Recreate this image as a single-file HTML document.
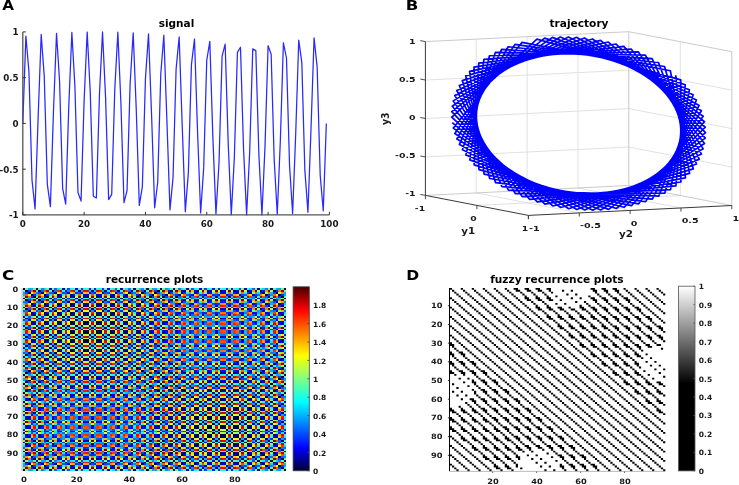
<!DOCTYPE html>
<html><head><meta charset="utf-8"><style>
html,body{margin:0;padding:0;background:#fff;}
svg{display:block}
text{font-family:"DejaVu Sans","Liberation Sans",sans-serif;font-weight:bold}
</style></head><body>
<svg width="739" height="485" viewBox="0 0 739 485">
<polyline points="22.80,123.40 25.87,36.03 28.93,71.51 32.00,179.96 35.06,208.87 38.13,117.60 41.20,34.48 44.26,76.40 47.33,184.41 50.39,206.63 53.46,111.82 56.53,33.29 59.59,81.47 62.66,188.61 65.72,204.05 68.79,106.08 71.86,32.46 74.92,86.71 77.99,192.55 81.05,201.15 84.12,100.42 87.19,32.00 90.25,92.11 93.32,196.21 96.38,197.93 99.45,94.85 102.52,31.91 105.58,97.62 108.65,199.58 111.71,194.42 114.78,89.39 117.85,32.19 120.91,103.24 123.98,202.64 127.04,190.62 130.11,84.07 133.18,32.83 136.24,108.94 139.31,205.38 142.37,186.54 145.44,78.91 148.51,33.84 151.57,114.70 154.64,207.80 157.70,182.22 160.77,73.93 163.84,35.21 166.90,120.50 169.97,209.87 173.03,177.65 176.10,69.15 179.17,36.93 182.23,126.30 185.30,211.59 188.36,172.87 191.43,64.58 194.50,39.00 197.56,132.10 200.63,212.96 203.69,167.89 206.76,60.26 209.83,41.42 212.89,137.86 215.96,213.97 219.02,162.73 222.09,56.18 225.16,44.16 228.22,143.56 231.29,214.61 234.35,157.41 237.42,52.38 240.49,47.22 243.55,149.18 246.62,214.89 249.68,151.95 252.75,48.87 255.82,50.59 258.88,154.69 261.95,214.80 265.01,146.38 268.08,45.65 271.15,54.25 274.21,160.09 277.28,214.34 280.34,140.72 283.41,42.75 286.48,58.19 289.54,165.33 292.61,213.51 295.67,134.98 298.74,40.17 301.81,62.39 304.87,170.40 307.94,212.32 311.00,129.20 314.07,37.93 317.14,66.84 320.20,175.29 323.27,210.77 326.33,123.40" fill="none" stroke="#2828ff" stroke-width="1.25" stroke-linejoin="round"/>
<path d="M22.8 31.9V214.9H329.4" fill="none" stroke="#555" stroke-width="1.3"/>
<text transform="translate(18.70,218.40) scale(1.065,1)" text-anchor="end" font-size="8.2" fill="#1a1a1a">-1</text>
<text transform="translate(18.70,172.65) scale(1.065,1)" text-anchor="end" font-size="8.2" fill="#1a1a1a">-0.5</text>
<text transform="translate(18.70,126.90) scale(1.065,1)" text-anchor="end" font-size="8.2" fill="#1a1a1a">0</text>
<text transform="translate(18.70,81.15) scale(1.065,1)" text-anchor="end" font-size="8.2" fill="#1a1a1a">0.5</text>
<text transform="translate(18.70,35.40) scale(1.065,1)" text-anchor="end" font-size="8.2" fill="#1a1a1a">1</text>
<text transform="translate(22.80,226.60) scale(1.065,1)" text-anchor="middle" font-size="8.2" fill="#1a1a1a">0</text>
<text transform="translate(84.12,226.60) scale(1.065,1)" text-anchor="middle" font-size="8.2" fill="#1a1a1a">20</text>
<text transform="translate(145.44,226.60) scale(1.065,1)" text-anchor="middle" font-size="8.2" fill="#1a1a1a">40</text>
<text transform="translate(206.76,226.60) scale(1.065,1)" text-anchor="middle" font-size="8.2" fill="#1a1a1a">60</text>
<text transform="translate(268.08,226.60) scale(1.065,1)" text-anchor="middle" font-size="8.2" fill="#1a1a1a">80</text>
<text transform="translate(329.40,226.60) scale(1.065,1)" text-anchor="middle" font-size="8.2" fill="#1a1a1a">100</text>
<path d="M22.8 214.90h3 M22.8 169.15h3 M22.8 123.40h3 M22.8 77.65h3 M22.8 31.90h3 M22.80 214.9v-3 M84.12 214.9v-3 M145.44 214.9v-3 M206.76 214.9v-3 M268.08 214.9v-3 M329.40 214.9v-3" stroke="#333" stroke-width="1"/>
<text transform="translate(176.50,27.30)" text-anchor="middle" font-size="10.5" fill="#000">signal</text>
<path d="M476.25 192.93L476.25 39.12M425.40 156.95L628.80 147.05M628.80 147.05L731.80 167.05M476.25 192.93L579.25 212.93M527.10 190.45L527.10 36.65M425.40 118.50L628.80 108.60M628.80 108.60L731.80 128.60M527.10 190.45L630.10 210.45M577.95 187.97L577.95 34.17M425.40 80.05L628.80 70.15M628.80 70.15L731.80 90.15M577.95 187.97L680.95 207.97M680.30 195.50L680.30 41.70M476.90 205.40L680.30 195.50" stroke="#dedede" stroke-width="0.9" fill="none"/>
<path d="M425.40 41.60L628.80 31.70L731.80 51.70L731.80 205.50M628.80 185.50L628.80 31.70M425.40 195.40L628.80 185.50L731.80 205.50" stroke="#c4c4c4" stroke-width="0.9" fill="none"/>
<polyline points="675.71,75.22 685.45,177.83 544.94,204.12 451.76,117.12 536.94,39.16 680.70,79.87 680.89,182.00 537.24,201.94 451.75,111.65 544.63,38.10 685.27,84.70 675.92,185.94 529.72,199.44 452.25,106.23 552.45,37.37 689.42,89.69 670.56,189.62 522.39,196.64 453.26,100.89 560.38,37.00 693.12,94.82 664.83,193.04 515.29,193.55 454.78,95.63 568.38,36.97 696.36,100.06 658.75,196.18 508.44,190.17 456.79,90.49 576.43,37.29 699.12,105.39 652.34,199.03 501.87,186.53 459.29,85.47 584.48,37.96 701.40,110.80 645.64,201.57 495.61,182.63 462.28,80.62 592.51,38.97 703.18,116.26 638.68,203.80 489.69,178.50 465.73,75.93 600.48,40.33 704.47,121.75 631.46,205.70 484.13,174.14 469.63,71.44 608.36,42.02 705.24,127.24 624.04,207.28 478.94,169.58 473.98,67.16 616.13,44.03 705.51,132.72 616.43,208.51 474.16,164.83 478.75,63.10 623.74,46.37 705.26,138.17 608.67,209.41 469.80,159.92 483.91,59.29 631.17,49.02 704.51,143.55 600.79,209.96 465.87,154.86 489.46,55.74 638.39,51.97 703.24,148.86 592.83,210.16 462.40,149.68 495.37,52.45 645.37,55.20 701.48,154.06 584.80,210.01 459.40,144.39 501.62,49.46 652.08,58.72 699.22,159.14 576.75,209.52 456.88,139.01 508.17,46.76 658.50,62.49 696.48,164.07 568.70,208.68 454.85,133.58 515.01,44.38 664.59,66.51 693.26,168.85 560.70,207.49 453.31,128.10 522.10,42.31 670.34,70.76 689.58,173.44 552.77,205.97 452.28,122.61" fill="none" stroke="#0000ff" stroke-width="1.7" stroke-linejoin="round"/>
<path d="M425.40 41.60L425.40 195.40L528.40 215.40L731.80 205.50" stroke="#3a3a3a" stroke-width="1.0" fill="none"/>
<text transform="translate(415.60,196.40) scale(1.270,1)" text-anchor="end" font-size="7.4" fill="#1a1a1a">-1</text>
<text transform="translate(415.60,158.25) scale(1.270,1)" text-anchor="end" font-size="7.4" fill="#1a1a1a">-0.5</text>
<text transform="translate(415.60,120.10) scale(1.270,1)" text-anchor="end" font-size="7.4" fill="#1a1a1a">0</text>
<text transform="translate(415.60,81.95) scale(1.270,1)" text-anchor="end" font-size="7.4" fill="#1a1a1a">0.5</text>
<text transform="translate(415.60,43.80) scale(1.270,1)" text-anchor="end" font-size="7.4" fill="#1a1a1a">1</text>
<text transform="translate(425.10,211.20) scale(1.250,1)" text-anchor="end" font-size="7.4" fill="#1a1a1a">-1</text>
<text transform="translate(476.60,221.20) scale(1.250,1)" text-anchor="end" font-size="7.4" fill="#1a1a1a">0</text>
<text transform="translate(528.10,231.20) scale(1.250,1)" text-anchor="end" font-size="7.4" fill="#1a1a1a">1</text>
<text transform="translate(529.10,230.80) scale(1.290,1)" font-size="7.4" fill="#1a1a1a">-1</text>
<text transform="translate(579.95,228.33) scale(1.290,1)" font-size="7.4" fill="#1a1a1a">-0.5</text>
<text transform="translate(630.80,225.85) scale(1.290,1)" font-size="7.4" fill="#1a1a1a">0</text>
<text transform="translate(681.65,223.38) scale(1.290,1)" font-size="7.4" fill="#1a1a1a">0.5</text>
<text transform="translate(732.50,220.90) scale(1.290,1)" font-size="7.4" fill="#1a1a1a">1</text>
<path d="M425.40 195.40L420.30 194.41M425.40 156.95L420.30 155.96M425.40 118.50L420.30 117.51M425.40 80.05L420.30 79.06M425.40 41.60L420.30 40.61M425.40 195.40l0 3.8M476.90 205.40l0 3.8M528.40 215.40l0 3.8M528.40 215.40l0 3.6M579.25 212.93l0 3.6M630.10 210.45l0 3.6M680.95 207.97l0 3.6M731.80 205.50l0 3.6" stroke="#3a3a3a" stroke-width="0.9"/>
<text transform="translate(468.30,233.90) scale(1.190,1)" text-anchor="middle" font-size="8.7" fill="#1a1a1a">y1</text>
<text transform="translate(626.00,236.60) scale(1.190,1)" text-anchor="middle" font-size="8.7" fill="#1a1a1a">y2</text>
<text transform="translate(388.60,118.75) scale(1.070,1) rotate(-90)" text-anchor="middle" font-size="9.4" fill="#1a1a1a">y3</text>
<text transform="translate(579.00,27.00)" text-anchor="middle" font-size="10.6" fill="#000">trajectory</text>
<g transform="translate(22.6,288.4) scale(2.63600,1.82300)" shape-rendering="crispEdges">
<path fill="#000040" d="M0 0h1v1h-1zM99 0h1v1h-1zM1 1h1v1h-1zM6 1h1v1h-1zM11 1h1v1h-1zM41 1h1v1h-1zM46 1h1v1h-1zM51 1h1v1h-1zM95 1h1v1h-1zM2 2h1v1h-1zM45 2h1v1h-1zM50 2h1v1h-1zM3 3h1v1h-1zM44 3h1v1h-1zM49 3h1v1h-1zM4 4h1v1h-1zM9 4h1v1h-1zM43 4h1v1h-1zM48 4h1v1h-1zM53 4h1v1h-1zM98 4h1v1h-1zM5 5h1v1h-1zM1 6h1v1h-1zM6 6h1v1h-1zM11 6h1v1h-1zM16 6h1v1h-1zM21 6h1v1h-1zM26 6h1v1h-1zM31 6h1v1h-1zM36 6h1v1h-1zM41 6h1v1h-1zM46 6h1v1h-1zM51 6h1v1h-1zM7 7h1v1h-1zM40 7h1v1h-1zM45 7h1v1h-1zM8 8h1v1h-1zM39 8h1v1h-1zM44 8h1v1h-1zM4 9h1v1h-1zM9 9h1v1h-1zM14 9h1v1h-1zM38 9h1v1h-1zM43 9h1v1h-1zM10 10h1v1h-1zM1 11h1v1h-1zM6 11h1v1h-1zM11 11h1v1h-1zM16 11h1v1h-1zM21 11h1v1h-1zM26 11h1v1h-1zM31 11h1v1h-1zM36 11h1v1h-1zM41 11h1v1h-1zM46 11h1v1h-1zM12 12h1v1h-1zM35 12h1v1h-1zM40 12h1v1h-1zM13 13h1v1h-1zM34 13h1v1h-1zM39 13h1v1h-1zM9 14h1v1h-1zM14 14h1v1h-1zM33 14h1v1h-1zM38 14h1v1h-1zM15 15h1v1h-1zM32 15h1v1h-1zM37 15h1v1h-1zM6 16h1v1h-1zM11 16h1v1h-1zM16 16h1v1h-1zM21 16h1v1h-1zM26 16h1v1h-1zM31 16h1v1h-1zM36 16h1v1h-1zM41 16h1v1h-1zM46 16h1v1h-1zM17 17h1v1h-1zM30 17h1v1h-1zM35 17h1v1h-1zM18 18h1v1h-1zM29 18h1v1h-1zM34 18h1v1h-1zM19 19h1v1h-1zM28 19h1v1h-1zM33 19h1v1h-1zM20 20h1v1h-1zM27 20h1v1h-1zM32 20h1v1h-1zM6 21h1v1h-1zM11 21h1v1h-1zM16 21h1v1h-1zM21 21h1v1h-1zM26 21h1v1h-1zM31 21h1v1h-1zM36 21h1v1h-1zM41 21h1v1h-1zM22 22h1v1h-1zM25 22h1v1h-1zM30 22h1v1h-1zM23 23h2v1h-2zM29 23h1v1h-1zM23 24h2v1h-2zM28 24h1v1h-1zM22 25h1v1h-1zM25 25h1v1h-1zM27 25h1v1h-1zM6 26h1v1h-1zM11 26h1v1h-1zM16 26h1v1h-1zM21 26h1v1h-1zM26 26h1v1h-1zM31 26h1v1h-1zM36 26h1v1h-1zM41 26h1v1h-1zM20 27h1v1h-1zM25 27h1v1h-1zM27 27h1v1h-1zM19 28h1v1h-1zM24 28h1v1h-1zM28 28h1v1h-1zM18 29h1v1h-1zM23 29h1v1h-1zM29 29h1v1h-1zM17 30h1v1h-1zM22 30h1v1h-1zM30 30h1v1h-1zM6 31h1v1h-1zM11 31h1v1h-1zM16 31h1v1h-1zM21 31h1v1h-1zM26 31h1v1h-1zM31 31h1v1h-1zM36 31h1v1h-1zM41 31h1v1h-1zM15 32h1v1h-1zM20 32h1v1h-1zM32 32h1v1h-1zM14 33h1v1h-1zM19 33h1v1h-1zM33 33h1v1h-1zM38 33h1v1h-1zM13 34h1v1h-1zM18 34h1v1h-1zM34 34h1v1h-1zM12 35h1v1h-1zM17 35h1v1h-1zM35 35h1v1h-1zM6 36h1v1h-1zM11 36h1v1h-1zM16 36h1v1h-1zM21 36h1v1h-1zM26 36h1v1h-1zM31 36h1v1h-1zM36 36h1v1h-1zM41 36h1v1h-1zM46 36h1v1h-1zM15 37h1v1h-1zM37 37h1v1h-1zM9 38h1v1h-1zM14 38h1v1h-1zM33 38h1v1h-1zM38 38h1v1h-1zM43 38h1v1h-1zM8 39h1v1h-1zM13 39h1v1h-1zM39 39h1v1h-1zM7 40h1v1h-1zM12 40h1v1h-1zM40 40h1v1h-1zM1 41h1v1h-1zM6 41h1v1h-1zM11 41h1v1h-1zM16 41h1v1h-1zM21 41h1v1h-1zM26 41h1v1h-1zM31 41h1v1h-1zM36 41h1v1h-1zM41 41h1v1h-1zM46 41h1v1h-1zM42 42h1v1h-1zM4 43h1v1h-1zM9 43h1v1h-1zM38 43h1v1h-1zM43 43h1v1h-1zM48 43h1v1h-1zM3 44h1v1h-1zM8 44h1v1h-1zM44 44h1v1h-1zM2 45h1v1h-1zM7 45h1v1h-1zM45 45h1v1h-1zM1 46h1v1h-1zM6 46h1v1h-1zM11 46h1v1h-1zM16 46h1v1h-1zM36 46h1v1h-1zM41 46h1v1h-1zM46 46h1v1h-1zM51 46h1v1h-1zM95 46h1v1h-1zM47 47h1v1h-1zM4 48h1v1h-1zM43 48h1v1h-1zM48 48h1v1h-1zM53 48h1v1h-1zM93 48h1v1h-1zM98 48h1v1h-1zM3 49h1v1h-1zM49 49h1v1h-1zM97 49h1v1h-1zM2 50h1v1h-1zM50 50h1v1h-1zM96 50h1v1h-1zM1 51h1v1h-1zM6 51h1v1h-1zM46 51h1v1h-1zM51 51h1v1h-1zM56 51h1v1h-1zM95 51h1v1h-1zM52 52h1v1h-1zM4 53h1v1h-1zM48 53h1v1h-1zM53 53h1v1h-1zM58 53h1v1h-1zM63 53h1v1h-1zM83 53h1v1h-1zM88 53h1v1h-1zM93 53h1v1h-1zM98 53h1v1h-1zM54 54h1v1h-1zM92 54h1v1h-1zM97 54h1v1h-1zM55 55h1v1h-1zM91 55h1v1h-1zM96 55h1v1h-1zM51 56h1v1h-1zM56 56h1v1h-1zM61 56h1v1h-1zM90 56h1v1h-1zM95 56h1v1h-1zM57 57h1v1h-1zM53 58h1v1h-1zM58 58h1v1h-1zM63 58h1v1h-1zM68 58h1v1h-1zM73 58h1v1h-1zM78 58h1v1h-1zM83 58h1v1h-1zM88 58h1v1h-1zM93 58h1v1h-1zM98 58h1v1h-1zM59 59h1v1h-1zM87 59h1v1h-1zM92 59h1v1h-1zM60 60h1v1h-1zM86 60h1v1h-1zM91 60h1v1h-1zM56 61h1v1h-1zM61 61h1v1h-1zM66 61h1v1h-1zM85 61h1v1h-1zM90 61h1v1h-1zM62 62h1v1h-1zM84 62h1v1h-1zM53 63h1v1h-1zM58 63h1v1h-1zM63 63h1v1h-1zM68 63h1v1h-1zM73 63h1v1h-1zM78 63h1v1h-1zM83 63h1v1h-1zM88 63h1v1h-1zM93 63h1v1h-1zM64 64h1v1h-1zM82 64h1v1h-1zM87 64h1v1h-1zM65 65h1v1h-1zM81 65h1v1h-1zM86 65h1v1h-1zM61 66h1v1h-1zM66 66h1v1h-1zM80 66h1v1h-1zM85 66h1v1h-1zM67 67h1v1h-1zM79 67h1v1h-1zM84 67h1v1h-1zM58 68h1v1h-1zM63 68h1v1h-1zM68 68h1v1h-1zM73 68h1v1h-1zM78 68h1v1h-1zM83 68h1v1h-1zM88 68h1v1h-1zM93 68h1v1h-1zM69 69h1v1h-1zM77 69h1v1h-1zM82 69h1v1h-1zM70 70h1v1h-1zM76 70h1v1h-1zM81 70h1v1h-1zM71 71h1v1h-1zM75 71h1v1h-1zM80 71h1v1h-1zM72 72h1v1h-1zM74 72h1v1h-1zM79 72h1v1h-1zM58 73h1v1h-1zM63 73h1v1h-1zM68 73h1v1h-1zM73 73h1v1h-1zM78 73h1v1h-1zM83 73h1v1h-1zM88 73h1v1h-1zM93 73h1v1h-1zM72 74h1v1h-1zM74 74h1v1h-1zM77 74h1v1h-1zM71 75h1v1h-1zM75 75h2v1h-2zM70 76h1v1h-1zM75 76h2v1h-2zM69 77h1v1h-1zM74 77h1v1h-1zM77 77h1v1h-1zM58 78h1v1h-1zM63 78h1v1h-1zM68 78h1v1h-1zM73 78h1v1h-1zM78 78h1v1h-1zM83 78h1v1h-1zM88 78h1v1h-1zM93 78h1v1h-1zM67 79h1v1h-1zM72 79h1v1h-1zM79 79h1v1h-1zM66 80h1v1h-1zM71 80h1v1h-1zM80 80h1v1h-1zM65 81h1v1h-1zM70 81h1v1h-1zM81 81h1v1h-1zM64 82h1v1h-1zM69 82h1v1h-1zM82 82h1v1h-1zM53 83h1v1h-1zM58 83h1v1h-1zM63 83h1v1h-1zM68 83h1v1h-1zM73 83h1v1h-1zM78 83h1v1h-1zM83 83h1v1h-1zM88 83h1v1h-1zM93 83h1v1h-1zM62 84h1v1h-1zM67 84h1v1h-1zM84 84h1v1h-1zM61 85h1v1h-1zM66 85h1v1h-1zM85 85h1v1h-1zM90 85h1v1h-1zM60 86h1v1h-1zM65 86h1v1h-1zM86 86h1v1h-1zM59 87h1v1h-1zM64 87h1v1h-1zM87 87h1v1h-1zM53 88h1v1h-1zM58 88h1v1h-1zM63 88h1v1h-1zM68 88h1v1h-1zM73 88h1v1h-1zM78 88h1v1h-1zM83 88h1v1h-1zM88 88h1v1h-1zM93 88h1v1h-1zM98 88h1v1h-1zM89 89h1v1h-1zM56 90h1v1h-1zM61 90h1v1h-1zM85 90h1v1h-1zM90 90h1v1h-1zM95 90h1v1h-1zM55 91h1v1h-1zM60 91h1v1h-1zM91 91h1v1h-1zM54 92h1v1h-1zM59 92h1v1h-1zM92 92h1v1h-1zM48 93h1v1h-1zM53 93h1v1h-1zM58 93h1v1h-1zM63 93h1v1h-1zM68 93h1v1h-1zM73 93h1v1h-1zM78 93h1v1h-1zM83 93h1v1h-1zM88 93h1v1h-1zM93 93h1v1h-1zM98 93h1v1h-1zM94 94h1v1h-1zM1 95h1v1h-1zM46 95h1v1h-1zM51 95h1v1h-1zM56 95h1v1h-1zM90 95h1v1h-1zM95 95h1v1h-1zM50 96h1v1h-1zM55 96h1v1h-1zM96 96h1v1h-1zM49 97h1v1h-1zM54 97h1v1h-1zM97 97h1v1h-1zM4 98h1v1h-1zM48 98h1v1h-1zM53 98h1v1h-1zM58 98h1v1h-1zM88 98h1v1h-1zM93 98h1v1h-1zM98 98h1v1h-1zM0 99h1v1h-1zM99 99h1v1h-1z"/>
<path fill="#000059" d="M47 0h1v1h-1zM52 0h1v1h-1zM16 1h1v1h-1zM21 1h1v1h-1zM26 1h1v1h-1zM31 1h1v1h-1zM36 1h1v1h-1zM56 1h1v1h-1zM61 1h1v1h-1zM90 1h1v1h-1zM7 2h1v1h-1zM96 2h1v1h-1zM8 3h1v1h-1zM97 3h1v1h-1zM14 4h1v1h-1zM38 4h1v1h-1zM58 4h1v1h-1zM63 4h1v1h-1zM83 4h1v1h-1zM88 4h1v1h-1zM93 4h1v1h-1zM42 5h1v1h-1zM47 5h1v1h-1zM56 6h1v1h-1zM90 6h1v1h-1zM95 6h1v1h-1zM2 7h1v1h-1zM12 7h1v1h-1zM3 8h1v1h-1zM13 8h1v1h-1zM19 9h1v1h-1zM33 9h1v1h-1zM48 9h1v1h-1zM53 9h1v1h-1zM93 9h1v1h-1zM98 9h1v1h-1zM37 10h1v1h-1zM42 10h1v1h-1zM51 11h1v1h-1zM56 11h1v1h-1zM95 11h1v1h-1zM7 12h1v1h-1zM17 12h1v1h-1zM8 13h1v1h-1zM18 13h1v1h-1zM4 14h1v1h-1zM19 14h1v1h-1zM28 14h1v1h-1zM43 14h1v1h-1zM20 15h1v1h-1zM1 16h1v1h-1zM51 16h1v1h-1zM95 16h1v1h-1zM12 17h1v1h-1zM22 17h1v1h-1zM13 18h1v1h-1zM23 18h2v1h-2zM9 19h1v1h-1zM14 19h1v1h-1zM23 19h2v1h-2zM38 19h1v1h-1zM15 20h1v1h-1zM25 20h1v1h-1zM1 21h1v1h-1zM46 21h1v1h-1zM51 21h1v1h-1zM17 22h1v1h-1zM27 22h1v1h-1zM18 23h2v1h-2zM28 23h1v1h-1zM34 23h1v1h-1zM18 24h2v1h-2zM29 24h1v1h-1zM33 24h1v1h-1zM20 25h1v1h-1zM30 25h1v1h-1zM1 26h1v1h-1zM46 26h1v1h-1zM51 26h1v1h-1zM22 27h1v1h-1zM32 27h1v1h-1zM14 28h1v1h-1zM23 28h1v1h-1zM29 28h1v1h-1zM33 28h1v1h-1zM24 29h1v1h-1zM28 29h1v1h-1zM34 29h1v1h-1zM25 30h1v1h-1zM35 30h1v1h-1zM1 31h1v1h-1zM46 31h1v1h-1zM51 31h1v1h-1zM27 32h1v1h-1zM37 32h1v1h-1zM9 33h1v1h-1zM24 33h1v1h-1zM28 33h1v1h-1zM43 33h1v1h-1zM23 34h1v1h-1zM29 34h1v1h-1zM39 34h1v1h-1zM30 35h1v1h-1zM40 35h1v1h-1zM1 36h1v1h-1zM51 36h1v1h-1zM95 36h1v1h-1zM10 37h1v1h-1zM32 37h1v1h-1zM4 38h1v1h-1zM19 38h1v1h-1zM48 38h1v1h-1zM98 38h1v1h-1zM34 39h1v1h-1zM44 39h1v1h-1zM35 40h1v1h-1zM45 40h1v1h-1zM51 41h1v1h-1zM56 41h1v1h-1zM95 41h1v1h-1zM5 42h1v1h-1zM10 42h1v1h-1zM14 43h1v1h-1zM33 43h1v1h-1zM53 43h1v1h-1zM58 43h1v1h-1zM88 43h1v1h-1zM93 43h1v1h-1zM98 43h1v1h-1zM39 44h1v1h-1zM49 44h1v1h-1zM40 45h1v1h-1zM50 45h1v1h-1zM21 46h1v1h-1zM26 46h1v1h-1zM31 46h1v1h-1zM56 46h1v1h-1zM90 46h1v1h-1zM0 47h1v1h-1zM5 47h1v1h-1zM99 47h1v1h-1zM9 48h1v1h-1zM38 48h1v1h-1zM58 48h1v1h-1zM63 48h1v1h-1zM68 48h1v1h-1zM73 48h1v1h-1zM78 48h1v1h-1zM83 48h1v1h-1zM88 48h1v1h-1zM44 49h1v1h-1zM54 49h1v1h-1zM45 50h1v1h-1zM55 50h1v1h-1zM11 51h1v1h-1zM16 51h1v1h-1zM21 51h1v1h-1zM26 51h1v1h-1zM31 51h1v1h-1zM36 51h1v1h-1zM41 51h1v1h-1zM61 51h1v1h-1zM90 51h1v1h-1zM0 52h1v1h-1zM94 52h1v1h-1zM99 52h1v1h-1zM9 53h1v1h-1zM43 53h1v1h-1zM68 53h1v1h-1zM73 53h1v1h-1zM78 53h1v1h-1zM49 54h1v1h-1zM59 54h1v1h-1zM50 55h1v1h-1zM60 55h1v1h-1zM1 56h1v1h-1zM6 56h1v1h-1zM11 56h1v1h-1zM41 56h1v1h-1zM46 56h1v1h-1zM66 56h1v1h-1zM85 56h1v1h-1zM89 57h1v1h-1zM94 57h1v1h-1zM4 58h1v1h-1zM43 58h1v1h-1zM48 58h1v1h-1zM54 59h1v1h-1zM64 59h1v1h-1zM55 60h1v1h-1zM65 60h1v1h-1zM1 61h1v1h-1zM51 61h1v1h-1zM80 61h1v1h-1zM95 61h1v1h-1zM67 62h1v1h-1zM89 62h1v1h-1zM4 63h1v1h-1zM48 63h1v1h-1zM98 63h1v1h-1zM59 64h1v1h-1zM69 64h1v1h-1zM60 65h1v1h-1zM70 65h1v1h-1zM76 65h1v1h-1zM56 66h1v1h-1zM71 66h1v1h-1zM75 66h1v1h-1zM90 66h1v1h-1zM62 67h1v1h-1zM72 67h1v1h-1zM48 68h1v1h-1zM53 68h1v1h-1zM98 68h1v1h-1zM64 69h1v1h-1zM74 69h1v1h-1zM65 70h1v1h-1zM71 70h1v1h-1zM75 70h1v1h-1zM66 71h1v1h-1zM70 71h1v1h-1zM76 71h1v1h-1zM85 71h1v1h-1zM67 72h1v1h-1zM77 72h1v1h-1zM48 73h1v1h-1zM53 73h1v1h-1zM98 73h1v1h-1zM69 74h1v1h-1zM79 74h1v1h-1zM66 75h1v1h-1zM70 75h1v1h-1zM80 75h2v1h-2zM65 76h1v1h-1zM71 76h1v1h-1zM80 76h2v1h-2zM72 77h1v1h-1zM82 77h1v1h-1zM48 78h1v1h-1zM53 78h1v1h-1zM98 78h1v1h-1zM74 79h1v1h-1zM84 79h1v1h-1zM61 80h1v1h-1zM75 80h2v1h-2zM85 80h1v1h-1zM90 80h1v1h-1zM75 81h2v1h-2zM86 81h1v1h-1zM77 82h1v1h-1zM87 82h1v1h-1zM4 83h1v1h-1zM48 83h1v1h-1zM98 83h1v1h-1zM79 84h1v1h-1zM56 85h1v1h-1zM71 85h1v1h-1zM80 85h1v1h-1zM95 85h1v1h-1zM81 86h1v1h-1zM91 86h1v1h-1zM82 87h1v1h-1zM92 87h1v1h-1zM4 88h1v1h-1zM43 88h1v1h-1zM48 88h1v1h-1zM57 89h1v1h-1zM62 89h1v1h-1zM1 90h1v1h-1zM6 90h1v1h-1zM46 90h1v1h-1zM51 90h1v1h-1zM66 90h1v1h-1zM80 90h1v1h-1zM86 91h1v1h-1zM96 91h1v1h-1zM87 92h1v1h-1zM97 92h1v1h-1zM4 93h1v1h-1zM9 93h1v1h-1zM43 93h1v1h-1zM52 94h1v1h-1zM57 94h1v1h-1zM6 95h1v1h-1zM11 95h1v1h-1zM16 95h1v1h-1zM36 95h1v1h-1zM41 95h1v1h-1zM61 95h1v1h-1zM85 95h1v1h-1zM2 96h1v1h-1zM91 96h1v1h-1zM3 97h1v1h-1zM92 97h1v1h-1zM9 98h1v1h-1zM38 98h1v1h-1zM43 98h1v1h-1zM63 98h1v1h-1zM68 98h1v1h-1zM73 98h1v1h-1zM78 98h1v1h-1zM83 98h1v1h-1zM47 99h1v1h-1zM52 99h1v1h-1z"/>
<path fill="#000073" d="M5 0h1v1h-1zM94 0h1v1h-1zM66 1h1v1h-1zM85 1h1v1h-1zM40 2h1v1h-1zM55 2h1v1h-1zM39 3h1v1h-1zM54 3h1v1h-1zM19 4h1v1h-1zM33 4h1v1h-1zM68 4h1v1h-1zM73 4h1v1h-1zM78 4h1v1h-1zM0 5h1v1h-1zM10 5h1v1h-1zM99 5h1v1h-1zM61 6h1v1h-1zM85 6h1v1h-1zM35 7h1v1h-1zM50 7h1v1h-1zM18 8h1v1h-1zM34 8h1v1h-1zM49 8h1v1h-1zM28 9h1v1h-1zM58 9h1v1h-1zM63 9h1v1h-1zM68 9h1v1h-1zM73 9h1v1h-1zM78 9h1v1h-1zM83 9h1v1h-1zM88 9h1v1h-1zM5 10h1v1h-1zM15 10h1v1h-1zM32 10h1v1h-1zM61 11h1v1h-1zM90 11h1v1h-1zM30 12h1v1h-1zM45 12h1v1h-1zM23 13h1v1h-1zM29 13h1v1h-1zM44 13h1v1h-1zM23 14h2v1h-2zM48 14h1v1h-1zM53 14h1v1h-1zM93 14h1v1h-1zM98 14h1v1h-1zM10 15h1v1h-1zM27 15h1v1h-1zM56 16h1v1h-1zM90 16h1v1h-1zM25 17h1v1h-1zM40 17h1v1h-1zM8 18h1v1h-1zM28 18h1v1h-1zM39 18h1v1h-1zM4 19h1v1h-1zM29 19h1v1h-1zM43 19h1v1h-1zM22 20h1v1h-1zM37 20h1v1h-1zM56 21h1v1h-1zM90 21h1v1h-1zM95 21h1v1h-1zM20 22h1v1h-1zM35 22h1v1h-1zM13 23h2v1h-2zM33 23h1v1h-1zM14 24h1v1h-1zM34 24h1v1h-1zM38 24h1v1h-1zM17 25h1v1h-1zM32 25h1v1h-1zM56 26h1v1h-1zM90 26h1v1h-1zM95 26h1v1h-1zM15 27h1v1h-1zM30 27h1v1h-1zM9 28h1v1h-1zM18 28h1v1h-1zM38 28h1v1h-1zM43 28h1v1h-1zM13 29h1v1h-1zM19 29h1v1h-1zM33 29h1v1h-1zM39 29h1v1h-1zM12 30h1v1h-1zM27 30h1v1h-1zM56 31h1v1h-1zM90 31h1v1h-1zM95 31h1v1h-1zM10 32h1v1h-1zM25 32h1v1h-1zM4 33h1v1h-1zM23 33h1v1h-1zM29 33h1v1h-1zM48 33h1v1h-1zM98 33h1v1h-1zM8 34h1v1h-1zM24 34h1v1h-1zM44 34h1v1h-1zM7 35h1v1h-1zM22 35h1v1h-1zM56 36h1v1h-1zM90 36h1v1h-1zM20 37h1v1h-1zM42 37h1v1h-1zM24 38h1v1h-1zM28 38h1v1h-1zM53 38h1v1h-1zM58 38h1v1h-1zM88 38h1v1h-1zM93 38h1v1h-1zM3 39h1v1h-1zM18 39h1v1h-1zM29 39h1v1h-1zM2 40h1v1h-1zM17 40h1v1h-1zM61 41h1v1h-1zM90 41h1v1h-1zM37 42h1v1h-1zM47 42h1v1h-1zM19 43h1v1h-1zM28 43h1v1h-1zM63 43h1v1h-1zM68 43h1v1h-1zM73 43h1v1h-1zM78 43h1v1h-1zM83 43h1v1h-1zM13 44h1v1h-1zM34 44h1v1h-1zM97 44h1v1h-1zM12 45h1v1h-1zM96 45h1v1h-1zM61 46h1v1h-1zM85 46h1v1h-1zM42 47h1v1h-1zM52 47h1v1h-1zM14 48h1v1h-1zM33 48h1v1h-1zM8 49h1v1h-1zM92 49h1v1h-1zM7 50h1v1h-1zM91 50h1v1h-1zM66 51h1v1h-1zM85 51h1v1h-1zM47 52h1v1h-1zM57 52h1v1h-1zM14 53h1v1h-1zM38 53h1v1h-1zM3 54h1v1h-1zM87 54h1v1h-1zM2 55h1v1h-1zM65 55h1v1h-1zM86 55h1v1h-1zM16 56h1v1h-1zM21 56h1v1h-1zM26 56h1v1h-1zM31 56h1v1h-1zM36 56h1v1h-1zM71 56h1v1h-1zM80 56h1v1h-1zM52 57h1v1h-1zM62 57h1v1h-1zM9 58h1v1h-1zM38 58h1v1h-1zM82 59h1v1h-1zM97 59h1v1h-1zM70 60h1v1h-1zM81 60h1v1h-1zM96 60h1v1h-1zM6 61h1v1h-1zM11 61h1v1h-1zM41 61h1v1h-1zM46 61h1v1h-1zM71 61h1v1h-1zM75 61h1v1h-1zM57 62h1v1h-1zM79 62h1v1h-1zM9 63h1v1h-1zM43 63h1v1h-1zM77 64h1v1h-1zM92 64h1v1h-1zM55 65h1v1h-1zM75 65h1v1h-1zM91 65h1v1h-1zM1 66h1v1h-1zM51 66h1v1h-1zM70 66h1v1h-1zM76 66h1v1h-1zM95 66h1v1h-1zM74 67h1v1h-1zM89 67h1v1h-1zM4 68h1v1h-1zM9 68h1v1h-1zM43 68h1v1h-1zM72 69h1v1h-1zM87 69h1v1h-1zM60 70h1v1h-1zM66 70h1v1h-1zM80 70h1v1h-1zM86 70h1v1h-1zM56 71h1v1h-1zM61 71h1v1h-1zM81 71h1v1h-1zM90 71h1v1h-1zM69 72h1v1h-1zM84 72h1v1h-1zM4 73h1v1h-1zM9 73h1v1h-1zM43 73h1v1h-1zM67 74h1v1h-1zM82 74h1v1h-1zM61 75h1v1h-1zM65 75h1v1h-1zM85 75h1v1h-1zM66 76h1v1h-1zM85 76h2v1h-2zM64 77h1v1h-1zM79 77h1v1h-1zM4 78h1v1h-1zM9 78h1v1h-1zM43 78h1v1h-1zM62 79h1v1h-1zM77 79h1v1h-1zM56 80h1v1h-1zM70 80h1v1h-1zM95 80h1v1h-1zM60 81h1v1h-1zM71 81h1v1h-1zM91 81h1v1h-1zM59 82h1v1h-1zM74 82h1v1h-1zM9 83h1v1h-1zM43 83h1v1h-1zM72 84h1v1h-1zM89 84h1v1h-1zM1 85h1v1h-1zM6 85h1v1h-1zM46 85h1v1h-1zM51 85h1v1h-1zM75 85h2v1h-2zM55 86h1v1h-1zM70 86h1v1h-1zM76 86h1v1h-1zM54 87h1v1h-1zM69 87h1v1h-1zM9 88h1v1h-1zM38 88h1v1h-1zM67 89h1v1h-1zM84 89h1v1h-1zM94 89h1v1h-1zM11 90h1v1h-1zM16 90h1v1h-1zM21 90h1v1h-1zM26 90h1v1h-1zM31 90h1v1h-1zM36 90h1v1h-1zM41 90h1v1h-1zM71 90h1v1h-1zM50 91h1v1h-1zM65 91h1v1h-1zM81 91h1v1h-1zM49 92h1v1h-1zM64 92h1v1h-1zM14 93h1v1h-1zM38 93h1v1h-1zM0 94h1v1h-1zM89 94h1v1h-1zM99 94h1v1h-1zM21 95h1v1h-1zM26 95h1v1h-1zM31 95h1v1h-1zM66 95h1v1h-1zM80 95h1v1h-1zM45 96h1v1h-1zM60 96h1v1h-1zM44 97h1v1h-1zM59 97h1v1h-1zM14 98h1v1h-1zM33 98h1v1h-1zM5 99h1v1h-1zM94 99h1v1h-1z"/>
<path fill="#00008c" d="M42 0h1v1h-1zM57 0h1v1h-1zM71 1h1v1h-1zM80 1h1v1h-1zM12 2h1v1h-1zM60 2h1v1h-1zM91 2h1v1h-1zM13 3h1v1h-1zM34 3h1v1h-1zM92 3h1v1h-1zM24 4h1v1h-1zM28 4h1v1h-1zM37 5h1v1h-1zM52 5h1v1h-1zM66 6h1v1h-1zM80 6h1v1h-1zM17 7h1v1h-1zM96 7h1v1h-1zM29 8h1v1h-1zM97 8h1v1h-1zM23 9h2v1h-2zM20 10h1v1h-1zM47 10h1v1h-1zM66 11h1v1h-1zM85 11h1v1h-1zM2 12h1v1h-1zM22 12h1v1h-1zM3 13h1v1h-1zM24 13h1v1h-1zM28 13h1v1h-1zM49 13h1v1h-1zM29 14h1v1h-1zM58 14h1v1h-1zM63 14h1v1h-1zM68 14h1v1h-1zM73 14h1v1h-1zM78 14h1v1h-1zM83 14h1v1h-1zM88 14h1v1h-1zM25 15h1v1h-1zM42 15h1v1h-1zM61 16h1v1h-1zM85 16h1v1h-1zM7 17h1v1h-1zM27 17h1v1h-1zM19 18h1v1h-1zM33 18h1v1h-1zM44 18h1v1h-1zM18 19h1v1h-1zM34 19h1v1h-1zM48 19h1v1h-1zM53 19h1v1h-1zM93 19h1v1h-1zM98 19h1v1h-1zM10 20h1v1h-1zM30 20h1v1h-1zM61 21h1v1h-1zM85 21h1v1h-1zM12 22h1v1h-1zM32 22h1v1h-1zM9 23h1v1h-1zM38 23h2v1h-2zM4 24h1v1h-1zM9 24h1v1h-1zM13 24h1v1h-1zM39 24h1v1h-1zM43 24h1v1h-1zM15 25h1v1h-1zM35 25h1v1h-1zM61 26h1v1h-1zM85 26h1v1h-1zM17 27h1v1h-1zM37 27h1v1h-1zM4 28h1v1h-1zM13 28h1v1h-1zM34 28h1v1h-1zM48 28h1v1h-1zM98 28h1v1h-1zM8 29h1v1h-1zM14 29h1v1h-1zM38 29h1v1h-1zM20 30h1v1h-1zM40 30h1v1h-1zM61 31h1v1h-1zM85 31h1v1h-1zM22 32h1v1h-1zM18 33h1v1h-1zM53 33h1v1h-1zM58 33h1v1h-1zM63 33h1v1h-1zM88 33h1v1h-1zM93 33h1v1h-1zM3 34h1v1h-1zM19 34h1v1h-1zM28 34h1v1h-1zM25 35h1v1h-1zM45 35h1v1h-1zM61 36h1v1h-1zM66 36h1v1h-1zM85 36h1v1h-1zM5 37h1v1h-1zM27 37h1v1h-1zM23 38h1v1h-1zM29 38h1v1h-1zM63 38h1v1h-1zM68 38h1v1h-1zM73 38h1v1h-1zM78 38h1v1h-1zM83 38h1v1h-1zM23 39h2v1h-2zM49 39h1v1h-1zM97 39h1v1h-1zM30 40h1v1h-1zM50 40h1v1h-1zM66 41h1v1h-1zM85 41h1v1h-1zM0 42h1v1h-1zM15 42h1v1h-1zM99 42h1v1h-1zM24 43h1v1h-1zM18 44h1v1h-1zM54 44h1v1h-1zM35 45h1v1h-1zM55 45h1v1h-1zM66 46h1v1h-1zM80 46h1v1h-1zM10 47h1v1h-1zM94 47h1v1h-1zM19 48h1v1h-1zM28 48h1v1h-1zM13 49h1v1h-1zM39 49h1v1h-1zM59 49h1v1h-1zM40 50h1v1h-1zM60 50h1v1h-1zM86 50h1v1h-1zM71 51h1v1h-1zM80 51h1v1h-1zM5 52h1v1h-1zM89 52h1v1h-1zM19 53h1v1h-1zM33 53h1v1h-1zM44 54h1v1h-1zM64 54h1v1h-1zM45 55h1v1h-1zM81 55h1v1h-1zM75 56h1v1h-1zM0 57h1v1h-1zM84 57h1v1h-1zM99 57h1v1h-1zM14 58h1v1h-1zM33 58h1v1h-1zM49 59h1v1h-1zM69 59h1v1h-1zM2 60h1v1h-1zM50 60h1v1h-1zM75 60h2v1h-2zM16 61h1v1h-1zM21 61h1v1h-1zM26 61h1v1h-1zM31 61h1v1h-1zM36 61h1v1h-1zM70 61h1v1h-1zM76 61h1v1h-1zM72 62h1v1h-1zM94 62h1v1h-1zM14 63h1v1h-1zM33 63h1v1h-1zM38 63h1v1h-1zM54 64h1v1h-1zM74 64h1v1h-1zM71 65h1v1h-1zM80 65h1v1h-1zM96 65h1v1h-1zM6 66h1v1h-1zM11 66h1v1h-1zM36 66h1v1h-1zM41 66h1v1h-1zM46 66h1v1h-1zM81 66h1v1h-1zM77 67h1v1h-1zM14 68h1v1h-1zM38 68h1v1h-1zM59 69h1v1h-1zM79 69h1v1h-1zM61 70h1v1h-1zM85 70h1v1h-1zM91 70h1v1h-1zM1 71h1v1h-1zM51 71h1v1h-1zM65 71h1v1h-1zM86 71h1v1h-1zM95 71h1v1h-1zM62 72h1v1h-1zM82 72h1v1h-1zM14 73h1v1h-1zM38 73h1v1h-1zM64 74h1v1h-1zM84 74h1v1h-1zM56 75h1v1h-1zM60 75h1v1h-1zM86 75h1v1h-1zM90 75h1v1h-1zM95 75h1v1h-1zM60 76h2v1h-2zM90 76h1v1h-1zM67 77h1v1h-1zM87 77h1v1h-1zM14 78h1v1h-1zM38 78h1v1h-1zM69 79h1v1h-1zM89 79h1v1h-1zM1 80h1v1h-1zM6 80h1v1h-1zM46 80h1v1h-1zM51 80h1v1h-1zM65 80h1v1h-1zM81 80h1v1h-1zM55 81h1v1h-1zM66 81h1v1h-1zM80 81h1v1h-1zM72 82h1v1h-1zM92 82h1v1h-1zM14 83h1v1h-1zM38 83h1v1h-1zM57 84h1v1h-1zM74 84h1v1h-1zM11 85h1v1h-1zM16 85h1v1h-1zM21 85h1v1h-1zM26 85h1v1h-1zM31 85h1v1h-1zM36 85h1v1h-1zM41 85h1v1h-1zM70 85h1v1h-1zM50 86h1v1h-1zM71 86h1v1h-1zM75 86h1v1h-1zM96 86h1v1h-1zM77 87h1v1h-1zM97 87h1v1h-1zM14 88h1v1h-1zM33 88h1v1h-1zM52 89h1v1h-1zM79 89h1v1h-1zM75 90h2v1h-2zM2 91h1v1h-1zM70 91h1v1h-1zM3 92h1v1h-1zM82 92h1v1h-1zM19 93h1v1h-1zM33 93h1v1h-1zM47 94h1v1h-1zM62 94h1v1h-1zM71 95h1v1h-1zM75 95h1v1h-1zM7 96h1v1h-1zM65 96h1v1h-1zM86 96h1v1h-1zM8 97h1v1h-1zM39 97h1v1h-1zM87 97h1v1h-1zM19 98h1v1h-1zM28 98h1v1h-1zM42 99h1v1h-1zM57 99h1v1h-1z"/>
<path fill="#0000a6" d="M10 0h1v1h-1zM89 0h1v1h-1zM75 1h1v1h-1zM35 2h1v1h-1zM86 2h1v1h-1zM18 3h1v1h-1zM59 3h1v1h-1zM23 4h1v1h-1zM15 5h1v1h-1zM94 5h1v1h-1zM71 6h1v1h-1zM30 7h1v1h-1zM55 7h1v1h-1zM91 7h1v1h-1zM23 8h2v1h-2zM54 8h1v1h-1zM92 8h1v1h-1zM18 9h1v1h-1zM29 9h1v1h-1zM0 10h1v1h-1zM27 10h1v1h-1zM99 10h1v1h-1zM71 11h1v1h-1zM80 11h1v1h-1zM25 12h1v1h-1zM50 12h1v1h-1zM19 13h1v1h-1zM33 13h1v1h-1zM97 13h1v1h-1zM18 14h1v1h-1zM34 14h1v1h-1zM5 15h1v1h-1zM22 15h1v1h-1zM66 16h1v1h-1zM80 16h1v1h-1zM20 17h1v1h-1zM45 17h1v1h-1zM3 18h1v1h-1zM9 18h1v1h-1zM14 18h1v1h-1zM38 18h1v1h-1zM13 19h1v1h-1zM58 19h1v1h-1zM63 19h1v1h-1zM68 19h1v1h-1zM73 19h1v1h-1zM78 19h1v1h-1zM83 19h1v1h-1zM88 19h1v1h-1zM17 20h1v1h-1zM42 20h1v1h-1zM66 21h1v1h-1zM80 21h1v1h-1zM15 22h1v1h-1zM40 22h1v1h-1zM4 23h1v1h-1zM8 23h1v1h-1zM43 23h2v1h-2zM48 23h1v1h-1zM8 24h1v1h-1zM48 24h1v1h-1zM53 24h1v1h-1zM98 24h1v1h-1zM12 25h1v1h-1zM37 25h1v1h-1zM66 26h1v1h-1zM80 26h1v1h-1zM10 27h1v1h-1zM35 27h1v1h-1zM39 28h1v1h-1zM53 28h1v1h-1zM58 28h1v1h-1zM88 28h1v1h-1zM93 28h1v1h-1zM9 29h1v1h-1zM43 29h2v1h-2zM7 30h1v1h-1zM32 30h1v1h-1zM66 31h1v1h-1zM80 31h1v1h-1zM30 32h1v1h-1zM42 32h1v1h-1zM13 33h1v1h-1zM34 33h1v1h-1zM68 33h1v1h-1zM73 33h1v1h-1zM78 33h1v1h-1zM83 33h1v1h-1zM14 34h1v1h-1zM33 34h1v1h-1zM49 34h1v1h-1zM2 35h1v1h-1zM27 35h1v1h-1zM80 36h1v1h-1zM25 37h1v1h-1zM47 37h1v1h-1zM18 38h1v1h-1zM28 39h1v1h-1zM54 39h1v1h-1zM22 40h1v1h-1zM96 40h1v1h-1zM71 41h1v1h-1zM80 41h1v1h-1zM20 42h1v1h-1zM32 42h1v1h-1zM52 42h1v1h-1zM23 43h1v1h-1zM29 43h1v1h-1zM23 44h1v1h-1zM29 44h1v1h-1zM92 44h1v1h-1zM17 45h1v1h-1zM60 45h1v1h-1zM91 45h1v1h-1zM71 46h1v1h-1zM75 46h1v1h-1zM37 47h1v1h-1zM57 47h1v1h-1zM23 48h2v1h-2zM34 49h1v1h-1zM87 49h1v1h-1zM12 50h1v1h-1zM65 50h1v1h-1zM75 51h2v1h-2zM42 52h1v1h-1zM62 52h1v1h-1zM24 53h1v1h-1zM28 53h1v1h-1zM8 54h1v1h-1zM39 54h1v1h-1zM82 54h1v1h-1zM7 55h1v1h-1zM70 55h1v1h-1zM76 55h1v1h-1zM70 56h1v1h-1zM76 56h1v1h-1zM47 57h1v1h-1zM67 57h1v1h-1zM79 57h1v1h-1zM19 58h1v1h-1zM28 58h1v1h-1zM3 59h1v1h-1zM77 59h1v1h-1zM45 60h1v1h-1zM71 60h1v1h-1zM81 61h1v1h-1zM52 62h1v1h-1zM74 62h1v1h-1zM19 63h1v1h-1zM72 64h1v1h-1zM97 64h1v1h-1zM50 65h1v1h-1zM66 65h1v1h-1zM85 65h1v1h-1zM16 66h1v1h-1zM21 66h1v1h-1zM26 66h1v1h-1zM31 66h1v1h-1zM65 66h1v1h-1zM86 66h1v1h-1zM57 67h1v1h-1zM69 67h1v1h-1zM19 68h1v1h-1zM33 68h1v1h-1zM67 69h1v1h-1zM92 69h1v1h-1zM55 70h2v1h-2zM90 70h1v1h-1zM6 71h1v1h-1zM11 71h1v1h-1zM41 71h1v1h-1zM46 71h1v1h-1zM60 71h1v1h-1zM64 72h1v1h-1zM89 72h1v1h-1zM19 73h1v1h-1zM33 73h1v1h-1zM62 74h1v1h-1zM87 74h1v1h-1zM1 75h1v1h-1zM46 75h1v1h-1zM51 75h1v1h-1zM91 75h1v1h-1zM51 76h1v1h-1zM55 76h2v1h-2zM91 76h1v1h-1zM95 76h1v1h-1zM59 77h1v1h-1zM84 77h1v1h-1zM19 78h1v1h-1zM33 78h1v1h-1zM57 79h1v1h-1zM82 79h1v1h-1zM11 80h1v1h-1zM16 80h1v1h-1zM21 80h1v1h-1zM26 80h1v1h-1zM31 80h1v1h-1zM36 80h1v1h-1zM41 80h1v1h-1zM86 80h1v1h-1zM61 81h1v1h-1zM85 81h1v1h-1zM90 81h1v1h-1zM96 81h1v1h-1zM54 82h1v1h-1zM79 82h1v1h-1zM19 83h1v1h-1zM33 83h1v1h-1zM77 84h1v1h-1zM94 84h1v1h-1zM65 85h1v1h-1zM81 85h1v1h-1zM2 86h1v1h-1zM66 86h1v1h-1zM80 86h1v1h-1zM49 87h1v1h-1zM74 87h1v1h-1zM19 88h1v1h-1zM28 88h1v1h-1zM0 89h1v1h-1zM72 89h1v1h-1zM99 89h1v1h-1zM70 90h1v1h-1zM81 90h1v1h-1zM7 91h1v1h-1zM45 91h1v1h-1zM75 91h2v1h-2zM8 92h1v1h-1zM44 92h1v1h-1zM69 92h1v1h-1zM28 93h1v1h-1zM5 94h1v1h-1zM84 94h1v1h-1zM76 95h1v1h-1zM40 96h1v1h-1zM81 96h1v1h-1zM13 97h1v1h-1zM64 97h1v1h-1zM24 98h1v1h-1zM10 99h1v1h-1zM89 99h1v1h-1z"/>
<path fill="#0000bf" d="M37 0h1v1h-1zM62 0h1v1h-1zM70 1h1v1h-1zM76 1h1v1h-1zM17 2h1v1h-1zM65 2h1v1h-1zM23 3h1v1h-1zM29 3h1v1h-1zM87 3h1v1h-1zM18 4h1v1h-1zM29 4h1v1h-1zM32 5h1v1h-1zM57 5h1v1h-1zM75 6h2v1h-2zM22 7h1v1h-1zM60 7h1v1h-1zM19 8h1v1h-1zM28 8h1v1h-1zM59 8h1v1h-1zM34 9h1v1h-1zM25 10h1v1h-1zM52 10h1v1h-1zM75 11h1v1h-1zM27 12h1v1h-1zM55 12h1v1h-1zM96 12h1v1h-1zM14 13h1v1h-1zM38 13h1v1h-1zM54 13h1v1h-1zM13 14h1v1h-1zM30 15h1v1h-1zM47 15h1v1h-1zM71 16h1v1h-1zM75 16h1v1h-1zM2 17h1v1h-1zM32 17h1v1h-1zM4 18h1v1h-1zM43 18h1v1h-1zM49 18h1v1h-1zM8 19h1v1h-1zM39 19h1v1h-1zM35 20h1v1h-1zM71 21h1v1h-1zM75 21h1v1h-1zM7 22h1v1h-1zM37 22h1v1h-1zM3 23h1v1h-1zM53 23h1v1h-1zM58 23h1v1h-1zM93 23h1v1h-1zM98 23h1v1h-1zM44 24h1v1h-1zM58 24h1v1h-1zM63 24h1v1h-1zM68 24h1v1h-1zM73 24h1v1h-1zM78 24h1v1h-1zM83 24h1v1h-1zM88 24h1v1h-1zM93 24h1v1h-1zM10 25h1v1h-1zM40 25h1v1h-1zM71 26h1v1h-1zM75 26h1v1h-1zM12 27h1v1h-1zM42 27h1v1h-1zM8 28h1v1h-1zM63 28h1v1h-1zM68 28h1v1h-1zM73 28h1v1h-1zM78 28h1v1h-1zM83 28h1v1h-1zM3 29h2v1h-2zM48 29h2v1h-2zM98 29h1v1h-1zM15 30h1v1h-1zM45 30h1v1h-1zM71 31h1v1h-1zM75 31h1v1h-1zM5 32h1v1h-1zM17 32h1v1h-1zM39 33h1v1h-1zM9 34h1v1h-1zM38 34h1v1h-1zM97 34h1v1h-1zM20 35h1v1h-1zM50 35h1v1h-1zM71 36h1v1h-1zM75 36h1v1h-1zM0 37h1v1h-1zM22 37h1v1h-1zM99 37h1v1h-1zM13 38h1v1h-1zM34 38h1v1h-1zM19 39h1v1h-1zM33 39h1v1h-1zM92 39h1v1h-1zM25 40h1v1h-1zM55 40h1v1h-1zM91 40h1v1h-1zM75 41h2v1h-2zM27 42h1v1h-1zM94 42h1v1h-1zM18 43h1v1h-1zM24 44h1v1h-1zM59 44h1v1h-1zM87 44h1v1h-1zM30 45h1v1h-1zM86 45h1v1h-1zM76 46h1v1h-1zM15 47h1v1h-1zM89 47h1v1h-1zM29 48h1v1h-1zM18 49h1v1h-1zM29 49h1v1h-1zM64 49h1v1h-1zM35 50h1v1h-1zM70 50h1v1h-1zM81 50h1v1h-1zM70 51h1v1h-1zM10 52h1v1h-1zM84 52h1v1h-1zM23 53h1v1h-1zM13 54h1v1h-1zM69 54h1v1h-1zM12 55h1v1h-1zM40 55h1v1h-1zM75 55h1v1h-1zM81 56h1v1h-1zM5 57h1v1h-1zM72 57h1v1h-1zM23 58h2v1h-2zM8 59h1v1h-1zM44 59h1v1h-1zM74 59h1v1h-1zM7 60h1v1h-1zM66 60h1v1h-1zM80 60h1v1h-1zM65 61h1v1h-1zM86 61h1v1h-1zM0 62h1v1h-1zM77 62h1v1h-1zM99 62h1v1h-1zM24 63h1v1h-1zM28 63h1v1h-1zM49 64h1v1h-1zM79 64h1v1h-1zM2 65h1v1h-1zM61 65h1v1h-1zM90 65h1v1h-1zM60 66h1v1h-1zM82 67h1v1h-1zM94 67h1v1h-1zM24 68h1v1h-1zM28 68h1v1h-1zM54 69h1v1h-1zM84 69h1v1h-1zM1 70h1v1h-1zM50 70h2v1h-2zM95 70h2v1h-2zM16 71h1v1h-1zM21 71h1v1h-1zM26 71h1v1h-1zM31 71h1v1h-1zM36 71h1v1h-1zM91 71h1v1h-1zM57 72h1v1h-1zM87 72h1v1h-1zM24 73h1v1h-1zM28 73h1v1h-1zM59 74h1v1h-1zM89 74h1v1h-1zM6 75h1v1h-1zM11 75h1v1h-1zM16 75h1v1h-1zM21 75h1v1h-1zM26 75h1v1h-1zM31 75h1v1h-1zM36 75h1v1h-1zM41 75h1v1h-1zM55 75h1v1h-1zM1 76h1v1h-1zM6 76h1v1h-1zM41 76h1v1h-1zM46 76h1v1h-1zM96 76h1v1h-1zM62 77h1v1h-1zM92 77h1v1h-1zM24 78h1v1h-1zM28 78h1v1h-1zM64 79h1v1h-1zM60 80h1v1h-1zM91 80h1v1h-1zM50 81h1v1h-1zM56 81h1v1h-1zM95 81h1v1h-1zM67 82h1v1h-1zM97 82h1v1h-1zM24 83h1v1h-1zM28 83h1v1h-1zM52 84h1v1h-1zM69 84h1v1h-1zM86 85h1v1h-1zM45 86h1v1h-1zM61 86h1v1h-1zM85 86h1v1h-1zM3 87h1v1h-1zM44 87h1v1h-1zM72 87h1v1h-1zM24 88h1v1h-1zM47 89h1v1h-1zM74 89h1v1h-1zM65 90h1v1h-1zM40 91h1v1h-1zM71 91h1v1h-1zM80 91h1v1h-1zM39 92h1v1h-1zM77 92h1v1h-1zM23 93h2v1h-2zM42 94h1v1h-1zM67 94h1v1h-1zM70 95h1v1h-1zM81 95h1v1h-1zM12 96h1v1h-1zM70 96h1v1h-1zM76 96h1v1h-1zM34 97h1v1h-1zM82 97h1v1h-1zM23 98h1v1h-1zM29 98h1v1h-1zM37 99h1v1h-1zM62 99h1v1h-1z"/>
<path fill="#0000d9" d="M15 0h1v1h-1zM84 0h1v1h-1zM81 1h1v1h-1zM30 2h1v1h-1zM70 2h1v1h-1zM81 2h1v1h-1zM24 3h1v1h-1zM28 3h1v1h-1zM64 3h1v1h-1zM82 3h1v1h-1zM34 4h1v1h-1zM20 5h1v1h-1zM27 5h1v1h-1zM89 5h1v1h-1zM70 6h1v1h-1zM81 6h1v1h-1zM25 7h1v1h-1zM86 7h1v1h-1zM14 8h1v1h-1zM33 8h1v1h-1zM87 8h1v1h-1zM13 9h1v1h-1zM22 10h1v1h-1zM94 10h1v1h-1zM70 11h1v1h-1zM76 11h1v1h-1zM20 12h1v1h-1zM91 12h1v1h-1zM9 13h1v1h-1zM43 13h1v1h-1zM92 13h1v1h-1zM8 14h1v1h-1zM39 14h1v1h-1zM0 15h1v1h-1zM17 15h1v1h-1zM99 15h1v1h-1zM70 16h1v1h-1zM76 16h1v1h-1zM15 17h1v1h-1zM50 17h1v1h-1zM96 17h1v1h-1zM48 18h1v1h-1zM53 18h2v1h-2zM93 18h1v1h-1zM97 18h2v1h-2zM44 19h1v1h-1zM5 20h1v1h-1zM12 20h1v1h-1zM76 21h1v1h-1zM10 22h1v1h-1zM45 22h1v1h-1zM49 23h1v1h-1zM63 23h1v1h-1zM68 23h1v1h-1zM73 23h1v1h-1zM78 23h1v1h-1zM83 23h1v1h-1zM88 23h1v1h-1zM3 24h1v1h-1zM7 25h1v1h-1zM42 25h1v1h-1zM76 26h1v1h-1zM5 27h1v1h-1zM40 27h1v1h-1zM3 28h1v1h-1zM44 28h1v1h-1zM53 29h1v1h-1zM58 29h1v1h-1zM63 29h1v1h-1zM83 29h1v1h-1zM88 29h1v1h-1zM93 29h1v1h-1zM97 29h1v1h-1zM2 30h1v1h-1zM37 30h1v1h-1zM76 31h1v1h-1zM35 32h1v1h-1zM47 32h1v1h-1zM8 33h1v1h-1zM4 34h1v1h-1zM43 34h1v1h-1zM48 34h1v1h-1zM54 34h1v1h-1zM32 35h1v1h-1zM55 35h1v1h-1zM96 35h1v1h-1zM70 36h1v1h-1zM76 36h1v1h-1zM30 37h1v1h-1zM52 37h1v1h-1zM39 38h1v1h-1zM14 39h1v1h-1zM38 39h1v1h-1zM59 39h1v1h-1zM27 40h1v1h-1zM60 40h1v1h-1zM70 41h1v1h-1zM25 42h1v1h-1zM57 42h1v1h-1zM13 43h1v1h-1zM34 43h1v1h-1zM19 44h1v1h-1zM28 44h1v1h-1zM64 44h1v1h-1zM22 45h1v1h-1zM65 45h1v1h-1zM81 45h1v1h-1zM70 46h1v1h-1zM81 46h1v1h-1zM32 47h1v1h-1zM62 47h1v1h-1zM18 48h1v1h-1zM34 48h1v1h-1zM23 49h1v1h-1zM82 49h1v1h-1zM17 50h1v1h-1zM76 50h1v1h-1zM65 51h1v1h-1zM81 51h1v1h-1zM37 52h1v1h-1zM67 52h1v1h-1zM18 53h1v1h-1zM29 53h1v1h-1zM18 54h1v1h-1zM34 54h1v1h-1zM77 54h1v1h-1zM35 55h1v1h-1zM71 55h1v1h-1zM80 55h1v1h-1zM65 56h1v1h-1zM86 56h1v1h-1zM42 57h1v1h-1zM74 57h1v1h-1zM29 58h1v1h-1zM39 59h1v1h-1zM72 59h1v1h-1zM40 60h1v1h-1zM61 60h1v1h-1zM85 60h1v1h-1zM60 61h1v1h-1zM47 62h1v1h-1zM69 62h1v1h-1zM23 63h1v1h-1zM29 63h1v1h-1zM3 64h1v1h-1zM44 64h1v1h-1zM67 64h1v1h-1zM45 65h1v1h-1zM51 65h1v1h-1zM56 65h1v1h-1zM95 65h1v1h-1zM91 66h1v1h-1zM52 67h1v1h-1zM64 67h1v1h-1zM23 68h1v1h-1zM62 69h1v1h-1zM97 69h1v1h-1zM2 70h1v1h-1zM6 70h1v1h-1zM11 70h1v1h-1zM16 70h1v1h-1zM36 70h1v1h-1zM41 70h1v1h-1zM46 70h1v1h-1zM55 71h1v1h-1zM96 71h1v1h-1zM59 72h1v1h-1zM94 72h1v1h-1zM23 73h1v1h-1zM57 74h1v1h-1zM92 74h1v1h-1zM96 75h1v1h-1zM11 76h1v1h-1zM16 76h1v1h-1zM21 76h1v1h-1zM26 76h1v1h-1zM31 76h1v1h-1zM36 76h1v1h-1zM50 76h1v1h-1zM54 77h1v1h-1zM89 77h1v1h-1zM23 78h1v1h-1zM87 79h1v1h-1zM94 79h1v1h-1zM55 80h1v1h-1zM1 81h2v1h-2zM6 81h1v1h-1zM45 81h2v1h-2zM51 81h1v1h-1zM3 82h1v1h-1zM49 82h1v1h-1zM84 82h1v1h-1zM23 83h1v1h-1zM29 83h1v1h-1zM0 84h1v1h-1zM82 84h1v1h-1zM99 84h1v1h-1zM60 85h1v1h-1zM91 85h1v1h-1zM7 86h1v1h-1zM56 86h1v1h-1zM90 86h1v1h-1zM8 87h1v1h-1zM79 87h1v1h-1zM23 88h1v1h-1zM29 88h1v1h-1zM5 89h1v1h-1zM77 89h1v1h-1zM86 90h1v1h-1zM12 91h1v1h-1zM66 91h1v1h-1zM85 91h1v1h-1zM13 92h1v1h-1zM74 92h1v1h-1zM18 93h1v1h-1zM29 93h1v1h-1zM10 94h1v1h-1zM72 94h1v1h-1zM79 94h1v1h-1zM65 95h1v1h-1zM17 96h1v1h-1zM35 96h1v1h-1zM71 96h1v1h-1zM75 96h1v1h-1zM18 97h1v1h-1zM29 97h1v1h-1zM69 97h1v1h-1zM18 98h1v1h-1zM15 99h1v1h-1zM84 99h1v1h-1z"/>
<path fill="#0000f2" d="M32 0h1v1h-1zM67 0h1v1h-1zM65 1h1v1h-1zM86 1h1v1h-1zM22 2h1v1h-1zM75 2h2v1h-2zM19 3h1v1h-1zM33 3h1v1h-1zM69 3h1v1h-1zM13 4h1v1h-1zM39 4h1v1h-1zM25 5h1v1h-1zM62 5h1v1h-1zM65 6h1v1h-1zM27 7h1v1h-1zM65 7h1v1h-1zM81 7h1v1h-1zM9 8h1v1h-1zM38 8h1v1h-1zM64 8h1v1h-1zM8 9h1v1h-1zM39 9h1v1h-1zM30 10h1v1h-1zM57 10h1v1h-1zM81 11h1v1h-1zM32 12h1v1h-1zM60 12h1v1h-1zM4 13h1v1h-1zM48 13h1v1h-1zM59 13h1v1h-1zM98 13h1v1h-1zM44 14h1v1h-1zM35 15h1v1h-1zM52 15h1v1h-1zM81 16h1v1h-1zM37 17h1v1h-1zM55 17h1v1h-1zM58 18h1v1h-1zM63 18h1v1h-1zM68 18h1v1h-1zM73 18h1v1h-1zM78 18h1v1h-1zM83 18h1v1h-1zM88 18h1v1h-1zM92 18h1v1h-1zM3 19h1v1h-1zM40 20h1v1h-1zM47 20h1v1h-1zM70 21h1v1h-1zM81 21h1v1h-1zM2 22h1v1h-1zM42 22h1v1h-1zM97 23h1v1h-1zM49 24h1v1h-1zM97 24h1v1h-1zM5 25h1v1h-1zM45 25h1v1h-1zM70 26h1v1h-1zM81 26h1v1h-1zM7 27h1v1h-1zM49 28h1v1h-1zM54 29h1v1h-1zM68 29h1v1h-1zM73 29h1v1h-1zM78 29h1v1h-1zM10 30h1v1h-1zM50 30h1v1h-1zM96 30h1v1h-1zM70 31h1v1h-1zM81 31h1v1h-1zM0 32h1v1h-1zM12 32h1v1h-1zM99 32h1v1h-1zM3 33h1v1h-1zM44 33h1v1h-1zM53 34h1v1h-1zM58 34h2v1h-2zM92 34h2v1h-2zM98 34h1v1h-1zM15 35h1v1h-1zM91 35h1v1h-1zM81 36h1v1h-1zM17 37h1v1h-1zM94 37h1v1h-1zM8 38h1v1h-1zM4 39h1v1h-1zM9 39h1v1h-1zM43 39h1v1h-1zM87 39h1v1h-1zM20 40h1v1h-1zM65 40h1v1h-1zM86 40h1v1h-1zM65 41h1v1h-1zM81 41h1v1h-1zM22 42h1v1h-1zM89 42h1v1h-1zM39 43h1v1h-1zM14 44h1v1h-1zM33 44h1v1h-1zM82 44h1v1h-1zM25 45h1v1h-1zM70 45h1v1h-1zM65 46h1v1h-1zM20 47h1v1h-1zM84 47h1v1h-1zM13 48h1v1h-1zM24 49h1v1h-1zM28 49h1v1h-1zM69 49h1v1h-1zM30 50h1v1h-1zM71 50h1v1h-1zM75 50h1v1h-1zM86 51h1v1h-1zM15 52h1v1h-1zM79 52h1v1h-1zM34 53h1v1h-1zM29 54h1v1h-1zM74 54h1v1h-1zM17 55h1v1h-1zM66 55h1v1h-1zM85 55h1v1h-1zM60 56h1v1h-1zM10 57h1v1h-1zM77 57h1v1h-1zM18 58h1v1h-1zM34 58h1v1h-1zM13 59h1v1h-1zM34 59h1v1h-1zM79 59h1v1h-1zM12 60h1v1h-1zM56 60h1v1h-1zM90 60h1v1h-1zM95 60h1v1h-1zM91 61h1v1h-1zM5 62h1v1h-1zM82 62h1v1h-1zM18 63h1v1h-1zM8 64h1v1h-1zM84 64h1v1h-1zM1 65h1v1h-1zM6 65h2v1h-2zM40 65h2v1h-2zM46 65h1v1h-1zM55 66h1v1h-1zM96 66h1v1h-1zM0 67h1v1h-1zM87 67h1v1h-1zM99 67h1v1h-1zM18 68h1v1h-1zM29 68h1v1h-1zM3 69h1v1h-1zM49 69h1v1h-1zM89 69h1v1h-1zM21 70h1v1h-1zM26 70h1v1h-1zM31 70h1v1h-1zM45 70h1v1h-1zM50 71h1v1h-1zM92 72h1v1h-1zM18 73h1v1h-1zM29 73h1v1h-1zM54 74h1v1h-1zM94 74h1v1h-1zM2 75h1v1h-1zM50 75h1v1h-1zM2 76h1v1h-1zM57 77h1v1h-1zM97 77h1v1h-1zM18 78h1v1h-1zM29 78h1v1h-1zM52 79h1v1h-1zM59 79h1v1h-1zM96 80h1v1h-1zM7 81h1v1h-1zM11 81h1v1h-1zM16 81h1v1h-1zM21 81h1v1h-1zM26 81h1v1h-1zM31 81h1v1h-1zM36 81h1v1h-1zM41 81h1v1h-1zM44 82h1v1h-1zM62 82h1v1h-1zM18 83h1v1h-1zM47 84h1v1h-1zM64 84h1v1h-1zM55 85h1v1h-1zM1 86h1v1h-1zM40 86h1v1h-1zM51 86h1v1h-1zM95 86h1v1h-1zM39 87h1v1h-1zM67 87h1v1h-1zM18 88h1v1h-1zM42 89h1v1h-1zM69 89h1v1h-1zM60 90h1v1h-1zM91 90h1v1h-1zM35 91h1v1h-1zM61 91h1v1h-1zM90 91h1v1h-1zM18 92h1v1h-1zM34 92h1v1h-1zM72 92h1v1h-1zM34 93h1v1h-1zM37 94h1v1h-1zM74 94h1v1h-1zM60 95h1v1h-1zM86 95h1v1h-1zM30 96h1v1h-1zM66 96h1v1h-1zM80 96h1v1h-1zM23 97h2v1h-2zM77 97h1v1h-1zM13 98h1v1h-1zM34 98h1v1h-1zM32 99h1v1h-1zM67 99h1v1h-1z"/>
<path fill="#0008ff" d="M20 0h1v1h-1zM79 0h1v1h-1zM60 1h1v1h-1zM25 2h1v1h-1zM71 2h1v1h-1zM14 3h1v1h-1zM38 3h1v1h-1zM77 3h1v1h-1zM8 4h1v1h-1zM22 5h1v1h-1zM84 5h1v1h-1zM86 6h1v1h-1zM20 7h1v1h-1zM70 7h1v1h-1zM4 8h1v1h-1zM43 8h1v1h-1zM48 8h1v1h-1zM82 8h1v1h-1zM44 9h1v1h-1zM17 10h1v1h-1zM89 10h1v1h-1zM65 11h1v1h-1zM86 11h1v1h-1zM15 12h1v1h-1zM65 12h1v1h-1zM86 12h1v1h-1zM53 13h1v1h-1zM58 13h1v1h-1zM63 13h1v1h-1zM83 13h1v1h-1zM87 13h2v1h-2zM93 13h1v1h-1zM3 14h1v1h-1zM12 15h1v1h-1zM94 15h1v1h-1zM65 16h1v1h-1zM86 16h1v1h-1zM10 17h1v1h-1zM91 17h1v1h-1zM59 18h1v1h-1zM49 19h1v1h-1zM0 20h1v1h-1zM7 20h1v1h-1zM99 20h1v1h-1zM65 21h1v1h-1zM5 22h1v1h-1zM50 22h1v1h-1zM96 22h1v1h-1zM54 23h1v1h-1zM54 24h1v1h-1zM2 25h1v1h-1zM47 25h1v1h-1zM50 25h1v1h-1zM65 26h1v1h-1zM45 27h1v1h-1zM47 27h1v1h-1zM97 28h1v1h-1zM92 29h1v1h-1zM42 30h1v1h-1zM55 30h1v1h-1zM65 31h1v1h-1zM40 32h1v1h-1zM52 32h1v1h-1zM49 33h1v1h-1zM63 34h1v1h-1zM68 34h1v1h-1zM73 34h1v1h-1zM78 34h1v1h-1zM83 34h1v1h-1zM87 34h2v1h-2zM37 35h1v1h-1zM60 35h1v1h-1zM65 36h1v1h-1zM86 36h1v1h-1zM35 37h1v1h-1zM57 37h1v1h-1zM3 38h1v1h-1zM44 38h1v1h-1zM48 39h1v1h-1zM53 39h1v1h-1zM64 39h1v1h-1zM98 39h1v1h-1zM32 40h1v1h-1zM81 40h1v1h-1zM86 41h1v1h-1zM30 42h1v1h-1zM62 42h1v1h-1zM8 43h1v1h-1zM44 43h1v1h-1zM9 44h1v1h-1zM38 44h1v1h-1zM43 44h1v1h-1zM69 44h1v1h-1zM27 45h1v1h-1zM75 45h2v1h-2zM60 46h1v1h-1zM86 46h1v1h-1zM25 47h1v1h-1zM27 47h1v1h-1zM67 47h1v1h-1zM8 48h1v1h-1zM39 48h1v1h-1zM19 49h1v1h-1zM33 49h1v1h-1zM74 49h1v1h-1zM77 49h1v1h-1zM22 50h1v1h-1zM25 50h1v1h-1zM66 50h1v1h-1zM80 50h1v1h-1zM60 51h1v1h-1zM91 51h1v1h-1zM32 52h1v1h-1zM72 52h1v1h-1zM74 52h1v1h-1zM13 53h1v1h-1zM39 53h1v1h-1zM23 54h2v1h-2zM72 54h1v1h-1zM30 55h1v1h-1zM56 55h1v1h-1zM61 55h1v1h-1zM90 55h1v1h-1zM55 56h1v1h-1zM91 56h1v1h-1zM37 57h1v1h-1zM69 57h1v1h-1zM13 58h1v1h-1zM18 59h1v1h-1zM67 59h1v1h-1zM1 60h1v1h-1zM35 60h1v1h-1zM46 60h1v1h-1zM51 60h1v1h-1zM55 61h1v1h-1zM96 61h1v1h-1zM42 62h1v1h-1zM64 62h1v1h-1zM13 63h1v1h-1zM34 63h1v1h-1zM39 64h1v1h-1zM62 64h1v1h-1zM11 65h2v1h-2zM16 65h1v1h-1zM21 65h1v1h-1zM26 65h1v1h-1zM31 65h1v1h-1zM36 65h1v1h-1zM50 66h1v1h-1zM47 67h1v1h-1zM59 67h1v1h-1zM34 68h1v1h-1zM44 69h1v1h-1zM57 69h1v1h-1zM7 70h1v1h-1zM2 71h1v1h-1zM52 72h1v1h-1zM54 72h1v1h-1zM34 73h1v1h-1zM49 74h1v1h-1zM52 74h1v1h-1zM97 74h1v1h-1zM45 75h1v1h-1zM45 76h1v1h-1zM3 77h1v1h-1zM49 77h1v1h-1zM94 77h1v1h-1zM34 78h1v1h-1zM0 79h1v1h-1zM92 79h1v1h-1zM99 79h1v1h-1zM50 80h1v1h-1zM40 81h1v1h-1zM8 82h1v1h-1zM89 82h1v1h-1zM13 83h1v1h-1zM34 83h1v1h-1zM5 84h1v1h-1zM87 84h1v1h-1zM96 85h1v1h-1zM6 86h1v1h-1zM11 86h2v1h-2zM16 86h1v1h-1zM36 86h1v1h-1zM41 86h1v1h-1zM46 86h1v1h-1zM13 87h1v1h-1zM34 87h1v1h-1zM84 87h1v1h-1zM13 88h1v1h-1zM34 88h1v1h-1zM10 89h1v1h-1zM82 89h1v1h-1zM55 90h1v1h-1zM17 91h1v1h-1zM51 91h1v1h-1zM56 91h1v1h-1zM95 91h1v1h-1zM29 92h1v1h-1zM79 92h1v1h-1zM13 93h1v1h-1zM15 94h1v1h-1zM77 94h1v1h-1zM91 95h1v1h-1zM22 96h1v1h-1zM61 96h1v1h-1zM85 96h1v1h-1zM28 97h1v1h-1zM74 97h1v1h-1zM39 98h1v1h-1zM20 99h1v1h-1zM79 99h1v1h-1z"/>
<path fill="#0018ff" d="M25 0h1v1h-1zM27 0h1v1h-1zM72 0h1v1h-1zM74 0h1v1h-1zM55 1h1v1h-1zM91 1h1v1h-1zM27 2h1v1h-1zM66 2h1v1h-1zM80 2h1v1h-1zM9 3h1v1h-1zM43 3h1v1h-1zM74 3h1v1h-1zM44 4h1v1h-1zM30 5h1v1h-1zM67 5h1v1h-1zM60 6h1v1h-1zM91 6h1v1h-1zM32 7h1v1h-1zM75 7h2v1h-2zM53 8h1v1h-1zM58 8h1v1h-1zM69 8h1v1h-1zM93 8h1v1h-1zM98 8h1v1h-1zM3 9h1v1h-1zM35 10h1v1h-1zM62 10h1v1h-1zM60 11h1v1h-1zM37 12h1v1h-1zM81 12h1v1h-1zM64 13h1v1h-1zM68 13h1v1h-1zM73 13h1v1h-1zM78 13h1v1h-1zM82 13h1v1h-1zM49 14h1v1h-1zM40 15h1v1h-1zM57 15h1v1h-1zM60 16h1v1h-1zM42 17h1v1h-1zM60 17h1v1h-1zM86 17h1v1h-1zM87 18h1v1h-1zM54 19h1v1h-1zM97 19h1v1h-1zM45 20h1v1h-1zM52 20h1v1h-1zM60 21h1v1h-1zM86 21h1v1h-1zM47 22h1v1h-1zM55 22h1v1h-1zM59 23h1v1h-1zM92 23h1v1h-1zM92 24h1v1h-1zM0 25h1v1h-1zM96 25h1v1h-1zM99 25h1v1h-1zM60 26h1v1h-1zM86 26h1v1h-1zM0 27h1v1h-1zM2 27h1v1h-1zM50 27h1v1h-1zM99 27h1v1h-1zM54 28h1v1h-1zM59 29h1v1h-1zM5 30h1v1h-1zM91 30h1v1h-1zM60 31h1v1h-1zM86 31h1v1h-1zM7 32h1v1h-1zM94 32h1v1h-1zM97 33h1v1h-1zM64 34h1v1h-1zM10 35h1v1h-1zM65 35h1v1h-1zM86 35h1v1h-1zM60 36h1v1h-1zM12 37h1v1h-1zM89 37h1v1h-1zM49 38h1v1h-1zM58 39h1v1h-1zM63 39h1v1h-1zM68 39h1v1h-1zM73 39h1v1h-1zM78 39h1v1h-1zM82 39h2v1h-2zM88 39h1v1h-1zM93 39h1v1h-1zM15 40h1v1h-1zM70 40h1v1h-1zM76 40h1v1h-1zM60 41h1v1h-1zM91 41h1v1h-1zM17 42h1v1h-1zM84 42h1v1h-1zM3 43h1v1h-1zM4 44h1v1h-1zM48 44h1v1h-1zM77 44h1v1h-1zM98 44h1v1h-1zM20 45h1v1h-1zM71 45h1v1h-1zM80 45h1v1h-1zM91 46h1v1h-1zM22 47h1v1h-1zM79 47h1v1h-1zM44 48h1v1h-1zM14 49h1v1h-1zM38 49h1v1h-1zM72 49h1v1h-1zM27 50h1v1h-1zM61 50h1v1h-1zM85 50h1v1h-1zM55 51h1v1h-1zM20 52h1v1h-1zM77 52h1v1h-1zM8 53h1v1h-1zM19 54h1v1h-1zM28 54h1v1h-1zM79 54h1v1h-1zM1 55h1v1h-1zM22 55h1v1h-1zM51 55h1v1h-1zM95 55h1v1h-1zM96 56h1v1h-1zM15 57h1v1h-1zM82 57h1v1h-1zM8 58h1v1h-1zM39 58h1v1h-1zM23 59h1v1h-1zM29 59h1v1h-1zM84 59h1v1h-1zM6 60h1v1h-1zM11 60h1v1h-1zM16 60h2v1h-2zM21 60h1v1h-1zM26 60h1v1h-1zM31 60h1v1h-1zM36 60h1v1h-1zM41 60h1v1h-1zM50 61h1v1h-1zM10 62h1v1h-1zM87 62h1v1h-1zM39 63h1v1h-1zM13 64h1v1h-1zM34 64h1v1h-1zM89 64h1v1h-1zM35 65h1v1h-1zM2 66h1v1h-1zM5 67h1v1h-1zM92 67h1v1h-1zM13 68h1v1h-1zM39 68h1v1h-1zM8 69h1v1h-1zM94 69h1v1h-1zM40 70h1v1h-1zM45 71h1v1h-1zM0 72h1v1h-1zM49 72h1v1h-1zM97 72h1v1h-1zM99 72h1v1h-1zM13 73h1v1h-1zM39 73h1v1h-1zM0 74h1v1h-1zM3 74h1v1h-1zM99 74h1v1h-1zM7 75h1v1h-1zM7 76h1v1h-1zM40 76h1v1h-1zM44 77h1v1h-1zM52 77h1v1h-1zM13 78h1v1h-1zM39 78h1v1h-1zM47 79h1v1h-1zM54 79h1v1h-1zM2 80h1v1h-1zM45 80h1v1h-1zM12 81h1v1h-1zM13 82h1v1h-1zM39 82h1v1h-1zM57 82h1v1h-1zM39 83h1v1h-1zM42 84h1v1h-1zM59 84h1v1h-1zM50 85h1v1h-1zM17 86h1v1h-1zM21 86h1v1h-1zM26 86h1v1h-1zM31 86h1v1h-1zM35 86h1v1h-1zM18 87h1v1h-1zM62 87h1v1h-1zM39 88h1v1h-1zM37 89h1v1h-1zM64 89h1v1h-1zM96 90h1v1h-1zM1 91h1v1h-1zM6 91h1v1h-1zM30 91h1v1h-1zM41 91h1v1h-1zM46 91h1v1h-1zM23 92h2v1h-2zM67 92h1v1h-1zM8 93h1v1h-1zM39 93h1v1h-1zM32 94h1v1h-1zM69 94h1v1h-1zM55 95h1v1h-1zM25 96h1v1h-1zM56 96h1v1h-1zM90 96h1v1h-1zM19 97h1v1h-1zM33 97h1v1h-1zM72 97h1v1h-1zM8 98h1v1h-1zM44 98h1v1h-1zM25 99h1v1h-1zM27 99h1v1h-1zM72 99h1v1h-1zM74 99h1v1h-1z"/>
<path fill="#0028ff" d="M22 0h1v1h-1zM77 0h1v1h-1zM96 1h1v1h-1zM20 2h1v1h-1zM61 2h1v1h-1zM85 2h1v1h-1zM90 2h1v1h-1zM4 3h1v1h-1zM48 3h1v1h-1zM72 3h1v1h-1zM98 3h1v1h-1zM3 4h1v1h-1zM49 4h1v1h-1zM17 5h1v1h-1zM79 5h1v1h-1zM55 6h1v1h-1zM15 7h1v1h-1zM71 7h1v1h-1zM80 7h1v1h-1zM63 8h1v1h-1zM68 8h1v1h-1zM73 8h1v1h-1zM77 8h2v1h-2zM83 8h1v1h-1zM88 8h1v1h-1zM49 9h1v1h-1zM97 9h1v1h-1zM12 10h1v1h-1zM84 10h1v1h-1zM55 11h1v1h-1zM91 11h1v1h-1zM10 12h1v1h-1zM70 12h1v1h-1zM76 12h1v1h-1zM69 13h1v1h-1zM54 14h1v1h-1zM97 14h1v1h-1zM7 15h1v1h-1zM89 15h1v1h-1zM91 16h1v1h-1zM5 17h1v1h-1zM65 17h1v1h-1zM64 18h1v1h-1zM92 19h1v1h-1zM2 20h1v1h-1zM50 20h1v1h-1zM94 20h1v1h-1zM91 21h1v1h-1zM0 22h1v1h-1zM91 22h1v1h-1zM99 22h1v1h-1zM87 23h1v1h-1zM59 24h1v1h-1zM55 25h1v1h-1zM91 26h1v1h-1zM52 27h1v1h-1zM96 27h1v1h-1zM92 28h1v1h-1zM87 29h1v1h-1zM47 30h1v1h-1zM60 30h1v1h-1zM86 30h1v1h-1zM91 31h1v1h-1zM45 32h1v1h-1zM57 32h1v1h-1zM54 33h1v1h-1zM82 34h1v1h-1zM42 35h1v1h-1zM81 35h1v1h-1zM91 36h1v1h-1zM40 37h1v1h-1zM62 37h1v1h-1zM97 38h1v1h-1zM69 39h1v1h-1zM37 40h1v1h-1zM75 40h1v1h-1zM55 41h1v1h-1zM35 42h1v1h-1zM67 42h1v1h-1zM49 43h1v1h-1zM53 44h1v1h-1zM58 44h1v1h-1zM74 44h1v1h-1zM88 44h1v1h-1zM93 44h1v1h-1zM32 45h1v1h-1zM66 45h1v1h-1zM85 45h1v1h-1zM55 46h1v1h-1zM30 47h1v1h-1zM72 47h1v1h-1zM3 48h1v1h-1zM4 49h1v1h-1zM9 49h1v1h-1zM43 49h1v1h-1zM79 49h1v1h-1zM20 50h1v1h-1zM56 50h1v1h-1zM90 50h1v1h-1zM95 50h1v1h-1zM96 51h1v1h-1zM27 52h1v1h-1zM69 52h1v1h-1zM44 53h1v1h-1zM14 54h1v1h-1zM33 54h1v1h-1zM67 54h1v1h-1zM6 55h1v1h-1zM11 55h1v1h-1zM25 55h1v1h-1zM41 55h1v1h-1zM46 55h1v1h-1zM50 56h1v1h-1zM32 57h1v1h-1zM64 57h1v1h-1zM44 58h1v1h-1zM24 59h1v1h-1zM62 59h1v1h-1zM30 60h1v1h-1zM2 61h1v1h-1zM37 62h1v1h-1zM59 62h1v1h-1zM8 63h1v1h-1zM18 64h1v1h-1zM57 64h1v1h-1zM17 65h1v1h-1zM45 66h1v1h-1zM42 67h1v1h-1zM54 67h1v1h-1zM8 68h1v1h-1zM13 69h1v1h-1zM39 69h1v1h-1zM52 69h1v1h-1zM12 70h1v1h-1zM7 71h1v1h-1zM3 72h1v1h-1zM47 72h1v1h-1zM8 73h1v1h-1zM44 74h1v1h-1zM40 75h1v1h-1zM12 76h1v1h-1zM0 77h1v1h-1zM8 77h1v1h-1zM99 77h1v1h-1zM8 78h1v1h-1zM5 79h1v1h-1zM49 79h1v1h-1zM97 79h1v1h-1zM7 80h1v1h-1zM35 81h1v1h-1zM34 82h1v1h-1zM94 82h1v1h-1zM8 83h1v1h-1zM10 84h1v1h-1zM92 84h1v1h-1zM2 85h1v1h-1zM45 85h1v1h-1zM30 86h1v1h-1zM23 87h1v1h-1zM29 87h1v1h-1zM89 87h1v1h-1zM8 88h1v1h-1zM44 88h1v1h-1zM15 89h1v1h-1zM87 89h1v1h-1zM2 90h1v1h-1zM50 90h1v1h-1zM11 91h1v1h-1zM16 91h1v1h-1zM21 91h2v1h-2zM26 91h1v1h-1zM31 91h1v1h-1zM36 91h1v1h-1zM19 92h1v1h-1zM28 92h1v1h-1zM84 92h1v1h-1zM44 93h1v1h-1zM20 94h1v1h-1zM82 94h1v1h-1zM50 95h1v1h-1zM96 95h1v1h-1zM1 96h1v1h-1zM27 96h1v1h-1zM51 96h1v1h-1zM95 96h1v1h-1zM9 97h1v1h-1zM14 97h1v1h-1zM38 97h1v1h-1zM79 97h1v1h-1zM3 98h1v1h-1zM22 99h1v1h-1zM77 99h1v1h-1z"/>
<path fill="#0038ff" d="M30 0h1v1h-1zM69 0h1v1h-1zM50 1h1v1h-1zM32 2h1v1h-1zM56 2h1v1h-1zM95 2h1v1h-1zM53 3h1v1h-1zM58 3h1v1h-1zM63 3h1v1h-1zM79 3h1v1h-1zM88 3h1v1h-1zM93 3h1v1h-1zM97 4h1v1h-1zM35 5h1v1h-1zM72 5h1v1h-1zM96 6h1v1h-1zM37 7h1v1h-1zM66 7h1v1h-1zM85 7h1v1h-1zM74 8h1v1h-1zM54 9h1v1h-1zM40 10h1v1h-1zM67 10h1v1h-1zM96 11h1v1h-1zM42 12h1v1h-1zM71 12h1v1h-1zM75 12h1v1h-1zM77 13h1v1h-1zM92 14h1v1h-1zM45 15h1v1h-1zM62 15h1v1h-1zM55 16h1v1h-1zM47 17h1v1h-1zM81 17h1v1h-1zM82 18h1v1h-1zM59 19h1v1h-1zM57 20h1v1h-1zM96 20h1v1h-1zM55 21h1v1h-1zM52 22h1v1h-1zM60 22h1v1h-1zM86 22h1v1h-1zM64 23h1v1h-1zM87 24h1v1h-1zM52 25h1v1h-1zM91 25h1v1h-1zM55 26h1v1h-1zM55 27h1v1h-1zM94 27h1v1h-1zM59 28h1v1h-1zM87 28h1v1h-1zM64 29h1v1h-1zM0 30h1v1h-1zM65 30h1v1h-1zM99 30h1v1h-1zM55 31h1v1h-1zM2 32h1v1h-1zM50 32h1v1h-1zM89 32h1v1h-1zM92 33h1v1h-1zM69 34h1v1h-1zM5 35h1v1h-1zM70 35h1v1h-1zM76 35h1v1h-1zM55 36h1v1h-1zM96 36h1v1h-1zM7 37h1v1h-1zM84 37h1v1h-1zM54 38h1v1h-1zM77 39h1v1h-1zM10 40h1v1h-1zM71 40h1v1h-1zM80 40h1v1h-1zM96 41h1v1h-1zM12 42h1v1h-1zM79 42h1v1h-1zM97 43h1v1h-1zM63 44h1v1h-1zM68 44h1v1h-1zM72 44h2v1h-2zM78 44h1v1h-1zM83 44h1v1h-1zM15 45h1v1h-1zM61 45h1v1h-1zM90 45h1v1h-1zM50 46h1v1h-1zM96 46h1v1h-1zM17 47h1v1h-1zM74 47h1v1h-1zM77 47h1v1h-1zM49 48h1v1h-1zM48 49h1v1h-1zM53 49h1v1h-1zM67 49h1v1h-1zM98 49h1v1h-1zM1 50h1v1h-1zM32 50h1v1h-1zM46 50h1v1h-1zM51 50h1v1h-1zM50 51h1v1h-1zM22 52h1v1h-1zM25 52h1v1h-1zM82 52h1v1h-1zM3 53h1v1h-1zM49 53h1v1h-1zM9 54h1v1h-1zM38 54h1v1h-1zM84 54h1v1h-1zM16 55h1v1h-1zM21 55h1v1h-1zM26 55h2v1h-2zM31 55h1v1h-1zM36 55h1v1h-1zM2 56h1v1h-1zM20 57h1v1h-1zM87 57h1v1h-1zM3 58h1v1h-1zM19 59h1v1h-1zM28 59h1v1h-1zM89 59h1v1h-1zM22 60h1v1h-1zM45 61h1v1h-1zM15 62h1v1h-1zM92 62h1v1h-1zM3 63h1v1h-1zM44 63h1v1h-1zM23 64h1v1h-1zM29 64h1v1h-1zM94 64h1v1h-1zM30 65h1v1h-1zM7 66h1v1h-1zM10 67h1v1h-1zM49 67h1v1h-1zM97 67h1v1h-1zM44 68h1v1h-1zM0 69h1v1h-1zM34 69h1v1h-1zM99 69h1v1h-1zM35 70h1v1h-1zM12 71h1v1h-1zM40 71h1v1h-1zM5 72h1v1h-1zM44 72h1v1h-1zM44 73h1v1h-1zM8 74h1v1h-1zM47 74h1v1h-1zM12 75h1v1h-1zM35 76h1v1h-1zM13 77h1v1h-1zM39 77h1v1h-1zM47 77h1v1h-1zM44 78h1v1h-1zM3 79h1v1h-1zM42 79h1v1h-1zM40 80h1v1h-1zM17 81h1v1h-1zM18 82h1v1h-1zM52 82h1v1h-1zM44 83h1v1h-1zM37 84h1v1h-1zM54 84h1v1h-1zM7 85h1v1h-1zM22 86h1v1h-1zM24 87h1v1h-1zM28 87h1v1h-1zM57 87h1v1h-1zM3 88h1v1h-1zM32 89h1v1h-1zM59 89h1v1h-1zM45 90h1v1h-1zM25 91h1v1h-1zM14 92h1v1h-1zM33 92h1v1h-1zM62 92h1v1h-1zM3 93h1v1h-1zM27 94h1v1h-1zM64 94h1v1h-1zM2 95h1v1h-1zM6 96h1v1h-1zM11 96h1v1h-1zM20 96h1v1h-1zM36 96h1v1h-1zM41 96h1v1h-1zM46 96h1v1h-1zM4 97h1v1h-1zM43 97h1v1h-1zM67 97h1v1h-1zM49 98h1v1h-1zM30 99h1v1h-1zM69 99h1v1h-1z"/>
<path fill="#0048ff" d="M17 0h1v1h-1zM82 0h1v1h-1zM2 1h1v1h-1zM1 2h1v1h-1zM6 2h1v1h-1zM15 2h1v1h-1zM46 2h1v1h-1zM51 2h1v1h-1zM67 3h2v1h-2zM73 3h1v1h-1zM78 3h1v1h-1zM83 3h1v1h-1zM54 4h1v1h-1zM12 5h1v1h-1zM74 5h1v1h-1zM77 5h1v1h-1zM2 6h1v1h-1zM50 6h1v1h-1zM10 7h1v1h-1zM61 7h1v1h-1zM90 7h1v1h-1zM72 8h1v1h-1zM92 9h1v1h-1zM7 10h1v1h-1zM79 10h1v1h-1zM50 11h1v1h-1zM5 12h1v1h-1zM80 12h1v1h-1zM74 13h1v1h-1zM59 14h1v1h-1zM2 15h1v1h-1zM50 15h1v1h-1zM84 15h1v1h-1zM50 16h1v1h-1zM96 16h1v1h-1zM0 17h1v1h-1zM70 17h1v1h-1zM76 17h1v1h-1zM99 17h1v1h-1zM69 18h1v1h-1zM87 19h1v1h-1zM55 20h1v1h-1zM89 20h1v1h-1zM50 21h1v1h-1zM96 21h1v1h-1zM65 22h1v1h-1zM94 22h1v1h-1zM82 23h1v1h-1zM64 24h1v1h-1zM60 25h1v1h-1zM86 25h1v1h-1zM94 25h1v1h-1zM96 26h1v1h-1zM57 27h1v1h-1zM91 27h1v1h-1zM64 28h1v1h-1zM69 29h1v1h-1zM82 29h1v1h-1zM52 30h1v1h-1zM70 30h1v1h-1zM81 30h1v1h-1zM50 31h1v1h-1zM96 31h1v1h-1zM62 32h1v1h-1zM96 32h1v1h-1zM59 33h1v1h-1zM77 34h1v1h-1zM47 35h1v1h-1zM71 35h1v1h-1zM75 35h1v1h-1zM50 36h1v1h-1zM45 37h1v1h-1zM67 37h1v1h-1zM92 38h1v1h-1zM74 39h1v1h-1zM42 40h1v1h-1zM66 40h1v1h-1zM85 40h1v1h-1zM50 41h1v1h-1zM40 42h1v1h-1zM72 42h1v1h-1zM54 43h1v1h-1zM79 44h1v1h-1zM37 45h1v1h-1zM51 45h1v1h-1zM56 45h1v1h-1zM95 45h1v1h-1zM2 46h1v1h-1zM35 47h1v1h-1zM69 47h1v1h-1zM54 48h1v1h-1zM97 48h1v1h-1zM58 49h1v1h-1zM63 49h1v1h-1zM68 49h1v1h-1zM78 49h1v1h-1zM83 49h2v1h-2zM88 49h1v1h-1zM93 49h1v1h-1zM6 50h1v1h-1zM11 50h1v1h-1zM15 50h2v1h-2zM21 50h1v1h-1zM31 50h1v1h-1zM36 50h1v1h-1zM41 50h1v1h-1zM2 51h1v1h-1zM45 51h1v1h-1zM30 52h1v1h-1zM64 52h1v1h-1zM97 53h1v1h-1zM4 54h1v1h-1zM43 54h1v1h-1zM48 54h1v1h-1zM62 54h1v1h-1zM20 55h1v1h-1zM45 56h1v1h-1zM27 57h1v1h-1zM59 57h1v1h-1zM49 58h1v1h-1zM14 59h1v1h-1zM33 59h1v1h-1zM57 59h1v1h-1zM25 60h1v1h-1zM7 61h1v1h-1zM32 62h1v1h-1zM54 62h1v1h-1zM49 63h1v1h-1zM24 64h1v1h-1zM28 64h1v1h-1zM52 64h1v1h-1zM22 65h1v1h-1zM40 66h1v1h-1zM3 67h1v1h-1zM37 67h1v1h-1zM3 68h1v1h-1zM49 68h1v1h-1zM18 69h1v1h-1zM29 69h1v1h-1zM47 69h1v1h-1zM17 70h1v1h-1zM30 70h1v1h-1zM35 71h1v1h-1zM8 72h1v1h-1zM42 72h1v1h-1zM3 73h1v1h-1zM5 74h1v1h-1zM13 74h1v1h-1zM39 74h1v1h-1zM35 75h1v1h-1zM17 76h1v1h-1zM5 77h1v1h-1zM34 77h1v1h-1zM3 78h1v1h-1zM49 78h1v1h-1zM10 79h1v1h-1zM44 79h1v1h-1zM12 80h1v1h-1zM30 81h1v1h-1zM0 82h1v1h-1zM23 82h1v1h-1zM29 82h1v1h-1zM99 82h1v1h-1zM3 83h1v1h-1zM49 83h1v1h-1zM15 84h1v1h-1zM49 84h1v1h-1zM97 84h1v1h-1zM40 85h1v1h-1zM25 86h1v1h-1zM19 87h1v1h-1zM94 87h1v1h-1zM49 88h1v1h-1zM20 89h1v1h-1zM92 89h1v1h-1zM7 90h1v1h-1zM27 91h1v1h-1zM9 92h1v1h-1zM38 92h1v1h-1zM89 92h1v1h-1zM49 93h1v1h-1zM97 93h1v1h-1zM22 94h1v1h-1zM25 94h1v1h-1zM87 94h1v1h-1zM45 95h1v1h-1zM16 96h1v1h-1zM21 96h1v1h-1zM26 96h1v1h-1zM31 96h2v1h-2zM48 97h1v1h-1zM53 97h1v1h-1zM84 97h1v1h-1zM93 97h1v1h-1zM98 97h1v1h-1zM97 98h1v1h-1zM17 99h1v1h-1zM82 99h1v1h-1z"/>
<path fill="#0058ff" d="M35 0h1v1h-1zM64 0h1v1h-1zM45 1h1v1h-1zM11 2h1v1h-1zM16 2h1v1h-1zM21 2h1v1h-1zM26 2h1v1h-1zM31 2h1v1h-1zM36 2h2v1h-2zM41 2h1v1h-1zM84 3h1v1h-1zM92 4h1v1h-1zM40 5h1v1h-1zM69 5h1v1h-1zM45 6h1v1h-1zM42 7h1v1h-1zM51 7h1v1h-1zM56 7h1v1h-1zM95 7h1v1h-1zM79 8h1v1h-1zM59 9h1v1h-1zM45 10h1v1h-1zM72 10h1v1h-1zM2 11h1v1h-1zM47 12h1v1h-1zM66 12h1v1h-1zM85 12h1v1h-1zM72 13h1v1h-1zM87 14h1v1h-1zM67 15h1v1h-1zM96 15h1v1h-1zM2 16h1v1h-1zM52 17h1v1h-1zM71 17h1v1h-1zM75 17h1v1h-1zM77 18h1v1h-1zM64 19h1v1h-1zM62 20h1v1h-1zM91 20h1v1h-1zM2 21h1v1h-1zM57 22h1v1h-1zM70 22h1v1h-1zM81 22h1v1h-1zM69 23h1v1h-1zM82 24h1v1h-1zM57 25h1v1h-1zM65 25h1v1h-1zM2 26h1v1h-1zM50 26h1v1h-1zM60 27h1v1h-1zM86 27h1v1h-1zM89 27h1v1h-1zM82 28h1v1h-1zM77 29h1v1h-1zM76 30h1v1h-1zM94 30h1v1h-1zM2 31h1v1h-1zM55 32h1v1h-1zM84 32h1v1h-1zM64 33h1v1h-1zM87 33h1v1h-1zM74 34h1v1h-1zM0 35h1v1h-1zM66 35h1v1h-1zM80 35h1v1h-1zM99 35h1v1h-1zM2 36h1v1h-1zM2 37h1v1h-1zM50 37h1v1h-1zM79 37h1v1h-1zM59 38h1v1h-1zM72 39h1v1h-1zM5 40h1v1h-1zM56 40h1v1h-1zM61 40h1v1h-1zM90 40h1v1h-1zM2 41h1v1h-1zM7 42h1v1h-1zM74 42h1v1h-1zM77 42h1v1h-1zM59 43h1v1h-1zM92 43h1v1h-1zM67 44h1v1h-1zM1 45h1v1h-1zM6 45h1v1h-1zM10 45h1v1h-1zM46 45h1v1h-1zM45 46h1v1h-1zM12 47h1v1h-1zM82 47h1v1h-1zM92 48h1v1h-1zM62 49h1v1h-1zM73 49h1v1h-1zM26 50h1v1h-1zM37 50h1v1h-1zM7 51h1v1h-1zM17 52h1v1h-1zM87 52h1v1h-1zM54 53h1v1h-1zM53 54h1v1h-1zM89 54h1v1h-1zM93 54h1v1h-1zM98 54h1v1h-1zM32 55h1v1h-1zM7 56h1v1h-1zM40 56h1v1h-1zM22 57h1v1h-1zM25 57h1v1h-1zM92 57h1v1h-1zM97 58h1v1h-1zM9 59h1v1h-1zM38 59h1v1h-1zM43 59h1v1h-1zM94 59h1v1h-1zM27 60h1v1h-1zM40 61h1v1h-1zM20 62h1v1h-1zM49 62h1v1h-1zM97 62h1v1h-1zM97 63h1v1h-1zM0 64h1v1h-1zM19 64h1v1h-1zM33 64h1v1h-1zM99 64h1v1h-1zM25 65h1v1h-1zM12 66h1v1h-1zM35 66h1v1h-1zM15 67h1v1h-1zM44 67h1v1h-1zM97 68h1v1h-1zM5 69h1v1h-1zM23 69h1v1h-1zM22 70h1v1h-1zM17 71h1v1h-1zM10 72h1v1h-1zM13 72h1v1h-1zM39 72h1v1h-1zM49 73h1v1h-1zM97 73h1v1h-1zM34 74h1v1h-1zM42 74h1v1h-1zM17 75h1v1h-1zM30 76h1v1h-1zM18 77h1v1h-1zM29 77h1v1h-1zM42 77h1v1h-1zM97 78h1v1h-1zM8 79h1v1h-1zM37 79h1v1h-1zM35 80h1v1h-1zM22 81h1v1h-1zM24 82h1v1h-1zM28 82h1v1h-1zM47 82h1v1h-1zM97 83h1v1h-1zM3 84h1v1h-1zM32 84h1v1h-1zM12 85h1v1h-1zM27 86h1v1h-1zM14 87h1v1h-1zM33 87h1v1h-1zM52 87h1v1h-1zM97 88h1v1h-1zM27 89h1v1h-1zM54 89h1v1h-1zM40 90h1v1h-1zM20 91h1v1h-1zM4 92h1v1h-1zM43 92h1v1h-1zM48 92h1v1h-1zM57 92h1v1h-1zM54 93h1v1h-1zM30 94h1v1h-1zM59 94h1v1h-1zM7 95h1v1h-1zM15 96h1v1h-1zM58 97h1v1h-1zM62 97h2v1h-2zM68 97h1v1h-1zM73 97h1v1h-1zM78 97h1v1h-1zM83 97h1v1h-1zM88 97h1v1h-1zM54 98h1v1h-1zM35 99h1v1h-1zM64 99h1v1h-1z"/>
<path fill="#0068ff" d="M12 0h1v1h-1zM87 0h1v1h-1zM7 1h1v1h-1zM40 1h1v1h-1zM10 2h1v1h-1zM62 3h1v1h-1zM59 4h1v1h-1zM7 5h1v1h-1zM82 5h1v1h-1zM7 6h1v1h-1zM1 7h1v1h-1zM5 7h2v1h-2zM41 7h1v1h-1zM46 7h1v1h-1zM67 8h1v1h-1zM87 9h1v1h-1zM2 10h1v1h-1zM50 10h1v1h-1zM74 10h1v1h-1zM77 10h1v1h-1zM45 11h1v1h-1zM0 12h1v1h-1zM56 12h1v1h-1zM61 12h1v1h-1zM90 12h1v1h-1zM99 12h1v1h-1zM79 13h1v1h-1zM64 14h1v1h-1zM55 15h1v1h-1zM79 15h1v1h-1zM45 16h1v1h-1zM66 17h1v1h-1zM80 17h1v1h-1zM94 17h1v1h-1zM74 18h1v1h-1zM82 19h1v1h-1zM60 20h1v1h-1zM84 20h1v1h-1zM86 20h1v1h-1zM45 21h1v1h-1zM76 22h1v1h-1zM89 22h1v1h-1zM77 23h1v1h-1zM69 24h1v1h-1zM70 25h1v1h-1zM81 25h1v1h-1zM89 25h1v1h-1zM45 26h1v1h-1zM62 27h1v1h-1zM65 27h1v1h-1zM69 28h1v1h-1zM74 29h1v1h-1zM57 30h1v1h-1zM71 30h1v1h-1zM75 30h1v1h-1zM45 31h1v1h-1zM67 32h1v1h-1zM91 32h1v1h-1zM82 33h1v1h-1zM72 34h1v1h-1zM52 35h1v1h-1zM61 35h1v1h-1zM85 35h1v1h-1zM45 36h1v1h-1zM72 37h1v1h-1zM96 37h1v1h-1zM64 38h1v1h-1zM87 38h1v1h-1zM79 39h1v1h-1zM1 40h1v1h-1zM47 40h1v1h-1zM51 40h1v1h-1zM95 40h1v1h-1zM7 41h1v1h-1zM45 41h1v1h-1zM45 42h1v1h-1zM69 42h1v1h-1zM87 43h1v1h-1zM84 44h1v1h-1zM11 45h1v1h-1zM16 45h1v1h-1zM21 45h1v1h-1zM26 45h1v1h-1zM31 45h1v1h-1zM36 45h1v1h-1zM41 45h2v1h-2zM7 46h1v1h-1zM40 47h1v1h-1zM64 47h1v1h-1zM59 48h1v1h-1zM89 49h1v1h-1zM10 50h1v1h-1zM40 51h1v1h-1zM35 52h1v1h-1zM59 52h1v1h-1zM92 53h1v1h-1zM57 54h2v1h-2zM63 54h1v1h-1zM68 54h1v1h-1zM73 54h1v1h-1zM78 54h1v1h-1zM83 54h1v1h-1zM88 54h1v1h-1zM15 55h1v1h-1zM12 56h1v1h-1zM30 57h1v1h-1zM54 57h1v1h-1zM54 58h1v1h-1zM92 58h1v1h-1zM4 59h1v1h-1zM48 59h1v1h-1zM52 59h1v1h-1zM98 59h1v1h-1zM20 60h1v1h-1zM12 61h1v1h-1zM35 61h1v1h-1zM3 62h1v1h-1zM27 62h1v1h-1zM54 63h1v1h-1zM14 64h1v1h-1zM38 64h1v1h-1zM47 64h1v1h-1zM27 65h1v1h-1zM17 66h1v1h-1zM8 67h1v1h-1zM32 67h1v1h-1zM54 68h1v1h-1zM24 69h1v1h-1zM28 69h1v1h-1zM42 69h1v1h-1zM25 70h1v1h-1zM30 71h1v1h-1zM34 72h1v1h-1zM37 72h1v1h-1zM54 73h1v1h-1zM10 74h1v1h-1zM18 74h1v1h-1zM29 74h1v1h-1zM30 75h1v1h-1zM22 76h1v1h-1zM10 77h1v1h-1zM23 77h1v1h-1zM54 78h1v1h-1zM13 79h1v1h-1zM15 79h1v1h-1zM39 79h1v1h-1zM17 80h1v1h-1zM25 81h1v1h-1zM5 82h1v1h-1zM19 82h1v1h-1zM33 82h1v1h-1zM54 83h1v1h-1zM20 84h1v1h-1zM44 84h1v1h-1zM35 85h1v1h-1zM20 86h1v1h-1zM0 87h1v1h-1zM9 87h1v1h-1zM38 87h1v1h-1zM43 87h1v1h-1zM99 87h1v1h-1zM54 88h1v1h-1zM22 89h1v1h-1zM25 89h1v1h-1zM49 89h1v1h-1zM97 89h1v1h-1zM12 90h1v1h-1zM32 91h1v1h-1zM53 92h1v1h-1zM58 92h1v1h-1zM93 92h2v1h-2zM98 92h1v1h-1zM92 93h1v1h-1zM17 94h1v1h-1zM92 94h1v1h-1zM40 95h1v1h-1zM37 96h1v1h-1zM89 97h1v1h-1zM59 98h1v1h-1zM92 98h1v1h-1zM12 99h1v1h-1zM87 99h1v1h-1z"/>
<path fill="#0078ff" d="M40 0h1v1h-1zM59 0h1v1h-1zM12 1h1v1h-1zM42 2h1v1h-1zM89 3h1v1h-1zM87 4h1v1h-1zM45 5h1v1h-1zM64 5h1v1h-1zM40 6h1v1h-1zM11 7h1v1h-1zM16 7h1v1h-1zM21 7h1v1h-1zM26 7h1v1h-1zM31 7h1v1h-1zM36 7h1v1h-1zM47 7h1v1h-1zM84 8h1v1h-1zM64 9h1v1h-1zM69 10h1v1h-1zM96 10h1v1h-1zM7 11h1v1h-1zM40 11h1v1h-1zM1 12h1v1h-1zM51 12h2v1h-2zM95 12h1v1h-1zM67 13h1v1h-1zM82 14h1v1h-1zM72 15h1v1h-1zM91 15h1v1h-1zM7 16h1v1h-1zM57 17h1v1h-1zM61 17h1v1h-1zM85 17h1v1h-1zM72 18h1v1h-1zM69 19h1v1h-1zM65 20h1v1h-1zM67 20h1v1h-1zM7 21h1v1h-1zM71 22h1v1h-1zM75 22h1v1h-1zM74 23h1v1h-1zM77 24h1v1h-1zM62 25h1v1h-1zM76 25h1v1h-1zM7 26h1v1h-1zM70 27h1v1h-1zM81 27h1v1h-1zM84 27h1v1h-1zM77 28h1v1h-1zM72 29h1v1h-1zM66 30h1v1h-1zM80 30h1v1h-1zM89 30h1v1h-1zM7 31h1v1h-1zM60 32h1v1h-1zM79 32h1v1h-1zM86 32h1v1h-1zM69 33h1v1h-1zM79 34h1v1h-1zM56 35h1v1h-1zM90 35h1v1h-1zM94 35h1v1h-1zM7 36h1v1h-1zM55 37h1v1h-1zM74 37h1v1h-1zM82 38h1v1h-1zM67 39h1v1h-1zM0 40h1v1h-1zM6 40h1v1h-1zM11 40h1v1h-1zM41 40h1v1h-1zM46 40h1v1h-1zM99 40h1v1h-1zM40 41h1v1h-1zM2 42h1v1h-1zM50 42h1v1h-1zM82 42h1v1h-1zM64 43h1v1h-1zM62 44h1v1h-1zM5 45h1v1h-1zM40 46h1v1h-1zM7 47h1v1h-1zM87 47h1v1h-1zM87 48h1v1h-1zM57 49h1v1h-1zM42 50h1v1h-1zM12 51h1v1h-1zM12 52h1v1h-1zM92 52h1v1h-1zM59 53h1v1h-1zM94 54h1v1h-1zM37 55h1v1h-1zM35 56h1v1h-1zM17 57h1v1h-1zM49 57h1v1h-1zM97 57h1v1h-1zM59 58h1v1h-1zM0 59h1v1h-1zM53 59h1v1h-1zM58 59h1v1h-1zM88 59h1v1h-1zM93 59h1v1h-1zM99 59h1v1h-1zM32 60h1v1h-1zM17 61h1v1h-1zM25 62h1v1h-1zM44 62h1v1h-1zM92 63h1v1h-1zM5 64h1v1h-1zM9 64h1v1h-1zM43 64h1v1h-1zM20 65h1v1h-1zM30 66h1v1h-1zM13 67h1v1h-1zM20 67h1v1h-1zM39 67h1v1h-1zM92 68h1v1h-1zM10 69h1v1h-1zM19 69h1v1h-1zM33 69h1v1h-1zM27 70h1v1h-1zM22 71h1v1h-1zM15 72h1v1h-1zM18 72h1v1h-1zM29 72h1v1h-1zM92 73h1v1h-1zM23 74h1v1h-1zM37 74h1v1h-1zM22 75h1v1h-1zM25 76h1v1h-1zM24 77h1v1h-1zM28 77h1v1h-1zM92 78h1v1h-1zM32 79h1v1h-1zM34 79h1v1h-1zM30 80h1v1h-1zM27 81h1v1h-1zM14 82h1v1h-1zM38 82h1v1h-1zM42 82h1v1h-1zM92 83h1v1h-1zM8 84h1v1h-1zM27 84h1v1h-1zM17 85h1v1h-1zM32 86h1v1h-1zM4 87h1v1h-1zM47 87h2v1h-2zM98 87h1v1h-1zM59 88h1v1h-1zM92 88h1v1h-1zM3 89h1v1h-1zM30 89h1v1h-1zM35 90h1v1h-1zM15 91h1v1h-1zM52 92h1v1h-1zM63 92h1v1h-1zM68 92h1v1h-1zM73 92h1v1h-1zM78 92h1v1h-1zM83 92h1v1h-1zM88 92h1v1h-1zM59 93h1v1h-1zM35 94h1v1h-1zM54 94h1v1h-1zM12 95h1v1h-1zM10 96h1v1h-1zM57 97h1v1h-1zM87 98h1v1h-1zM40 99h1v1h-1zM59 99h1v1h-1z"/>
<path fill="#0087ff" d="M7 0h1v1h-1zM92 0h1v1h-1zM35 1h1v1h-1zM5 2h1v1h-1zM57 3h1v1h-1zM64 4h1v1h-1zM2 5h1v1h-1zM50 5h1v1h-1zM87 5h1v1h-1zM12 6h1v1h-1zM0 7h1v1h-1zM99 7h1v1h-1zM62 8h1v1h-1zM82 9h1v1h-1zM55 10h1v1h-1zM82 10h1v1h-1zM12 11h1v1h-1zM6 12h1v1h-1zM11 12h1v1h-1zM41 12h1v1h-1zM46 12h1v1h-1zM94 12h1v1h-1zM84 13h1v1h-1zM69 14h1v1h-1zM60 15h1v1h-1zM74 15h1v1h-1zM86 15h1v1h-1zM40 16h1v1h-1zM56 17h1v1h-1zM89 17h2v1h-2zM79 18h1v1h-1zM77 19h1v1h-1zM70 20h1v1h-1zM79 20h1v1h-1zM81 20h1v1h-1zM40 21h1v1h-1zM62 22h1v1h-1zM66 22h1v1h-1zM80 22h1v1h-1zM72 23h1v1h-1zM74 24h1v1h-1zM71 25h1v1h-1zM75 25h1v1h-1zM84 25h1v1h-1zM40 26h1v1h-1zM67 27h1v1h-1zM76 27h1v1h-1zM74 28h1v1h-1zM79 29h1v1h-1zM61 30h2v1h-2zM85 30h1v1h-1zM40 31h1v1h-1zM65 32h1v1h-1zM72 32h1v1h-1zM77 33h1v1h-1zM67 34h1v1h-1zM1 35h1v1h-1zM51 35h1v1h-1zM57 35h1v1h-1zM95 35h1v1h-1zM40 36h1v1h-1zM69 37h1v1h-1zM77 37h1v1h-1zM91 37h1v1h-1zM69 38h1v1h-1zM84 39h1v1h-1zM16 40h1v1h-1zM21 40h1v1h-1zM26 40h1v1h-1zM31 40h1v1h-1zM36 40h1v1h-1zM52 40h1v1h-1zM12 41h1v1h-1zM64 42h1v1h-1zM96 42h1v1h-1zM82 43h1v1h-1zM89 44h1v1h-1zM47 45h1v1h-1zM12 46h1v1h-1zM45 47h1v1h-1zM59 47h1v1h-1zM64 48h1v1h-1zM94 49h1v1h-1zM5 50h1v1h-1zM35 51h1v1h-1zM40 52h1v1h-1zM54 52h1v1h-1zM87 53h1v1h-1zM52 54h1v1h-1zM10 55h1v1h-1zM17 56h1v1h-1zM3 57h1v1h-1zM35 57h1v1h-1zM87 58h1v1h-1zM47 59h1v1h-1zM63 59h1v1h-1zM68 59h1v1h-1zM73 59h1v1h-1zM78 59h1v1h-1zM83 59h1v1h-1zM15 60h1v1h-1zM30 61h1v1h-1zM8 62h1v1h-1zM22 62h1v1h-1zM30 62h1v1h-1zM59 63h1v1h-1zM4 64h1v1h-1zM42 64h1v1h-1zM48 64h1v1h-1zM98 64h1v1h-1zM32 65h1v1h-1zM22 66h1v1h-1zM27 67h1v1h-1zM34 67h1v1h-1zM59 68h1v1h-1zM14 69h1v1h-1zM37 69h2v1h-2zM20 70h1v1h-1zM25 71h1v1h-1zM23 72h1v1h-1zM32 72h1v1h-1zM59 73h1v1h-1zM15 74h1v1h-1zM24 74h1v1h-1zM28 74h1v1h-1zM25 75h1v1h-1zM27 76h1v1h-1zM19 77h1v1h-1zM33 77h1v1h-1zM37 77h1v1h-1zM59 78h1v1h-1zM18 79h1v1h-1zM20 79h1v1h-1zM29 79h1v1h-1zM22 80h1v1h-1zM20 81h1v1h-1zM9 82h2v1h-2zM43 82h1v1h-1zM59 83h1v1h-1zM13 84h1v1h-1zM25 84h1v1h-1zM39 84h1v1h-1zM30 85h1v1h-1zM15 86h1v1h-1zM5 87h1v1h-1zM53 87h1v1h-1zM58 87h1v1h-1zM88 87h1v1h-1zM93 87h1v1h-1zM87 88h1v1h-1zM17 89h1v1h-1zM44 89h1v1h-1zM17 90h1v1h-1zM37 91h1v1h-1zM0 92h1v1h-1zM99 92h1v1h-1zM87 93h1v1h-1zM12 94h1v1h-1zM49 94h1v1h-1zM97 94h1v1h-1zM35 95h1v1h-1zM42 96h1v1h-1zM94 97h1v1h-1zM64 98h1v1h-1zM7 99h1v1h-1zM92 99h1v1h-1z"/>
<path fill="#0097ff" d="M45 0h1v1h-1zM54 0h1v1h-1zM17 1h1v1h-1zM47 2h1v1h-1zM94 3h1v1h-1zM69 4h1v1h-1zM82 4h1v1h-1zM59 5h1v1h-1zM96 5h1v1h-1zM35 6h1v1h-1zM52 7h1v1h-1zM89 8h1v1h-1zM69 9h1v1h-1zM64 10h1v1h-1zM91 10h1v1h-1zM35 11h1v1h-1zM16 12h1v1h-1zM21 12h1v1h-1zM26 12h1v1h-1zM31 12h1v1h-1zM36 12h1v1h-1zM57 12h1v1h-1zM62 13h1v1h-1zM77 14h1v1h-1zM65 15h1v1h-1zM69 15h1v1h-1zM77 15h1v1h-1zM12 16h1v1h-1zM1 17h1v1h-1zM51 17h1v1h-1zM62 17h1v1h-1zM95 17h1v1h-1zM67 18h1v1h-1zM74 19h1v1h-1zM72 20h1v1h-1zM76 20h1v1h-1zM12 21h1v1h-1zM61 22h1v1h-1zM67 22h1v1h-1zM84 22h2v1h-2zM79 23h1v1h-1zM72 24h1v1h-1zM66 25h2v1h-2zM80 25h1v1h-1zM12 26h1v1h-1zM71 27h1v1h-1zM75 27h1v1h-1zM79 27h1v1h-1zM72 28h1v1h-1zM67 29h1v1h-1zM56 30h1v1h-1zM84 30h1v1h-1zM90 30h1v1h-1zM95 30h1v1h-1zM12 31h1v1h-1zM70 32h1v1h-1zM74 32h1v1h-1zM77 32h1v1h-1zM81 32h1v1h-1zM74 33h1v1h-1zM84 34h1v1h-1zM6 35h1v1h-1zM11 35h1v1h-1zM36 35h1v1h-1zM41 35h1v1h-1zM46 35h1v1h-1zM89 35h1v1h-1zM12 36h1v1h-1zM35 36h1v1h-1zM60 37h1v1h-1zM82 37h1v1h-1zM86 37h1v1h-1zM77 38h1v1h-1zM62 39h1v1h-1zM94 40h1v1h-1zM35 41h1v1h-1zM55 42h1v1h-1zM87 42h1v1h-1zM69 43h1v1h-1zM57 44h1v1h-1zM0 45h1v1h-1zM99 45h1v1h-1zM35 46h1v1h-1zM2 47h1v1h-1zM50 47h1v1h-1zM92 47h1v1h-1zM82 48h1v1h-1zM52 49h1v1h-1zM47 50h1v1h-1zM17 51h1v1h-1zM7 52h1v1h-1zM49 52h1v1h-1zM97 52h1v1h-1zM64 53h1v1h-1zM0 54h1v1h-1zM99 54h1v1h-1zM42 55h1v1h-1zM30 56h1v1h-1zM12 57h1v1h-1zM44 57h1v1h-1zM64 58h1v1h-1zM5 59h1v1h-1zM37 60h1v1h-1zM22 61h1v1h-1zM13 62h1v1h-1zM17 62h1v1h-1zM39 62h1v1h-1zM64 63h1v1h-1zM87 63h1v1h-1zM10 64h1v1h-1zM53 64h1v1h-1zM58 64h1v1h-1zM63 64h1v1h-1zM88 64h1v1h-1zM93 64h1v1h-1zM15 65h1v1h-1zM25 66h1v1h-1zM18 67h1v1h-1zM22 67h1v1h-1zM25 67h1v1h-1zM29 67h1v1h-1zM87 68h1v1h-1zM4 69h1v1h-1zM9 69h1v1h-1zM15 69h1v1h-1zM43 69h1v1h-1zM32 70h1v1h-1zM27 71h1v1h-1zM20 72h1v1h-1zM24 72h1v1h-1zM28 72h1v1h-1zM87 73h1v1h-1zM19 74h1v1h-1zM32 74h2v1h-2zM27 75h1v1h-1zM20 76h1v1h-1zM14 77h2v1h-2zM32 77h1v1h-1zM38 77h1v1h-1zM87 78h1v1h-1zM23 79h1v1h-1zM27 79h1v1h-1zM25 80h1v1h-1zM32 81h1v1h-1zM4 82h1v1h-1zM37 82h1v1h-1zM48 82h1v1h-1zM98 82h1v1h-1zM87 83h1v1h-1zM22 84h1v1h-1zM30 84h1v1h-1zM34 84h1v1h-1zM22 85h1v1h-1zM37 86h1v1h-1zM42 87h1v1h-1zM63 87h1v1h-1zM68 87h1v1h-1zM73 87h1v1h-1zM78 87h1v1h-1zM83 87h1v1h-1zM64 88h1v1h-1zM8 89h1v1h-1zM35 89h1v1h-1zM30 90h1v1h-1zM10 91h1v1h-1zM47 92h1v1h-1zM64 93h1v1h-1zM3 94h1v1h-1zM40 94h1v1h-1zM17 95h1v1h-1zM30 95h1v1h-1zM5 96h1v1h-1zM52 97h1v1h-1zM82 98h1v1h-1zM45 99h1v1h-1zM54 99h1v1h-1z"/>
<path fill="#00a7ff" d="M2 0h1v1h-1zM49 0h2v1h-2zM97 0h1v1h-1zM30 1h1v1h-1zM0 2h1v1h-1zM99 2h1v1h-1zM52 3h1v1h-1zM77 4h1v1h-1zM55 5h1v1h-1zM92 5h1v1h-1zM17 6h1v1h-1zM94 7h1v1h-1zM57 8h1v1h-1zM77 9h1v1h-1zM60 10h1v1h-1zM86 10h2v1h-2zM17 11h1v1h-1zM89 12h1v1h-1zM89 13h1v1h-1zM74 14h1v1h-1zM70 15h1v1h-1zM81 15h2v1h-2zM17 16h1v1h-1zM35 16h1v1h-1zM6 17h1v1h-1zM11 17h1v1h-1zM16 17h1v1h-1zM36 17h1v1h-1zM41 17h1v1h-1zM46 17h1v1h-1zM84 17h1v1h-1zM84 18h1v1h-1zM72 19h1v1h-1zM71 20h1v1h-1zM74 20h2v1h-2zM77 20h1v1h-1zM35 21h1v1h-1zM56 22h1v1h-1zM79 22h1v1h-1zM90 22h1v1h-1zM95 22h1v1h-1zM67 23h1v1h-1zM79 24h1v1h-1zM61 25h1v1h-1zM79 25h1v1h-1zM85 25h1v1h-1zM35 26h1v1h-1zM66 27h1v1h-1zM72 27h1v1h-1zM80 27h1v1h-1zM79 28h1v1h-1zM84 29h1v1h-1zM1 30h1v1h-1zM46 30h1v1h-1zM51 30h1v1h-1zM67 30h1v1h-1zM35 31h1v1h-1zM69 32h1v1h-1zM76 32h1v1h-1zM72 33h1v1h-1zM62 34h1v1h-1zM16 35h1v1h-1zM21 35h1v1h-1zM26 35h1v1h-1zM31 35h1v1h-1zM62 35h1v1h-1zM17 36h1v1h-1zM64 37h2v1h-2zM74 38h1v1h-1zM89 39h1v1h-1zM57 40h1v1h-1zM17 41h1v1h-1zM59 42h1v1h-1zM91 42h1v1h-1zM77 43h1v1h-1zM94 44h1v1h-1zM52 45h1v1h-1zM17 46h1v1h-1zM30 46h1v1h-1zM54 47h1v1h-1zM96 47h1v1h-1zM69 48h1v1h-1zM0 49h1v1h-1zM99 49h1v1h-1zM0 50h1v1h-1zM99 50h1v1h-1zM30 51h1v1h-1zM3 52h1v1h-1zM45 52h1v1h-1zM69 53h1v1h-1zM82 53h1v1h-1zM47 54h1v1h-1zM5 55h1v1h-1zM22 56h1v1h-1zM8 57h1v1h-1zM40 57h1v1h-1zM82 58h1v1h-1zM42 59h1v1h-1zM10 60h1v1h-1zM25 61h1v1h-1zM34 62h2v1h-2zM82 63h1v1h-1zM37 64h1v1h-1zM68 64h1v1h-1zM73 64h1v1h-1zM78 64h1v1h-1zM83 64h1v1h-1zM37 65h1v1h-1zM27 66h1v1h-1zM23 67h1v1h-1zM30 67h1v1h-1zM64 68h1v1h-1zM32 69h1v1h-1zM48 69h1v1h-1zM53 69h1v1h-1zM98 69h1v1h-1zM15 70h1v1h-1zM20 71h1v1h-1zM19 72h1v1h-1zM27 72h1v1h-1zM33 72h1v1h-1zM64 73h1v1h-1zM14 74h1v1h-1zM20 74h1v1h-1zM38 74h1v1h-1zM20 75h1v1h-1zM32 76h1v1h-1zM4 77h1v1h-1zM9 77h1v1h-1zM20 77h1v1h-1zM43 77h1v1h-1zM64 78h1v1h-1zM22 79h1v1h-1zM24 79h2v1h-2zM28 79h1v1h-1zM27 80h1v1h-1zM15 81h1v1h-1zM15 82h1v1h-1zM53 82h1v1h-1zM58 82h1v1h-1zM63 82h1v1h-1zM83 82h1v1h-1zM88 82h1v1h-1zM93 82h1v1h-1zM64 83h1v1h-1zM82 83h1v1h-1zM17 84h2v1h-2zM29 84h1v1h-1zM25 85h1v1h-1zM10 86h1v1h-1zM10 87h1v1h-1zM82 88h1v1h-1zM12 89h2v1h-2zM39 89h1v1h-1zM22 90h1v1h-1zM42 91h1v1h-1zM5 92h1v1h-1zM82 93h1v1h-1zM7 94h1v1h-1zM44 94h1v1h-1zM22 95h1v1h-1zM47 96h1v1h-1zM0 97h1v1h-1zM99 97h1v1h-1zM69 98h1v1h-1zM2 99h1v1h-1zM49 99h2v1h-2zM97 99h1v1h-1z"/>
<path fill="#00b7ff" d="M3 0h1v1h-1zM96 0h1v1h-1zM22 1h1v1h-1zM52 2h1v1h-1zM0 3h1v1h-1zM99 3h1v1h-1zM74 4h1v1h-1zM54 5h1v1h-1zM91 5h1v1h-1zM30 6h1v1h-1zM57 7h1v1h-1zM94 8h1v1h-1zM74 9h1v1h-1zM59 10h1v1h-1zM65 10h1v1h-1zM30 11h1v1h-1zM62 12h1v1h-1zM57 13h1v1h-1zM72 14h1v1h-1zM64 15h1v1h-1zM76 15h1v1h-1zM30 16h1v1h-1zM21 17h1v1h-1zM26 17h1v1h-1zM31 17h1v1h-1zM67 17h1v1h-1zM62 18h1v1h-1zM79 19h1v1h-1zM66 20h1v1h-1zM69 20h1v1h-1zM80 20h1v1h-1zM17 21h1v1h-1zM1 22h1v1h-1zM46 22h1v1h-1zM51 22h1v1h-1zM72 22h1v1h-1zM84 23h1v1h-1zM67 24h1v1h-1zM56 25h1v1h-1zM72 25h1v1h-1zM74 25h1v1h-1zM90 25h1v1h-1zM95 25h1v1h-1zM17 26h1v1h-1zM61 27h1v1h-1zM74 27h1v1h-1zM77 27h1v1h-1zM85 27h1v1h-1zM67 28h1v1h-1zM62 29h1v1h-1zM6 30h1v1h-1zM11 30h1v1h-1zM16 30h1v1h-1zM36 30h1v1h-1zM41 30h1v1h-1zM79 30h1v1h-1zM17 31h1v1h-1zM71 32h1v1h-1zM75 32h1v1h-1zM82 32h1v1h-1zM79 33h1v1h-1zM89 34h1v1h-1zM84 35h1v1h-1zM30 36h1v1h-1zM70 37h1v1h-1zM81 37h1v1h-1zM87 37h1v1h-1zM72 38h1v1h-1zM57 39h1v1h-1zM89 40h1v1h-1zM30 41h1v1h-1zM60 42h1v1h-1zM86 42h1v1h-1zM92 42h1v1h-1zM74 43h1v1h-1zM52 44h1v1h-1zM94 45h1v1h-1zM22 46h1v1h-1zM49 47h1v1h-1zM55 47h1v1h-1zM97 47h1v1h-1zM77 48h1v1h-1zM47 49h1v1h-1zM52 50h1v1h-1zM22 51h1v1h-1zM2 52h1v1h-1zM44 52h1v1h-1zM50 52h1v1h-1zM77 53h1v1h-1zM5 54h1v1h-1zM47 55h1v1h-1zM25 56h1v1h-1zM7 57h1v1h-1zM13 57h1v1h-1zM39 57h1v1h-1zM69 58h1v1h-1zM10 59h1v1h-1zM42 60h1v1h-1zM27 61h1v1h-1zM12 62h1v1h-1zM18 62h1v1h-1zM29 62h1v1h-1zM69 63h1v1h-1zM15 64h1v1h-1zM10 65h1v1h-1zM20 66h1v1h-1zM17 67h1v1h-1zM24 67h1v1h-1zM28 67h1v1h-1zM82 68h1v1h-1zM20 69h1v1h-1zM58 69h1v1h-1zM63 69h1v1h-1zM83 69h1v1h-1zM88 69h1v1h-1zM93 69h1v1h-1zM37 70h1v1h-1zM32 71h1v1h-1zM14 72h1v1h-1zM22 72h1v1h-1zM25 72h1v1h-1zM38 72h1v1h-1zM82 73h1v1h-1zM4 74h1v1h-1zM9 74h1v1h-1zM25 74h1v1h-1zM27 74h1v1h-1zM43 74h1v1h-1zM32 75h1v1h-1zM15 76h1v1h-1zM27 77h1v1h-1zM48 77h1v1h-1zM53 77h1v1h-1zM98 77h1v1h-1zM82 78h1v1h-1zM19 79h1v1h-1zM30 79h1v1h-1zM33 79h1v1h-1zM20 80h1v1h-1zM37 81h1v1h-1zM32 82h1v1h-1zM68 82h1v1h-1zM73 82h1v1h-1zM78 82h1v1h-1zM69 83h1v1h-1zM23 84h1v1h-1zM35 84h1v1h-1zM27 85h1v1h-1zM42 86h1v1h-1zM37 87h1v1h-1zM69 88h1v1h-1zM34 89h1v1h-1zM40 89h1v1h-1zM25 90h1v1h-1zM5 91h1v1h-1zM42 92h1v1h-1zM69 93h1v1h-1zM8 94h1v1h-1zM45 94h1v1h-1zM25 95h1v1h-1zM0 96h1v1h-1zM99 96h1v1h-1zM47 97h1v1h-1zM77 98h1v1h-1zM3 99h1v1h-1zM96 99h1v1h-1z"/>
<path fill="#00c7ff" d="M44 0h1v1h-1zM55 0h1v1h-1zM25 1h1v1h-1zM94 2h1v1h-1zM47 3h1v1h-1zM72 4h1v1h-1zM60 5h1v1h-1zM86 5h1v1h-1zM97 5h1v1h-1zM22 6h1v1h-1zM89 7h1v1h-1zM52 8h1v1h-1zM72 9h1v1h-1zM70 10h1v1h-1zM81 10h1v1h-1zM92 10h1v1h-1zM22 11h1v1h-1zM84 12h1v1h-1zM94 13h1v1h-1zM79 14h1v1h-1zM71 15h1v1h-1zM75 15h1v1h-1zM87 15h1v1h-1zM22 16h1v1h-1zM79 17h1v1h-1zM89 18h1v1h-1zM67 19h1v1h-1zM61 20h1v1h-1zM82 20h1v1h-1zM85 20h1v1h-1zM30 21h1v1h-1zM6 22h1v1h-1zM11 22h1v1h-1zM16 22h1v1h-1zM31 22h1v1h-1zM36 22h1v1h-1zM41 22h1v1h-1zM74 22h1v1h-1zM62 23h1v1h-1zM84 24h1v1h-1zM1 25h1v1h-1zM46 25h1v1h-1zM51 25h1v1h-1zM77 25h1v1h-1zM30 26h1v1h-1zM56 27h1v1h-1zM69 27h1v1h-1zM90 27h1v1h-1zM95 27h1v1h-1zM84 28h1v1h-1zM89 29h1v1h-1zM21 30h1v1h-1zM26 30h1v1h-1zM31 30h1v1h-1zM72 30h1v1h-1zM22 31h1v1h-1zM30 31h1v1h-1zM64 32h1v1h-1zM66 32h1v1h-1zM80 32h1v1h-1zM67 33h1v1h-1zM57 34h1v1h-1zM67 35h1v1h-1zM22 36h1v1h-1zM59 37h1v1h-1zM76 37h1v1h-1zM79 38h1v1h-1zM94 39h1v1h-1zM62 40h1v1h-1zM22 41h1v1h-1zM54 42h1v1h-1zM65 42h1v1h-1zM72 43h1v1h-1zM0 44h1v1h-1zM99 44h1v1h-1zM57 45h1v1h-1zM25 46h1v1h-1zM3 47h1v1h-1zM91 47h1v1h-1zM74 48h1v1h-1zM25 51h1v1h-1zM8 52h1v1h-1zM96 52h1v1h-1zM74 53h1v1h-1zM42 54h1v1h-1zM0 55h1v1h-1zM99 55h1v1h-1zM27 56h1v1h-1zM34 57h1v1h-1zM45 57h1v1h-1zM77 58h1v1h-1zM37 59h1v1h-1zM5 60h1v1h-1zM20 61h1v1h-1zM23 62h1v1h-1zM40 62h1v1h-1zM77 63h1v1h-1zM32 64h1v1h-1zM42 65h1v1h-1zM32 66h1v1h-1zM19 67h1v1h-1zM33 67h1v1h-1zM35 67h1v1h-1zM69 68h1v1h-1zM77 68h1v1h-1zM27 69h1v1h-1zM68 69h1v1h-1zM73 69h1v1h-1zM78 69h1v1h-1zM10 70h1v1h-1zM15 71h1v1h-1zM4 72h1v1h-1zM9 72h1v1h-1zM30 72h1v1h-1zM43 72h1v1h-1zM69 73h1v1h-1zM22 74h1v1h-1zM48 74h1v1h-1zM53 74h1v1h-1zM98 74h1v1h-1zM15 75h1v1h-1zM37 76h1v1h-1zM25 77h1v1h-1zM58 77h1v1h-1zM63 77h1v1h-1zM68 77h1v1h-1zM83 77h1v1h-1zM88 77h1v1h-1zM93 77h1v1h-1zM69 78h1v1h-1zM14 79h1v1h-1zM17 79h1v1h-1zM38 79h1v1h-1zM32 80h1v1h-1zM10 81h1v1h-1zM20 82h1v1h-1zM77 83h1v1h-1zM12 84h1v1h-1zM24 84h1v1h-1zM28 84h1v1h-1zM20 85h1v1h-1zM5 86h1v1h-1zM15 87h1v1h-1zM77 88h1v1h-1zM7 89h1v1h-1zM18 89h1v1h-1zM29 89h1v1h-1zM27 90h1v1h-1zM47 91h1v1h-1zM10 92h1v1h-1zM77 93h1v1h-1zM2 94h1v1h-1zM13 94h1v1h-1zM39 94h1v1h-1zM27 95h1v1h-1zM52 96h1v1h-1zM5 97h1v1h-1zM74 98h1v1h-1zM44 99h1v1h-1zM55 99h1v1h-1z"/>
<path fill="#00d7ff" d="M8 0h1v1h-1zM91 0h1v1h-1zM27 1h1v1h-1zM57 2h1v1h-1zM5 3h1v1h-1zM79 4h1v1h-1zM3 5h1v1h-1zM49 5h1v1h-1zM65 5h1v1h-1zM25 6h1v1h-1zM62 7h1v1h-1zM0 8h1v1h-1zM99 8h1v1h-1zM79 9h1v1h-1zM54 10h1v1h-1zM76 10h1v1h-1zM25 11h1v1h-1zM67 12h1v1h-1zM52 13h1v1h-1zM67 14h1v1h-1zM59 15h1v1h-1zM66 15h1v1h-1zM80 15h1v1h-1zM25 16h1v1h-1zM72 17h1v1h-1zM57 18h1v1h-1zM84 19h1v1h-1zM56 20h1v1h-1zM64 20h1v1h-1zM90 20h1v1h-1zM95 20h1v1h-1zM22 21h1v1h-1zM25 21h1v1h-1zM21 22h1v1h-1zM26 22h1v1h-1zM77 22h1v1h-1zM89 23h1v1h-1zM62 24h1v1h-1zM6 25h1v1h-1zM11 25h1v1h-1zM16 25h1v1h-1zM21 25h1v1h-1zM31 25h1v1h-1zM36 25h1v1h-1zM41 25h1v1h-1zM69 25h1v1h-1zM22 26h1v1h-1zM1 27h1v1h-1zM46 27h1v1h-1zM51 27h1v1h-1zM82 27h1v1h-1zM62 28h1v1h-1zM57 29h1v1h-1zM74 30h1v1h-1zM25 31h1v1h-1zM61 32h1v1h-1zM85 32h1v1h-1zM87 32h1v1h-1zM84 33h1v1h-1zM94 34h1v1h-1zM79 35h1v1h-1zM25 36h1v1h-1zM71 37h1v1h-1zM75 37h1v1h-1zM92 37h1v1h-1zM67 38h1v1h-1zM52 39h1v1h-1zM84 40h1v1h-1zM25 41h1v1h-1zM70 42h1v1h-1zM81 42h1v1h-1zM97 42h1v1h-1zM79 43h1v1h-1zM47 44h1v1h-1zM89 45h1v1h-1zM27 46h1v1h-1zM44 47h1v1h-1zM60 47h1v1h-1zM86 47h1v1h-1zM72 48h1v1h-1zM5 49h1v1h-1zM94 50h1v1h-1zM27 51h1v1h-1zM13 52h1v1h-1zM39 52h1v1h-1zM55 52h1v1h-1zM72 53h1v1h-1zM10 54h1v1h-1zM52 55h1v1h-1zM20 56h1v1h-1zM2 57h1v1h-1zM18 57h1v1h-1zM29 57h1v1h-1zM74 58h1v1h-1zM15 59h1v1h-1zM47 60h1v1h-1zM32 61h1v1h-1zM7 62h1v1h-1zM24 62h1v1h-1zM28 62h1v1h-1zM74 63h1v1h-1zM20 64h1v1h-1zM5 65h1v1h-1zM15 66h1v1h-1zM12 67h1v1h-1zM14 67h1v1h-1zM38 67h1v1h-1zM74 68h1v1h-1zM25 69h1v1h-1zM42 70h1v1h-1zM37 71h1v1h-1zM17 72h1v1h-1zM48 72h1v1h-1zM53 72h1v1h-1zM98 72h1v1h-1zM77 73h1v1h-1zM30 74h1v1h-1zM58 74h1v1h-1zM63 74h1v1h-1zM68 74h1v1h-1zM78 74h1v1h-1zM83 74h1v1h-1zM88 74h1v1h-1zM93 74h1v1h-1zM37 75h1v1h-1zM10 76h1v1h-1zM22 77h1v1h-1zM73 77h1v1h-1zM78 77h1v1h-1zM74 78h1v1h-1zM77 78h1v1h-1zM4 79h1v1h-1zM9 79h1v1h-1zM35 79h1v1h-1zM43 79h1v1h-1zM15 80h1v1h-1zM42 81h1v1h-1zM27 82h1v1h-1zM74 83h1v1h-1zM19 84h1v1h-1zM33 84h1v1h-1zM40 84h1v1h-1zM32 85h1v1h-1zM47 86h1v1h-1zM32 87h1v1h-1zM74 88h1v1h-1zM23 89h1v1h-1zM45 89h1v1h-1zM20 90h1v1h-1zM0 91h1v1h-1zM99 91h1v1h-1zM37 92h1v1h-1zM74 93h1v1h-1zM34 94h1v1h-1zM50 94h1v1h-1zM96 94h1v1h-1zM20 95h1v1h-1zM94 96h1v1h-1zM42 97h1v1h-1zM72 98h1v1h-1zM8 99h1v1h-1zM91 99h1v1h-1z"/>
<path fill="#00e7ff" d="M13 0h1v1h-1zM39 0h1v1h-1zM60 0h1v1h-1zM86 0h1v1h-1zM20 1h1v1h-1zM89 2h1v1h-1zM42 3h1v1h-1zM67 4h1v1h-1zM44 5h1v1h-1zM70 5h1v1h-1zM81 5h1v1h-1zM27 6h1v1h-1zM84 7h1v1h-1zM47 8h1v1h-1zM67 9h1v1h-1zM71 10h1v1h-1zM75 10h1v1h-1zM97 10h1v1h-1zM27 11h1v1h-1zM79 12h1v1h-1zM0 13h1v1h-1zM99 13h1v1h-1zM84 14h1v1h-1zM61 15h1v1h-1zM85 15h1v1h-1zM92 15h1v1h-1zM27 16h1v1h-1zM74 17h1v1h-1zM94 18h1v1h-1zM62 19h1v1h-1zM1 20h1v1h-1zM46 20h1v1h-1zM51 20h1v1h-1zM87 20h1v1h-1zM27 21h1v1h-1zM69 22h1v1h-1zM57 23h1v1h-1zM89 24h1v1h-1zM26 25h1v1h-1zM82 25h1v1h-1zM25 26h1v1h-1zM27 26h1v1h-1zM6 27h1v1h-1zM11 27h1v1h-1zM16 27h1v1h-1zM21 27h1v1h-1zM26 27h1v1h-1zM31 27h1v1h-1zM36 27h1v1h-1zM41 27h1v1h-1zM64 27h1v1h-1zM89 28h1v1h-1zM94 29h1v1h-1zM77 30h1v1h-1zM27 31h1v1h-1zM56 32h1v1h-1zM59 32h1v1h-1zM90 32h1v1h-1zM95 32h1v1h-1zM62 33h1v1h-1zM52 34h1v1h-1zM72 35h1v1h-1zM27 36h1v1h-1zM54 37h1v1h-1zM66 37h1v1h-1zM80 37h1v1h-1zM84 38h1v1h-1zM0 39h1v1h-1zM99 39h1v1h-1zM67 40h1v1h-1zM27 41h1v1h-1zM3 42h1v1h-1zM49 42h1v1h-1zM76 42h1v1h-1zM67 43h1v1h-1zM5 44h1v1h-1zM62 45h1v1h-1zM20 46h1v1h-1zM8 47h1v1h-1zM65 47h1v1h-1zM79 48h1v1h-1zM42 49h1v1h-1zM57 50h1v1h-1zM20 51h1v1h-1zM34 52h1v1h-1zM91 52h1v1h-1zM79 53h1v1h-1zM37 54h1v1h-1zM94 55h1v1h-1zM32 56h1v1h-1zM23 57h1v1h-1zM50 57h1v1h-1zM96 57h1v1h-1zM72 58h1v1h-1zM32 59h1v1h-1zM0 60h1v1h-1zM99 60h1v1h-1zM15 61h1v1h-1zM19 62h1v1h-1zM33 62h1v1h-1zM45 62h1v1h-1zM72 63h1v1h-1zM27 64h1v1h-1zM47 65h1v1h-1zM37 66h1v1h-1zM4 67h1v1h-1zM9 67h1v1h-1zM40 67h1v1h-1zM43 67h1v1h-1zM72 68h1v1h-1zM22 69h1v1h-1zM5 70h1v1h-1zM10 71h1v1h-1zM35 72h1v1h-1zM58 72h1v1h-1zM63 72h1v1h-1zM68 72h1v1h-1zM73 72h1v1h-1zM78 72h1v1h-1zM83 72h1v1h-1zM88 72h1v1h-1zM93 72h1v1h-1zM72 73h1v1h-1zM74 73h1v1h-1zM17 74h1v1h-1zM73 74h1v1h-1zM10 75h1v1h-1zM42 76h1v1h-1zM30 77h1v1h-1zM72 78h1v1h-1zM12 79h1v1h-1zM48 79h1v1h-1zM53 79h1v1h-1zM98 79h1v1h-1zM37 80h1v1h-1zM5 81h1v1h-1zM25 82h1v1h-1zM72 83h1v1h-1zM7 84h1v1h-1zM14 84h1v1h-1zM38 84h1v1h-1zM15 85h1v1h-1zM0 86h1v1h-1zM99 86h1v1h-1zM20 87h1v1h-1zM72 88h1v1h-1zM2 89h1v1h-1zM24 89h1v1h-1zM28 89h1v1h-1zM32 90h1v1h-1zM52 91h1v1h-1zM15 92h1v1h-1zM72 93h1v1h-1zM18 94h1v1h-1zM29 94h1v1h-1zM55 94h1v1h-1zM32 95h1v1h-1zM57 96h1v1h-1zM10 97h1v1h-1zM79 98h1v1h-1zM13 99h1v1h-1zM39 99h1v1h-1zM60 99h1v1h-1zM86 99h1v1h-1z"/>
<path fill="#00f7ff" d="M34 0h1v1h-1zM65 0h1v1h-1zM32 1h1v1h-1zM62 2h1v1h-1zM10 3h1v1h-1zM84 4h1v1h-1zM8 5h1v1h-1zM76 5h1v1h-1zM20 6h1v1h-1zM67 7h1v1h-1zM5 8h1v1h-1zM84 9h1v1h-1zM3 10h1v1h-1zM49 10h1v1h-1zM66 10h1v1h-1zM80 10h1v1h-1zM20 11h1v1h-1zM72 12h1v1h-1zM47 13h1v1h-1zM62 14h1v1h-1zM54 15h1v1h-1zM56 15h1v1h-1zM90 15h1v1h-1zM95 15h1v1h-1zM20 16h1v1h-1zM77 17h1v1h-1zM52 18h1v1h-1zM89 19h1v1h-1zM6 20h1v1h-1zM11 20h1v1h-1zM16 20h1v1h-1zM21 20h1v1h-1zM26 20h1v1h-1zM31 20h1v1h-1zM36 20h1v1h-1zM41 20h1v1h-1zM59 20h1v1h-1zM20 21h1v1h-1zM82 22h1v1h-1zM94 23h1v1h-1zM57 24h1v1h-1zM64 25h1v1h-1zM20 26h1v1h-1zM87 27h1v1h-1zM57 28h1v1h-1zM52 29h1v1h-1zM69 30h1v1h-1zM20 31h1v1h-1zM1 32h1v1h-1zM46 32h1v1h-1zM51 32h1v1h-1zM92 32h1v1h-1zM89 33h1v1h-1zM0 34h1v1h-1zM99 34h1v1h-1zM74 35h1v1h-1zM20 36h1v1h-1zM61 37h1v1h-1zM85 37h1v1h-1zM97 37h1v1h-1zM62 38h1v1h-1zM47 39h1v1h-1zM79 40h1v1h-1zM20 41h1v1h-1zM44 42h1v1h-1zM71 42h1v1h-1zM75 42h1v1h-1zM84 43h1v1h-1zM42 44h1v1h-1zM84 45h1v1h-1zM32 46h1v1h-1zM13 47h1v1h-1zM39 47h1v1h-1zM70 47h1v1h-1zM81 47h1v1h-1zM67 48h1v1h-1zM10 49h1v1h-1zM89 50h1v1h-1zM32 51h1v1h-1zM18 52h1v1h-1zM29 52h1v1h-1zM60 52h1v1h-1zM86 52h1v1h-1zM67 53h1v1h-1zM15 54h1v1h-1zM57 55h1v1h-1zM15 56h1v1h-1zM24 57h1v1h-1zM28 57h1v1h-1zM55 57h1v1h-1zM79 58h1v1h-1zM20 59h1v1h-1zM52 60h1v1h-1zM37 61h1v1h-1zM2 62h1v1h-1zM14 62h1v1h-1zM38 62h1v1h-1zM79 63h1v1h-1zM25 64h1v1h-1zM0 65h1v1h-1zM99 65h1v1h-1zM10 66h1v1h-1zM7 67h1v1h-1zM48 67h1v1h-1zM53 67h1v1h-1zM98 67h1v1h-1zM79 68h1v1h-1zM30 69h1v1h-1zM47 70h1v1h-1zM42 71h1v1h-1zM12 72h1v1h-1zM79 73h1v1h-1zM35 74h1v1h-1zM42 75h1v1h-1zM5 76h1v1h-1zM17 77h1v1h-1zM79 78h1v1h-1zM40 79h1v1h-1zM58 79h1v1h-1zM63 79h1v1h-1zM68 79h1v1h-1zM73 79h1v1h-1zM78 79h1v1h-1zM83 79h1v1h-1zM88 79h1v1h-1zM93 79h1v1h-1zM10 80h1v1h-1zM47 81h1v1h-1zM22 82h1v1h-1zM79 83h1v1h-1zM4 84h1v1h-1zM9 84h1v1h-1zM43 84h1v1h-1zM45 84h1v1h-1zM37 85h1v1h-1zM52 86h1v1h-1zM27 87h1v1h-1zM79 88h1v1h-1zM19 89h1v1h-1zM33 89h1v1h-1zM50 89h1v1h-1zM96 89h1v1h-1zM15 90h1v1h-1zM94 91h1v1h-1zM32 92h1v1h-1zM79 93h1v1h-1zM23 94h1v1h-1zM91 94h1v1h-1zM15 95h1v1h-1zM89 96h1v1h-1zM37 97h1v1h-1zM67 98h1v1h-1zM34 99h1v1h-1zM65 99h1v1h-1z"/>
<path fill="#08fff7" d="M18 0h1v1h-1zM29 0h1v1h-1zM70 0h1v1h-1zM81 0h1v1h-1zM15 1h1v1h-1zM84 2h1v1h-1zM37 3h1v1h-1zM62 4h1v1h-1zM13 5h1v1h-1zM39 5h1v1h-1zM71 5h1v1h-1zM75 5h1v1h-1zM32 6h1v1h-1zM79 7h1v1h-1zM42 8h1v1h-1zM62 9h1v1h-1zM44 10h1v1h-1zM61 10h1v1h-1zM85 10h1v1h-1zM32 11h1v1h-1zM74 12h1v1h-1zM5 13h1v1h-1zM89 14h1v1h-1zM1 15h1v1h-1zM46 15h1v1h-1zM51 15h1v1h-1zM97 15h1v1h-1zM32 16h1v1h-1zM69 17h1v1h-1zM0 18h1v1h-1zM99 18h1v1h-1zM57 19h1v1h-1zM92 20h1v1h-1zM32 21h1v1h-1zM64 22h1v1h-1zM52 23h1v1h-1zM94 24h1v1h-1zM87 25h1v1h-1zM32 26h1v1h-1zM59 27h1v1h-1zM94 28h1v1h-1zM0 29h1v1h-1zM99 29h1v1h-1zM82 30h1v1h-1zM32 31h1v1h-1zM6 32h1v1h-1zM11 32h1v1h-1zM16 32h1v1h-1zM21 32h1v1h-1zM26 32h1v1h-1zM31 32h1v1h-1zM36 32h1v1h-1zM41 32h1v1h-1zM54 32h1v1h-1zM57 33h1v1h-1zM47 34h1v1h-1zM77 35h1v1h-1zM32 36h1v1h-1zM3 37h1v1h-1zM49 37h1v1h-1zM56 37h1v1h-1zM90 37h1v1h-1zM95 37h1v1h-1zM89 38h1v1h-1zM5 39h1v1h-1zM72 40h1v1h-1zM32 41h1v1h-1zM8 42h1v1h-1zM66 42h1v1h-1zM80 42h1v1h-1zM62 43h1v1h-1zM10 44h1v1h-1zM67 45h1v1h-1zM15 46h1v1h-1zM34 47h1v1h-1zM76 47h1v1h-1zM84 48h1v1h-1zM37 49h1v1h-1zM62 50h1v1h-1zM15 51h1v1h-1zM23 52h1v1h-1zM65 52h1v1h-1zM84 53h1v1h-1zM32 54h1v1h-1zM89 55h1v1h-1zM37 56h1v1h-1zM19 57h1v1h-1zM33 57h1v1h-1zM91 57h1v1h-1zM67 58h1v1h-1zM27 59h1v1h-1zM94 60h1v1h-1zM10 61h1v1h-1zM4 62h1v1h-1zM9 62h1v1h-1zM43 62h1v1h-1zM50 62h1v1h-1zM96 62h1v1h-1zM67 63h1v1h-1zM22 64h1v1h-1zM52 65h1v1h-1zM42 66h1v1h-1zM45 67h1v1h-1zM58 67h1v1h-1zM63 67h1v1h-1zM68 67h1v1h-1zM73 67h1v1h-1zM78 67h1v1h-1zM83 67h1v1h-1zM88 67h1v1h-1zM93 67h1v1h-1zM67 68h1v1h-1zM17 69h1v1h-1zM0 70h1v1h-1zM99 70h1v1h-1zM5 71h1v1h-1zM40 72h1v1h-1zM67 73h1v1h-1zM12 74h1v1h-1zM5 75h1v1h-1zM47 76h1v1h-1zM35 77h1v1h-1zM67 78h1v1h-1zM7 79h1v1h-1zM42 80h1v1h-1zM0 81h1v1h-1zM99 81h1v1h-1zM30 82h1v1h-1zM67 83h1v1h-1zM2 84h1v1h-1zM48 84h1v1h-1zM53 84h1v1h-1zM98 84h1v1h-1zM10 85h1v1h-1zM94 86h1v1h-1zM25 87h1v1h-1zM67 88h1v1h-1zM14 89h1v1h-1zM38 89h1v1h-1zM55 89h1v1h-1zM37 90h1v1h-1zM57 91h1v1h-1zM20 92h1v1h-1zM67 93h1v1h-1zM24 94h1v1h-1zM28 94h1v1h-1zM60 94h1v1h-1zM86 94h1v1h-1zM37 95h1v1h-1zM62 96h1v1h-1zM15 97h1v1h-1zM84 98h1v1h-1zM18 99h1v1h-1zM29 99h1v1h-1zM70 99h1v1h-1zM81 99h1v1h-1z"/>
<path fill="#18ffe7" d="M23 0h1v1h-1zM76 0h1v1h-1zM37 1h1v1h-1zM67 2h1v1h-1zM15 3h1v1h-1zM89 4h1v1h-1zM34 5h1v1h-1zM66 5h1v1h-1zM80 5h1v1h-1zM15 6h1v1h-1zM72 7h1v1h-1zM10 8h1v1h-1zM89 9h1v1h-1zM8 10h1v1h-1zM56 10h1v1h-1zM90 10h1v1h-1zM95 10h1v1h-1zM15 11h1v1h-1zM77 12h1v1h-1zM42 13h1v1h-1zM57 14h1v1h-1zM3 15h1v1h-1zM6 15h1v1h-1zM11 15h1v1h-1zM16 15h1v1h-1zM21 15h1v1h-1zM26 15h1v1h-1zM31 15h1v1h-1zM36 15h1v1h-1zM41 15h1v1h-1zM49 15h1v1h-1zM15 16h1v1h-1zM82 17h1v1h-1zM47 18h1v1h-1zM94 19h1v1h-1zM54 20h1v1h-1zM15 21h1v1h-1zM87 22h1v1h-1zM0 23h1v1h-1zM99 23h1v1h-1zM52 24h1v1h-1zM59 25h1v1h-1zM15 26h1v1h-1zM92 27h1v1h-1zM52 28h1v1h-1zM47 29h1v1h-1zM64 30h1v1h-1zM15 31h1v1h-1zM97 32h1v1h-1zM94 33h1v1h-1zM5 34h1v1h-1zM69 35h1v1h-1zM15 36h1v1h-1zM1 37h1v1h-1zM44 37h1v1h-1zM46 37h1v1h-1zM51 37h1v1h-1zM57 38h1v1h-1zM42 39h1v1h-1zM74 40h1v1h-1zM15 41h1v1h-1zM13 42h1v1h-1zM39 42h1v1h-1zM61 42h1v1h-1zM85 42h1v1h-1zM89 43h1v1h-1zM37 44h1v1h-1zM79 45h1v1h-1zM37 46h1v1h-1zM18 47h1v1h-1zM29 47h1v1h-1zM71 47h1v1h-1zM75 47h1v1h-1zM62 48h1v1h-1zM15 49h1v1h-1zM84 50h1v1h-1zM37 51h1v1h-1zM24 52h1v1h-1zM28 52h1v1h-1zM70 52h1v1h-1zM81 52h1v1h-1zM62 53h1v1h-1zM20 54h1v1h-1zM62 55h1v1h-1zM10 56h1v1h-1zM14 57h1v1h-1zM38 57h1v1h-1zM60 57h1v1h-1zM86 57h1v1h-1zM84 58h1v1h-1zM25 59h1v1h-1zM57 60h1v1h-1zM42 61h1v1h-1zM48 62h1v1h-1zM53 62h1v1h-1zM55 62h1v1h-1zM98 62h1v1h-1zM84 63h1v1h-1zM30 64h1v1h-1zM94 65h1v1h-1zM5 66h1v1h-1zM2 67h1v1h-1zM84 68h1v1h-1zM35 69h1v1h-1zM52 70h1v1h-1zM47 71h1v1h-1zM7 72h1v1h-1zM84 73h1v1h-1zM40 74h1v1h-1zM47 75h1v1h-1zM0 76h1v1h-1zM99 76h1v1h-1zM12 77h1v1h-1zM84 78h1v1h-1zM45 79h1v1h-1zM5 80h1v1h-1zM52 81h1v1h-1zM17 82h1v1h-1zM84 83h1v1h-1zM50 84h1v1h-1zM58 84h1v1h-1zM63 84h1v1h-1zM68 84h1v1h-1zM73 84h1v1h-1zM78 84h1v1h-1zM83 84h1v1h-1zM88 84h1v1h-1zM93 84h1v1h-1zM96 84h1v1h-1zM42 85h1v1h-1zM57 86h1v1h-1zM22 87h1v1h-1zM84 88h1v1h-1zM4 89h1v1h-1zM9 89h1v1h-1zM43 89h1v1h-1zM91 89h1v1h-1zM10 90h1v1h-1zM89 91h1v1h-1zM27 92h1v1h-1zM84 93h1v1h-1zM19 94h1v1h-1zM33 94h1v1h-1zM65 94h1v1h-1zM10 95h1v1h-1zM84 96h1v1h-1zM32 97h1v1h-1zM62 98h1v1h-1zM23 99h1v1h-1zM76 99h1v1h-1z"/>
<path fill="#28ffd7" d="M24 0h1v1h-1zM28 0h1v1h-1zM71 0h1v1h-1zM75 0h1v1h-1zM10 1h1v1h-1zM79 2h1v1h-1zM32 3h1v1h-1zM57 4h1v1h-1zM18 5h1v1h-1zM29 5h1v1h-1zM61 5h1v1h-1zM85 5h1v1h-1zM37 6h1v1h-1zM74 7h1v1h-1zM37 8h1v1h-1zM57 9h1v1h-1zM1 10h1v1h-1zM13 10h1v1h-1zM39 10h1v1h-1zM46 10h1v1h-1zM51 10h1v1h-1zM37 11h1v1h-1zM69 12h1v1h-1zM10 13h1v1h-1zM94 14h1v1h-1zM44 15h1v1h-1zM37 16h1v1h-1zM64 17h1v1h-1zM5 18h1v1h-1zM52 19h1v1h-1zM97 20h1v1h-1zM37 21h1v1h-1zM59 22h1v1h-1zM47 23h1v1h-1zM0 24h1v1h-1zM99 24h1v1h-1zM92 25h1v1h-1zM37 26h1v1h-1zM54 27h1v1h-1zM0 28h1v1h-1zM99 28h1v1h-1zM5 29h1v1h-1zM87 30h1v1h-1zM37 31h1v1h-1zM3 32h1v1h-1zM49 32h1v1h-1zM52 33h1v1h-1zM42 34h1v1h-1zM82 35h1v1h-1zM37 36h1v1h-1zM6 37h1v1h-1zM8 37h1v1h-1zM11 37h1v1h-1zM16 37h1v1h-1zM21 37h1v1h-1zM26 37h1v1h-1zM31 37h1v1h-1zM36 37h1v1h-1zM41 37h1v1h-1zM94 38h1v1h-1zM10 39h1v1h-1zM77 40h1v1h-1zM37 41h1v1h-1zM34 42h1v1h-1zM56 42h1v1h-1zM90 42h1v1h-1zM95 42h1v1h-1zM57 43h1v1h-1zM15 44h1v1h-1zM72 45h1v1h-1zM10 46h1v1h-1zM23 47h1v1h-1zM66 47h1v1h-1zM80 47h1v1h-1zM89 48h1v1h-1zM32 49h1v1h-1zM67 50h1v1h-1zM10 51h1v1h-1zM19 52h1v1h-1zM33 52h1v1h-1zM76 52h1v1h-1zM89 53h1v1h-1zM27 54h1v1h-1zM84 55h1v1h-1zM42 56h1v1h-1zM4 57h1v1h-1zM9 57h1v1h-1zM43 57h1v1h-1zM65 57h1v1h-1zM62 58h1v1h-1zM22 59h1v1h-1zM89 60h1v1h-1zM5 61h1v1h-1zM58 62h1v1h-1zM63 62h1v1h-1zM68 62h1v1h-1zM73 62h1v1h-1zM78 62h1v1h-1zM83 62h1v1h-1zM88 62h1v1h-1zM91 62h1v1h-1zM93 62h1v1h-1zM62 63h1v1h-1zM17 64h1v1h-1zM57 65h1v1h-1zM47 66h1v1h-1zM50 67h1v1h-1zM96 67h1v1h-1zM62 68h1v1h-1zM12 69h1v1h-1zM94 70h1v1h-1zM0 71h1v1h-1zM99 71h1v1h-1zM45 72h1v1h-1zM62 73h1v1h-1zM7 74h1v1h-1zM0 75h1v1h-1zM99 75h1v1h-1zM52 76h1v1h-1zM40 77h1v1h-1zM62 78h1v1h-1zM2 79h1v1h-1zM47 80h1v1h-1zM94 81h1v1h-1zM35 82h1v1h-1zM62 83h1v1h-1zM55 84h1v1h-1zM5 85h1v1h-1zM89 86h1v1h-1zM30 87h1v1h-1zM62 88h1v1h-1zM48 89h1v1h-1zM53 89h1v1h-1zM60 89h1v1h-1zM86 89h1v1h-1zM98 89h1v1h-1zM42 90h1v1h-1zM62 91h1v1h-1zM25 92h1v1h-1zM62 93h1v1h-1zM14 94h1v1h-1zM38 94h1v1h-1zM70 94h1v1h-1zM81 94h1v1h-1zM42 95h1v1h-1zM67 96h1v1h-1zM20 97h1v1h-1zM89 98h1v1h-1zM24 99h1v1h-1zM28 99h1v1h-1zM71 99h1v1h-1zM75 99h1v1h-1z"/>
<path fill="#38ffc7" d="M19 0h1v1h-1zM33 0h1v1h-1zM66 0h1v1h-1zM80 0h1v1h-1zM42 1h1v1h-1zM72 2h1v1h-1zM20 3h1v1h-1zM94 4h1v1h-1zM23 5h1v1h-1zM56 5h1v1h-1zM90 5h1v1h-1zM95 5h1v1h-1zM10 6h1v1h-1zM77 7h1v1h-1zM15 8h1v1h-1zM94 9h1v1h-1zM6 10h1v1h-1zM11 10h1v1h-1zM16 10h1v1h-1zM21 10h1v1h-1zM26 10h1v1h-1zM31 10h1v1h-1zM34 10h1v1h-1zM36 10h1v1h-1zM41 10h1v1h-1zM10 11h1v1h-1zM82 12h1v1h-1zM37 13h1v1h-1zM52 14h1v1h-1zM8 15h1v1h-1zM10 16h1v1h-1zM87 17h1v1h-1zM42 18h1v1h-1zM0 19h1v1h-1zM99 19h1v1h-1zM3 20h1v1h-1zM49 20h1v1h-1zM10 21h1v1h-1zM92 22h1v1h-1zM5 23h1v1h-1zM47 24h1v1h-1zM54 25h1v1h-1zM10 26h1v1h-1zM49 27h1v1h-1zM97 27h1v1h-1zM47 28h1v1h-1zM42 29h1v1h-1zM59 30h1v1h-1zM10 31h1v1h-1zM44 32h1v1h-1zM0 33h1v1h-1zM99 33h1v1h-1zM10 34h1v1h-1zM64 35h1v1h-1zM10 36h1v1h-1zM13 37h1v1h-1zM39 37h1v1h-1zM52 38h1v1h-1zM37 39h1v1h-1zM69 40h1v1h-1zM10 41h1v1h-1zM1 42h1v1h-1zM18 42h1v1h-1zM29 42h1v1h-1zM46 42h1v1h-1zM51 42h1v1h-1zM94 43h1v1h-1zM32 44h1v1h-1zM74 45h1v1h-1zM42 46h1v1h-1zM24 47h1v1h-1zM28 47h1v1h-1zM61 47h1v1h-1zM85 47h1v1h-1zM57 48h1v1h-1zM20 49h1v1h-1zM27 49h1v1h-1zM72 50h1v1h-1zM79 50h1v1h-1zM42 51h1v1h-1zM14 52h1v1h-1zM38 52h1v1h-1zM71 52h1v1h-1zM75 52h1v1h-1zM57 53h1v1h-1zM25 54h1v1h-1zM67 55h1v1h-1zM5 56h1v1h-1zM48 57h1v1h-1zM53 57h1v1h-1zM70 57h1v1h-1zM81 57h1v1h-1zM98 57h1v1h-1zM89 58h1v1h-1zM30 59h1v1h-1zM62 60h1v1h-1zM47 61h1v1h-1zM60 62h1v1h-1zM86 62h1v1h-1zM89 63h1v1h-1zM35 64h1v1h-1zM89 65h1v1h-1zM0 66h1v1h-1zM99 66h1v1h-1zM55 67h1v1h-1zM89 68h1v1h-1zM40 69h1v1h-1zM57 70h1v1h-1zM52 71h1v1h-1zM2 72h1v1h-1zM50 72h1v1h-1zM89 73h1v1h-1zM45 74h1v1h-1zM52 75h1v1h-1zM94 76h1v1h-1zM7 77h1v1h-1zM89 78h1v1h-1zM50 79h1v1h-1zM96 79h1v1h-1zM0 80h1v1h-1zM99 80h1v1h-1zM57 81h1v1h-1zM12 82h1v1h-1zM89 83h1v1h-1zM91 84h1v1h-1zM47 85h1v1h-1zM62 86h1v1h-1zM17 87h1v1h-1zM89 88h1v1h-1zM58 89h1v1h-1zM63 89h1v1h-1zM65 89h1v1h-1zM68 89h1v1h-1zM73 89h1v1h-1zM78 89h1v1h-1zM83 89h1v1h-1zM88 89h1v1h-1zM93 89h1v1h-1zM5 90h1v1h-1zM84 91h1v1h-1zM22 92h1v1h-1zM89 93h1v1h-1zM4 94h1v1h-1zM9 94h1v1h-1zM43 94h1v1h-1zM76 94h1v1h-1zM5 95h1v1h-1zM79 96h1v1h-1zM27 97h1v1h-1zM57 98h1v1h-1zM19 99h1v1h-1zM33 99h1v1h-1zM66 99h1v1h-1zM80 99h1v1h-1z"/>
<path fill="#48ffb7" d="M14 0h1v1h-1zM38 0h1v1h-1zM61 0h1v1h-1zM85 0h1v1h-1zM5 1h1v1h-1zM74 2h1v1h-1zM27 3h1v1h-1zM52 4h1v1h-1zM1 5h1v1h-1zM24 5h1v1h-1zM28 5h1v1h-1zM46 5h1v1h-1zM51 5h1v1h-1zM42 6h1v1h-1zM69 7h1v1h-1zM32 8h1v1h-1zM52 9h1v1h-1zM18 10h1v1h-1zM29 10h1v1h-1zM42 11h1v1h-1zM64 12h1v1h-1zM15 13h1v1h-1zM0 14h1v1h-1zM99 14h1v1h-1zM13 15h1v1h-1zM39 15h1v1h-1zM42 16h1v1h-1zM59 17h1v1h-1zM10 18h1v1h-1zM47 19h1v1h-1zM44 20h1v1h-1zM42 21h1v1h-1zM54 22h1v1h-1zM42 23h1v1h-1zM5 24h1v1h-1zM49 25h1v1h-1zM97 25h1v1h-1zM42 26h1v1h-1zM3 27h1v1h-1zM5 28h1v1h-1zM10 29h1v1h-1zM92 30h1v1h-1zM42 31h1v1h-1zM8 32h1v1h-1zM47 33h1v1h-1zM37 34h1v1h-1zM87 35h1v1h-1zM42 36h1v1h-1zM34 37h1v1h-1zM0 38h1v1h-1zM99 38h1v1h-1zM15 39h1v1h-1zM82 40h1v1h-1zM42 41h1v1h-1zM6 42h1v1h-1zM11 42h1v1h-1zM16 42h1v1h-1zM21 42h1v1h-1zM23 42h1v1h-1zM26 42h1v1h-1zM31 42h1v1h-1zM36 42h1v1h-1zM41 42h1v1h-1zM52 43h1v1h-1zM20 44h1v1h-1zM77 45h1v1h-1zM5 46h1v1h-1zM19 47h1v1h-1zM33 47h1v1h-1zM56 47h1v1h-1zM90 47h1v1h-1zM95 47h1v1h-1zM94 48h1v1h-1zM25 49h1v1h-1zM74 50h1v1h-1zM5 51h1v1h-1zM4 52h1v1h-1zM9 52h1v1h-1zM43 52h1v1h-1zM66 52h1v1h-1zM80 52h1v1h-1zM94 53h1v1h-1zM22 54h1v1h-1zM79 55h1v1h-1zM47 56h1v1h-1zM58 57h1v1h-1zM63 57h1v1h-1zM68 57h1v1h-1zM73 57h1v1h-1zM76 57h1v1h-1zM78 57h1v1h-1zM83 57h1v1h-1zM88 57h1v1h-1zM93 57h1v1h-1zM57 58h1v1h-1zM17 59h1v1h-1zM84 60h1v1h-1zM0 61h1v1h-1zM99 61h1v1h-1zM65 62h1v1h-1zM57 63h1v1h-1zM12 64h1v1h-1zM62 65h1v1h-1zM52 66h1v1h-1zM91 67h1v1h-1zM57 68h1v1h-1zM7 69h1v1h-1zM89 70h1v1h-1zM94 71h1v1h-1zM96 72h1v1h-1zM57 73h1v1h-1zM2 74h1v1h-1zM50 74h1v1h-1zM94 75h1v1h-1zM57 76h1v1h-1zM45 77h1v1h-1zM57 78h1v1h-1zM55 79h1v1h-1zM52 80h1v1h-1zM89 81h1v1h-1zM40 82h1v1h-1zM57 83h1v1h-1zM60 84h1v1h-1zM86 84h1v1h-1zM0 85h1v1h-1zM99 85h1v1h-1zM84 86h1v1h-1zM35 87h1v1h-1zM57 88h1v1h-1zM70 89h1v1h-1zM81 89h1v1h-1zM47 90h1v1h-1zM67 91h1v1h-1zM30 92h1v1h-1zM57 93h1v1h-1zM48 94h1v1h-1zM53 94h1v1h-1zM71 94h1v1h-1zM75 94h1v1h-1zM98 94h1v1h-1zM47 95h1v1h-1zM72 96h1v1h-1zM25 97h1v1h-1zM94 98h1v1h-1zM14 99h1v1h-1zM38 99h1v1h-1zM61 99h1v1h-1zM85 99h1v1h-1z"/>
<path fill="#58ffa7" d="M4 0h1v1h-1zM9 0h1v1h-1zM43 0h1v1h-1zM56 0h1v1h-1zM90 0h1v1h-1zM95 0h1v1h-1zM47 1h1v1h-1zM77 2h1v1h-1zM25 3h1v1h-1zM0 4h1v1h-1zM99 4h1v1h-1zM6 5h1v1h-1zM11 5h1v1h-1zM16 5h1v1h-1zM19 5h1v1h-1zM21 5h1v1h-1zM26 5h1v1h-1zM31 5h1v1h-1zM33 5h1v1h-1zM36 5h1v1h-1zM41 5h1v1h-1zM5 6h1v1h-1zM82 7h1v1h-1zM20 8h1v1h-1zM0 9h1v1h-1zM99 9h1v1h-1zM23 10h1v1h-1zM5 11h1v1h-1zM87 12h1v1h-1zM32 13h1v1h-1zM47 14h1v1h-1zM34 15h1v1h-1zM5 16h1v1h-1zM92 17h1v1h-1zM37 18h1v1h-1zM5 19h1v1h-1zM8 20h1v1h-1zM5 21h1v1h-1zM49 22h1v1h-1zM97 22h1v1h-1zM10 23h1v1h-1zM42 24h1v1h-1zM3 25h1v1h-1zM5 26h1v1h-1zM44 27h1v1h-1zM42 28h1v1h-1zM37 29h1v1h-1zM54 30h1v1h-1zM5 31h1v1h-1zM13 32h1v1h-1zM39 32h1v1h-1zM5 33h1v1h-1zM15 34h1v1h-1zM59 35h1v1h-1zM5 36h1v1h-1zM18 37h1v1h-1zM29 37h1v1h-1zM47 38h1v1h-1zM32 39h1v1h-1zM64 40h1v1h-1zM5 41h1v1h-1zM24 42h1v1h-1zM28 42h1v1h-1zM0 43h1v1h-1zM99 43h1v1h-1zM27 44h1v1h-1zM69 45h1v1h-1zM47 46h1v1h-1zM1 47h1v1h-1zM14 47h1v1h-1zM38 47h1v1h-1zM46 47h1v1h-1zM51 47h1v1h-1zM52 48h1v1h-1zM22 49h1v1h-1zM77 50h1v1h-1zM47 51h1v1h-1zM48 52h1v1h-1zM53 52h1v1h-1zM61 52h1v1h-1zM85 52h1v1h-1zM98 52h1v1h-1zM52 53h1v1h-1zM30 54h1v1h-1zM72 55h1v1h-1zM0 56h1v1h-1zM99 56h1v1h-1zM71 57h1v1h-1zM75 57h1v1h-1zM94 58h1v1h-1zM35 59h1v1h-1zM67 60h1v1h-1zM52 61h1v1h-1zM70 62h1v1h-1zM81 62h1v1h-1zM94 63h1v1h-1zM40 64h1v1h-1zM84 65h1v1h-1zM94 66h1v1h-1zM60 67h1v1h-1zM86 67h1v1h-1zM94 68h1v1h-1zM45 69h1v1h-1zM62 70h1v1h-1zM57 71h1v1h-1zM55 72h1v1h-1zM94 73h1v1h-1zM96 74h1v1h-1zM57 75h1v1h-1zM89 76h1v1h-1zM2 77h1v1h-1zM50 77h1v1h-1zM94 78h1v1h-1zM91 79h1v1h-1zM94 80h1v1h-1zM62 81h1v1h-1zM7 82h1v1h-1zM94 83h1v1h-1zM65 84h1v1h-1zM52 85h1v1h-1zM67 86h1v1h-1zM12 87h1v1h-1zM94 88h1v1h-1zM76 89h1v1h-1zM0 90h1v1h-1zM99 90h1v1h-1zM79 91h1v1h-1zM17 92h1v1h-1zM94 93h1v1h-1zM58 94h1v1h-1zM63 94h1v1h-1zM66 94h1v1h-1zM68 94h1v1h-1zM73 94h1v1h-1zM78 94h1v1h-1zM80 94h1v1h-1zM83 94h1v1h-1zM88 94h1v1h-1zM93 94h1v1h-1zM0 95h1v1h-1zM99 95h1v1h-1zM74 96h1v1h-1zM22 97h1v1h-1zM52 98h1v1h-1zM4 99h1v1h-1zM9 99h1v1h-1zM43 99h1v1h-1zM56 99h1v1h-1zM90 99h1v1h-1zM95 99h1v1h-1z"/>
<path fill="#68ff97" d="M1 0h1v1h-1zM46 0h1v1h-1zM48 0h1v1h-1zM51 0h1v1h-1zM53 0h1v1h-1zM98 0h1v1h-1zM0 1h1v1h-1zM99 1h1v1h-1zM69 2h1v1h-1zM82 2h1v1h-1zM22 3h1v1h-1zM47 4h1v1h-1zM14 5h1v1h-1zM38 5h1v1h-1zM47 6h1v1h-1zM64 7h1v1h-1zM27 8h1v1h-1zM47 9h1v1h-1zM24 10h1v1h-1zM28 10h1v1h-1zM47 11h1v1h-1zM59 12h1v1h-1zM20 13h1v1h-1zM5 14h1v1h-1zM18 15h1v1h-1zM29 15h1v1h-1zM47 16h1v1h-1zM54 17h1v1h-1zM97 17h1v1h-1zM15 18h1v1h-1zM42 19h1v1h-1zM13 20h1v1h-1zM39 20h1v1h-1zM47 21h1v1h-1zM3 22h1v1h-1zM37 23h1v1h-1zM10 24h1v1h-1zM44 25h1v1h-1zM47 26h1v1h-1zM8 27h1v1h-1zM10 28h1v1h-1zM15 29h1v1h-1zM49 30h1v1h-1zM97 30h1v1h-1zM47 31h1v1h-1zM34 32h1v1h-1zM42 33h1v1h-1zM32 34h1v1h-1zM92 35h1v1h-1zM47 36h1v1h-1zM23 37h1v1h-1zM5 38h1v1h-1zM20 39h1v1h-1zM87 40h1v1h-1zM47 41h1v1h-1zM19 42h1v1h-1zM33 42h1v1h-1zM47 43h1v1h-1zM25 44h1v1h-1zM82 45h1v1h-1zM0 46h1v1h-1zM99 46h1v1h-1zM4 47h1v1h-1zM6 47h1v1h-1zM9 47h1v1h-1zM11 47h1v1h-1zM16 47h1v1h-1zM21 47h1v1h-1zM26 47h1v1h-1zM31 47h1v1h-1zM36 47h1v1h-1zM41 47h1v1h-1zM43 47h1v1h-1zM0 48h1v1h-1zM99 48h1v1h-1zM30 49h1v1h-1zM69 50h1v1h-1zM0 51h1v1h-1zM99 51h1v1h-1zM56 52h1v1h-1zM58 52h1v1h-1zM63 52h1v1h-1zM68 52h1v1h-1zM73 52h1v1h-1zM78 52h1v1h-1zM83 52h1v1h-1zM88 52h1v1h-1zM90 52h1v1h-1zM93 52h1v1h-1zM95 52h1v1h-1zM0 53h1v1h-1zM99 53h1v1h-1zM17 54h1v1h-1zM74 55h1v1h-1zM52 56h1v1h-1zM66 57h1v1h-1zM80 57h1v1h-1zM52 58h1v1h-1zM12 59h1v1h-1zM79 60h1v1h-1zM94 61h1v1h-1zM76 62h1v1h-1zM52 63h1v1h-1zM7 64h1v1h-1zM67 65h1v1h-1zM57 66h1v1h-1zM65 67h1v1h-1zM52 68h1v1h-1zM2 69h1v1h-1zM50 69h1v1h-1zM84 70h1v1h-1zM89 71h1v1h-1zM91 72h1v1h-1zM52 73h1v1h-1zM55 74h1v1h-1zM89 75h1v1h-1zM62 76h1v1h-1zM96 77h1v1h-1zM52 78h1v1h-1zM60 79h1v1h-1zM86 79h1v1h-1zM57 80h1v1h-1zM84 81h1v1h-1zM2 82h1v1h-1zM45 82h1v1h-1zM52 83h1v1h-1zM70 84h1v1h-1zM81 84h1v1h-1zM94 85h1v1h-1zM79 86h1v1h-1zM40 87h1v1h-1zM52 88h1v1h-1zM71 89h1v1h-1zM75 89h1v1h-1zM52 90h1v1h-1zM72 91h1v1h-1zM35 92h1v1h-1zM52 93h1v1h-1zM61 94h1v1h-1zM85 94h1v1h-1zM52 95h1v1h-1zM77 96h1v1h-1zM17 97h1v1h-1zM30 97h1v1h-1zM0 98h1v1h-1zM99 98h1v1h-1zM1 99h1v1h-1zM46 99h1v1h-1zM48 99h1v1h-1zM51 99h1v1h-1zM53 99h1v1h-1zM98 99h1v1h-1z"/>
<path fill="#78ff87" d="M6 0h1v1h-1zM11 0h1v1h-1zM16 0h1v1h-1zM21 0h1v1h-1zM26 0h1v1h-1zM31 0h1v1h-1zM36 0h1v1h-1zM41 0h1v1h-1zM58 0h1v1h-1zM63 0h1v1h-1zM68 0h1v1h-1zM73 0h1v1h-1zM78 0h1v1h-1zM83 0h1v1h-1zM88 0h1v1h-1zM93 0h1v1h-1zM52 1h1v1h-1zM64 2h1v1h-1zM30 3h1v1h-1zM5 4h1v1h-1zM4 5h1v1h-1zM9 5h1v1h-1zM43 5h1v1h-1zM0 6h1v1h-1zM99 6h1v1h-1zM59 7h1v1h-1zM87 7h1v1h-1zM25 8h1v1h-1zM5 9h1v1h-1zM19 10h1v1h-1zM33 10h1v1h-1zM0 11h1v1h-1zM99 11h1v1h-1zM54 12h1v1h-1zM92 12h1v1h-1zM27 13h1v1h-1zM42 14h1v1h-1zM23 15h1v1h-1zM0 16h1v1h-1zM99 16h1v1h-1zM49 17h1v1h-1zM32 18h1v1h-1zM10 19h1v1h-1zM34 20h1v1h-1zM0 21h1v1h-1zM99 21h1v1h-1zM44 22h1v1h-1zM15 23h1v1h-1zM37 24h1v1h-1zM8 25h1v1h-1zM0 26h1v1h-1zM99 26h1v1h-1zM13 27h1v1h-1zM39 27h1v1h-1zM37 28h1v1h-1zM32 29h1v1h-1zM3 30h1v1h-1zM0 31h1v1h-1zM99 31h1v1h-1zM18 32h1v1h-1zM29 32h1v1h-1zM10 33h1v1h-1zM20 34h1v1h-1zM54 35h1v1h-1zM97 35h1v1h-1zM0 36h1v1h-1zM99 36h1v1h-1zM24 37h1v1h-1zM28 37h1v1h-1zM42 38h1v1h-1zM27 39h1v1h-1zM59 40h1v1h-1zM92 40h1v1h-1zM0 41h1v1h-1zM99 41h1v1h-1zM14 42h1v1h-1zM38 42h1v1h-1zM5 43h1v1h-1zM22 44h1v1h-1zM64 45h1v1h-1zM87 45h1v1h-1zM52 46h1v1h-1zM48 47h1v1h-1zM53 47h1v1h-1zM98 47h1v1h-1zM47 48h1v1h-1zM17 49h1v1h-1zM82 50h1v1h-1zM52 51h1v1h-1zM1 52h1v1h-1zM46 52h1v1h-1zM51 52h1v1h-1zM47 53h1v1h-1zM12 54h1v1h-1zM35 54h1v1h-1zM77 55h1v1h-1zM94 56h1v1h-1zM61 57h1v1h-1zM85 57h1v1h-1zM0 58h1v1h-1zM99 58h1v1h-1zM7 59h1v1h-1zM40 59h1v1h-1zM72 60h1v1h-1zM57 61h1v1h-1zM71 62h1v1h-1zM75 62h1v1h-1zM0 63h1v1h-1zM99 63h1v1h-1zM2 64h1v1h-1zM45 64h1v1h-1zM79 65h1v1h-1zM89 66h1v1h-1zM70 67h1v1h-1zM81 67h1v1h-1zM0 68h1v1h-1zM99 68h1v1h-1zM96 69h1v1h-1zM67 70h1v1h-1zM62 71h1v1h-1zM60 72h1v1h-1zM86 72h1v1h-1zM0 73h1v1h-1zM99 73h1v1h-1zM91 74h1v1h-1zM62 75h1v1h-1zM84 76h1v1h-1zM55 77h1v1h-1zM0 78h1v1h-1zM99 78h1v1h-1zM65 79h1v1h-1zM89 80h1v1h-1zM67 81h1v1h-1zM50 82h1v1h-1zM0 83h1v1h-1zM99 83h1v1h-1zM76 84h1v1h-1zM57 85h1v1h-1zM72 86h1v1h-1zM7 87h1v1h-1zM45 87h1v1h-1zM0 88h1v1h-1zM99 88h1v1h-1zM66 89h1v1h-1zM80 89h1v1h-1zM94 90h1v1h-1zM74 91h1v1h-1zM12 92h1v1h-1zM40 92h1v1h-1zM0 93h1v1h-1zM99 93h1v1h-1zM56 94h1v1h-1zM90 94h1v1h-1zM95 94h1v1h-1zM94 95h1v1h-1zM69 96h1v1h-1zM35 97h1v1h-1zM47 98h1v1h-1zM6 99h1v1h-1zM11 99h1v1h-1zM16 99h1v1h-1zM21 99h1v1h-1zM26 99h1v1h-1zM31 99h1v1h-1zM36 99h1v1h-1zM41 99h1v1h-1zM58 99h1v1h-1zM63 99h1v1h-1zM68 99h1v1h-1zM73 99h1v1h-1zM78 99h1v1h-1zM83 99h1v1h-1zM88 99h1v1h-1zM93 99h1v1h-1z"/>
<path fill="#87ff78" d="M94 1h1v1h-1zM87 2h1v1h-1zM17 3h1v1h-1zM42 4h1v1h-1zM48 5h1v1h-1zM53 5h1v1h-1zM98 5h1v1h-1zM52 6h1v1h-1zM92 7h1v1h-1zM22 8h1v1h-1zM42 9h1v1h-1zM14 10h1v1h-1zM38 10h1v1h-1zM52 11h1v1h-1zM97 12h1v1h-1zM25 13h1v1h-1zM10 14h1v1h-1zM24 15h1v1h-1zM28 15h1v1h-1zM52 16h1v1h-1zM3 17h1v1h-1zM20 18h1v1h-1zM37 19h1v1h-1zM18 20h1v1h-1zM29 20h1v1h-1zM52 21h1v1h-1zM8 22h1v1h-1zM32 23h1v1h-1zM15 24h1v1h-1zM13 25h1v1h-1zM39 25h1v1h-1zM34 27h1v1h-1zM15 28h1v1h-1zM20 29h1v1h-1zM44 30h1v1h-1zM52 31h1v1h-1zM23 32h1v1h-1zM37 33h1v1h-1zM27 34h1v1h-1zM49 35h1v1h-1zM52 36h1v1h-1zM19 37h1v1h-1zM33 37h1v1h-1zM10 38h1v1h-1zM25 39h1v1h-1zM54 40h1v1h-1zM52 41h1v1h-1zM4 42h1v1h-1zM9 42h1v1h-1zM43 42h1v1h-1zM42 43h1v1h-1zM30 44h1v1h-1zM59 45h1v1h-1zM94 46h1v1h-1zM58 47h1v1h-1zM63 47h1v1h-1zM68 47h1v1h-1zM78 47h1v1h-1zM83 47h1v1h-1zM88 47h1v1h-1zM93 47h1v1h-1zM5 48h1v1h-1zM35 49h1v1h-1zM64 50h1v1h-1zM94 51h1v1h-1zM6 52h1v1h-1zM11 52h1v1h-1zM16 52h1v1h-1zM21 52h1v1h-1zM31 52h1v1h-1zM36 52h1v1h-1zM41 52h1v1h-1zM5 53h1v1h-1zM40 54h1v1h-1zM69 55h1v1h-1zM57 56h1v1h-1zM56 57h1v1h-1zM90 57h1v1h-1zM95 57h1v1h-1zM47 58h1v1h-1zM45 59h1v1h-1zM74 60h1v1h-1zM89 61h1v1h-1zM66 62h1v1h-1zM80 62h1v1h-1zM47 63h1v1h-1zM50 64h1v1h-1zM72 65h1v1h-1zM62 66h1v1h-1zM76 67h1v1h-1zM47 68h1v1h-1zM55 69h1v1h-1zM79 70h1v1h-1zM84 71h1v1h-1zM65 72h1v1h-1zM60 74h1v1h-1zM86 74h1v1h-1zM84 75h1v1h-1zM67 76h1v1h-1zM91 77h1v1h-1zM47 78h1v1h-1zM70 79h1v1h-1zM81 79h1v1h-1zM62 80h1v1h-1zM79 81h1v1h-1zM96 82h1v1h-1zM47 83h1v1h-1zM71 84h1v1h-1zM75 84h1v1h-1zM89 85h1v1h-1zM74 86h1v1h-1zM2 87h1v1h-1zM47 88h1v1h-1zM61 89h1v1h-1zM85 89h1v1h-1zM57 90h1v1h-1zM77 91h1v1h-1zM7 92h1v1h-1zM47 93h1v1h-1zM1 94h1v1h-1zM46 94h1v1h-1zM51 94h1v1h-1zM57 95h1v1h-1zM82 96h1v1h-1zM12 97h1v1h-1zM5 98h1v1h-1z"/>
<path fill="#97ff68" d="M57 1h1v1h-1zM59 2h1v1h-1zM35 3h1v1h-1zM10 4h1v1h-1zM58 5h1v1h-1zM63 5h1v1h-1zM68 5h1v1h-1zM78 5h1v1h-1zM83 5h1v1h-1zM88 5h1v1h-1zM93 5h1v1h-1zM94 6h1v1h-1zM54 7h1v1h-1zM30 8h1v1h-1zM10 9h1v1h-1zM4 10h1v1h-1zM9 10h1v1h-1zM43 10h1v1h-1zM94 11h1v1h-1zM49 12h1v1h-1zM22 13h1v1h-1zM37 14h1v1h-1zM19 15h1v1h-1zM33 15h1v1h-1zM94 16h1v1h-1zM44 17h1v1h-1zM27 18h1v1h-1zM15 19h1v1h-1zM23 20h1v1h-1zM94 21h1v1h-1zM13 22h1v1h-1zM39 22h1v1h-1zM20 23h1v1h-1zM32 24h1v1h-1zM34 25h1v1h-1zM52 26h1v1h-1zM18 27h1v1h-1zM29 27h1v1h-1zM32 28h1v1h-1zM27 29h1v1h-1zM8 30h1v1h-1zM39 30h1v1h-1zM94 31h1v1h-1zM24 32h1v1h-1zM28 32h1v1h-1zM15 33h1v1h-1zM25 34h1v1h-1zM3 35h1v1h-1zM94 36h1v1h-1zM14 37h1v1h-1zM38 37h1v1h-1zM37 38h1v1h-1zM22 39h1v1h-1zM30 39h1v1h-1zM97 40h1v1h-1zM94 41h1v1h-1zM48 42h1v1h-1zM53 42h1v1h-1zM98 42h1v1h-1zM10 43h1v1h-1zM17 44h1v1h-1zM92 45h1v1h-1zM57 46h1v1h-1zM73 47h1v1h-1zM42 48h1v1h-1zM12 49h1v1h-1zM87 50h1v1h-1zM57 51h1v1h-1zM26 52h1v1h-1zM42 53h1v1h-1zM7 54h1v1h-1zM82 55h1v1h-1zM89 56h1v1h-1zM1 57h1v1h-1zM46 57h1v1h-1zM51 57h1v1h-1zM5 58h1v1h-1zM2 59h1v1h-1zM69 60h1v1h-1zM77 60h1v1h-1zM62 61h1v1h-1zM61 62h1v1h-1zM85 62h1v1h-1zM5 63h1v1h-1zM96 64h1v1h-1zM74 65h1v1h-1zM84 66h1v1h-1zM71 67h1v1h-1zM75 67h1v1h-1zM5 68h1v1h-1zM60 69h1v1h-1zM91 69h1v1h-1zM72 70h1v1h-1zM67 71h1v1h-1zM70 72h1v1h-1zM81 72h1v1h-1zM47 73h1v1h-1zM65 74h1v1h-1zM67 75h1v1h-1zM79 76h1v1h-1zM60 77h1v1h-1zM86 77h1v1h-1zM5 78h1v1h-1zM76 79h1v1h-1zM84 80h1v1h-1zM72 81h1v1h-1zM55 82h1v1h-1zM5 83h1v1h-1zM66 84h1v1h-1zM80 84h1v1h-1zM62 85h1v1h-1zM77 86h1v1h-1zM50 87h1v1h-1zM5 88h1v1h-1zM56 89h1v1h-1zM90 89h1v1h-1zM95 89h1v1h-1zM89 90h1v1h-1zM69 91h1v1h-1zM45 92h1v1h-1zM5 93h1v1h-1zM6 94h1v1h-1zM11 94h1v1h-1zM16 94h1v1h-1zM21 94h1v1h-1zM31 94h1v1h-1zM36 94h1v1h-1zM41 94h1v1h-1zM89 95h1v1h-1zM64 96h1v1h-1zM40 97h1v1h-1zM42 98h1v1h-1z"/>
<path fill="#a7ff58" d="M89 1h1v1h-1zM92 2h1v1h-1zM12 3h1v1h-1zM37 4h1v1h-1zM73 5h1v1h-1zM57 6h1v1h-1zM97 7h1v1h-1zM17 8h1v1h-1zM37 9h1v1h-1zM48 10h1v1h-1zM53 10h1v1h-1zM98 10h1v1h-1zM57 11h1v1h-1zM3 12h1v1h-1zM30 13h1v1h-1zM15 14h1v1h-1zM14 15h1v1h-1zM38 15h1v1h-1zM57 16h1v1h-1zM8 17h1v1h-1zM39 17h1v1h-1zM25 18h1v1h-1zM32 19h1v1h-1zM24 20h1v1h-1zM28 20h1v1h-1zM34 22h1v1h-1zM27 23h1v1h-1zM20 24h1v1h-1zM18 25h1v1h-1zM29 25h1v1h-1zM94 26h1v1h-1zM23 27h1v1h-1zM20 28h1v1h-1zM25 29h1v1h-1zM13 30h1v1h-1zM57 31h1v1h-1zM19 32h1v1h-1zM33 32h1v1h-1zM32 33h1v1h-1zM22 34h1v1h-1zM44 35h1v1h-1zM57 36h1v1h-1zM4 37h1v1h-1zM9 37h1v1h-1zM43 37h1v1h-1zM15 38h1v1h-1zM17 39h1v1h-1zM49 40h1v1h-1zM57 41h1v1h-1zM58 42h1v1h-1zM63 42h1v1h-1zM68 42h1v1h-1zM83 42h1v1h-1zM88 42h1v1h-1zM93 42h1v1h-1zM37 43h1v1h-1zM35 44h1v1h-1zM54 45h1v1h-1zM89 46h1v1h-1zM10 48h1v1h-1zM40 49h1v1h-1zM59 50h1v1h-1zM89 51h1v1h-1zM10 53h1v1h-1zM45 54h1v1h-1zM64 55h1v1h-1zM62 56h1v1h-1zM6 57h1v1h-1zM11 57h1v1h-1zM16 57h1v1h-1zM31 57h1v1h-1zM36 57h1v1h-1zM41 57h1v1h-1zM42 58h1v1h-1zM50 59h1v1h-1zM82 60h1v1h-1zM84 61h1v1h-1zM56 62h1v1h-1zM90 62h1v1h-1zM95 62h1v1h-1zM42 63h1v1h-1zM55 64h1v1h-1zM77 65h1v1h-1zM67 66h1v1h-1zM66 67h1v1h-1zM80 67h1v1h-1zM42 68h1v1h-1zM86 69h1v1h-1zM74 70h1v1h-1zM79 71h1v1h-1zM76 72h1v1h-1zM5 73h1v1h-1zM70 74h1v1h-1zM81 74h1v1h-1zM79 75h1v1h-1zM72 76h1v1h-1zM65 77h1v1h-1zM71 79h1v1h-1zM75 79h1v1h-1zM67 80h1v1h-1zM74 81h1v1h-1zM60 82h1v1h-1zM91 82h1v1h-1zM42 83h1v1h-1zM61 84h1v1h-1zM85 84h1v1h-1zM84 85h1v1h-1zM69 86h1v1h-1zM96 87h1v1h-1zM42 88h1v1h-1zM1 89h1v1h-1zM46 89h1v1h-1zM51 89h1v1h-1zM62 90h1v1h-1zM82 91h1v1h-1zM2 92h1v1h-1zM42 93h1v1h-1zM26 94h1v1h-1zM62 95h1v1h-1zM87 96h1v1h-1zM7 97h1v1h-1zM10 98h1v1h-1z"/>
<path fill="#b7ff48" d="M62 1h1v1h-1zM54 2h1v1h-1zM40 3h1v1h-1zM15 4h1v1h-1zM89 6h1v1h-1zM49 7h1v1h-1zM12 8h1v1h-1zM35 8h1v1h-1zM15 9h1v1h-1zM58 10h1v1h-1zM63 10h1v1h-1zM68 10h1v1h-1zM83 10h1v1h-1zM88 10h1v1h-1zM93 10h1v1h-1zM89 11h1v1h-1zM8 12h1v1h-1zM44 12h1v1h-1zM17 13h1v1h-1zM32 14h1v1h-1zM4 15h1v1h-1zM9 15h1v1h-1zM43 15h1v1h-1zM89 16h1v1h-1zM13 17h1v1h-1zM22 18h1v1h-1zM20 19h1v1h-1zM19 20h1v1h-1zM33 20h1v1h-1zM57 21h1v1h-1zM18 22h1v1h-1zM29 22h1v1h-1zM25 23h1v1h-1zM27 24h1v1h-1zM23 25h1v1h-1zM57 26h1v1h-1zM24 27h1v1h-1zM28 27h1v1h-1zM27 28h1v1h-1zM22 29h1v1h-1zM34 30h1v1h-1zM89 31h1v1h-1zM14 32h1v1h-1zM38 32h1v1h-1zM20 33h1v1h-1zM30 34h1v1h-1zM8 35h1v1h-1zM39 35h1v1h-1zM89 36h1v1h-1zM48 37h1v1h-1zM53 37h1v1h-1zM98 37h1v1h-1zM32 38h1v1h-1zM35 39h1v1h-1zM3 40h1v1h-1zM89 41h1v1h-1zM73 42h1v1h-1zM78 42h1v1h-1zM15 43h1v1h-1zM12 44h1v1h-1zM97 45h1v1h-1zM62 46h1v1h-1zM37 48h1v1h-1zM7 49h1v1h-1zM92 50h1v1h-1zM62 51h1v1h-1zM37 53h1v1h-1zM2 54h1v1h-1zM87 55h1v1h-1zM84 56h1v1h-1zM21 57h1v1h-1zM26 57h1v1h-1zM10 58h1v1h-1zM96 59h1v1h-1zM64 60h1v1h-1zM67 61h1v1h-1zM1 62h1v1h-1zM46 62h1v1h-1zM51 62h1v1h-1zM10 63h1v1h-1zM60 64h1v1h-1zM91 64h1v1h-1zM69 65h1v1h-1zM79 66h1v1h-1zM61 67h1v1h-1zM85 67h1v1h-1zM10 68h1v1h-1zM65 69h1v1h-1zM77 70h1v1h-1zM72 71h1v1h-1zM71 72h1v1h-1zM75 72h1v1h-1zM42 73h1v1h-1zM76 74h1v1h-1zM72 75h1v1h-1zM74 76h1v1h-1zM70 77h1v1h-1zM81 77h1v1h-1zM42 78h1v1h-1zM66 79h1v1h-1zM80 79h1v1h-1zM79 80h1v1h-1zM77 81h1v1h-1zM86 82h1v1h-1zM10 83h1v1h-1zM56 84h1v1h-1zM90 84h1v1h-1zM95 84h1v1h-1zM67 85h1v1h-1zM82 86h1v1h-1zM55 87h1v1h-1zM91 87h1v1h-1zM10 88h1v1h-1zM6 89h1v1h-1zM11 89h1v1h-1zM16 89h1v1h-1zM31 89h1v1h-1zM36 89h1v1h-1zM41 89h1v1h-1zM84 90h1v1h-1zM64 91h1v1h-1zM87 91h1v1h-1zM50 92h1v1h-1zM10 93h1v1h-1zM84 95h1v1h-1zM59 96h1v1h-1zM45 97h1v1h-1zM37 98h1v1h-1z"/>
<path fill="#c7ff38" d="M84 1h1v1h-1zM97 2h1v1h-1zM7 3h1v1h-1zM32 4h1v1h-1zM62 6h1v1h-1zM3 7h1v1h-1zM40 8h1v1h-1zM32 9h1v1h-1zM73 10h1v1h-1zM78 10h1v1h-1zM62 11h1v1h-1zM39 12h1v1h-1zM35 13h1v1h-1zM20 14h1v1h-1zM48 15h1v1h-1zM53 15h1v1h-1zM98 15h1v1h-1zM62 16h1v1h-1zM34 17h1v1h-1zM30 18h1v1h-1zM27 19h1v1h-1zM14 20h1v1h-1zM38 20h1v1h-1zM89 21h1v1h-1zM23 22h1v1h-1zM22 23h1v1h-1zM25 24h1v1h-1zM24 25h1v1h-1zM28 25h1v1h-1zM89 26h1v1h-1zM19 27h1v1h-1zM33 27h1v1h-1zM25 28h1v1h-1zM30 29h1v1h-1zM18 30h1v1h-1zM29 30h1v1h-1zM62 31h1v1h-1zM4 32h1v1h-1zM9 32h1v1h-1zM43 32h1v1h-1zM27 33h1v1h-1zM17 34h1v1h-1zM13 35h1v1h-1zM62 36h1v1h-1zM58 37h1v1h-1zM63 37h1v1h-1zM68 37h1v1h-1zM83 37h1v1h-1zM88 37h1v1h-1zM93 37h1v1h-1zM20 38h1v1h-1zM12 39h1v1h-1zM8 40h1v1h-1zM44 40h1v1h-1zM62 41h1v1h-1zM32 43h1v1h-1zM40 44h1v1h-1zM49 45h1v1h-1zM84 46h1v1h-1zM15 48h1v1h-1zM45 49h1v1h-1zM54 50h1v1h-1zM84 51h1v1h-1zM15 53h1v1h-1zM50 54h1v1h-1zM59 55h1v1h-1zM67 56h1v1h-1zM37 58h1v1h-1zM55 59h1v1h-1zM91 59h1v1h-1zM87 60h1v1h-1zM79 61h1v1h-1zM6 62h1v1h-1zM11 62h1v1h-1zM16 62h1v1h-1zM31 62h1v1h-1zM36 62h1v1h-1zM41 62h1v1h-1zM37 63h1v1h-1zM86 64h1v1h-1zM82 65h1v1h-1zM72 66h1v1h-1zM56 67h1v1h-1zM90 67h1v1h-1zM95 67h1v1h-1zM37 68h1v1h-1zM70 69h1v1h-1zM81 69h1v1h-1zM69 70h1v1h-1zM74 71h1v1h-1zM66 72h1v1h-1zM80 72h1v1h-1zM10 73h1v1h-1zM71 74h1v1h-1zM75 74h1v1h-1zM74 75h1v1h-1zM77 76h1v1h-1zM76 77h1v1h-1zM10 78h1v1h-1zM61 79h1v1h-1zM85 79h1v1h-1zM72 80h1v1h-1zM69 81h1v1h-1zM65 82h1v1h-1zM37 83h1v1h-1zM1 84h1v1h-1zM46 84h1v1h-1zM51 84h1v1h-1zM79 85h1v1h-1zM64 86h1v1h-1zM60 87h1v1h-1zM37 88h1v1h-1zM21 89h1v1h-1zM26 89h1v1h-1zM67 90h1v1h-1zM59 91h1v1h-1zM96 92h1v1h-1zM37 93h1v1h-1zM67 95h1v1h-1zM92 96h1v1h-1zM2 97h1v1h-1zM15 98h1v1h-1z"/>
<path fill="#d7ff28" d="M67 1h1v1h-1zM3 2h1v1h-1zM49 2h1v1h-1zM2 3h1v1h-1zM45 3h1v1h-1zM20 4h1v1h-1zM84 6h1v1h-1zM8 7h1v1h-1zM44 7h1v1h-1zM7 8h1v1h-1zM20 9h1v1h-1zM84 11h1v1h-1zM13 12h1v1h-1zM12 13h1v1h-1zM27 14h1v1h-1zM58 15h1v1h-1zM63 15h1v1h-1zM68 15h1v1h-1zM83 15h1v1h-1zM88 15h1v1h-1zM93 15h1v1h-1zM84 16h1v1h-1zM18 17h1v1h-1zM29 17h1v1h-1zM17 18h1v1h-1zM35 18h1v1h-1zM25 19h1v1h-1zM4 20h1v1h-1zM9 20h1v1h-1zM43 20h1v1h-1zM62 21h1v1h-1zM24 22h1v1h-1zM28 22h1v1h-1zM30 23h1v1h-1zM22 24h1v1h-1zM30 24h1v1h-1zM19 25h1v1h-1zM33 25h1v1h-1zM62 26h1v1h-1zM14 27h1v1h-1zM38 27h1v1h-1zM22 28h1v1h-1zM17 29h1v1h-1zM23 30h2v1h-2zM84 31h1v1h-1zM48 32h1v1h-1zM53 32h1v1h-1zM98 32h1v1h-1zM25 33h1v1h-1zM35 34h1v1h-1zM18 35h1v1h-1zM34 35h1v1h-1zM84 36h1v1h-1zM73 37h1v1h-1zM78 37h1v1h-1zM27 38h1v1h-1zM40 39h1v1h-1zM39 40h1v1h-1zM84 41h1v1h-1zM20 43h1v1h-1zM7 44h1v1h-1zM45 44h1v1h-1zM3 45h1v1h-1zM44 45h1v1h-1zM67 46h1v1h-1zM32 48h1v1h-1zM2 49h1v1h-1zM50 49h1v1h-1zM49 50h1v1h-1zM97 50h1v1h-1zM67 51h1v1h-1zM32 53h1v1h-1zM55 54h1v1h-1zM96 54h1v1h-1zM54 55h1v1h-1zM92 55h1v1h-1zM79 56h1v1h-1zM15 58h1v1h-1zM60 59h1v1h-1zM59 60h1v1h-1zM72 61h1v1h-1zM21 62h1v1h-1zM26 62h1v1h-1zM15 63h1v1h-1zM65 64h1v1h-1zM81 64h1v1h-1zM64 65h1v1h-1zM74 66h1v1h-1zM1 67h1v1h-1zM46 67h1v1h-1zM51 67h1v1h-1zM15 68h1v1h-1zM75 69h2v1h-2zM82 70h1v1h-1zM77 71h1v1h-1zM61 72h1v1h-1zM85 72h1v1h-1zM37 73h1v1h-1zM66 74h1v1h-1zM80 74h1v1h-1zM69 75h1v1h-1zM77 75h1v1h-1zM69 76h1v1h-1zM71 77h1v1h-1zM75 77h1v1h-1zM37 78h1v1h-1zM56 79h1v1h-1zM90 79h1v1h-1zM95 79h1v1h-1zM74 80h1v1h-1zM64 81h1v1h-1zM82 81h1v1h-1zM70 82h1v1h-1zM81 82h1v1h-1zM15 83h1v1h-1zM6 84h1v1h-1zM11 84h1v1h-1zM16 84h1v1h-1zM31 84h1v1h-1zM36 84h1v1h-1zM41 84h1v1h-1zM72 85h1v1h-1zM87 86h1v1h-1zM86 87h1v1h-1zM15 88h1v1h-1zM79 90h1v1h-1zM92 91h1v1h-1zM55 92h1v1h-1zM91 92h1v1h-1zM15 93h1v1h-1zM79 95h1v1h-1zM54 96h1v1h-1zM97 96h1v1h-1zM50 97h1v1h-1zM96 97h1v1h-1zM32 98h1v1h-1z"/>
<path fill="#e7ff18" d="M79 1h1v1h-1zM44 2h1v1h-1zM50 3h1v1h-1zM27 4h1v1h-1zM67 6h1v1h-1zM39 7h1v1h-1zM45 8h1v1h-1zM27 9h1v1h-1zM67 11h1v1h-1zM18 12h1v1h-1zM34 12h1v1h-1zM40 13h1v1h-1zM25 14h1v1h-1zM73 15h1v1h-1zM78 15h1v1h-1zM67 16h1v1h-1zM23 17h2v1h-2zM12 18h1v1h-1zM22 19h1v1h-1zM48 20h1v1h-1zM53 20h1v1h-1zM98 20h1v1h-1zM84 21h1v1h-1zM19 22h1v1h-1zM33 22h1v1h-1zM17 23h1v1h-1zM17 24h1v1h-1zM14 25h1v1h-1zM38 25h1v1h-1zM84 26h1v1h-1zM4 27h1v1h-1zM9 27h1v1h-1zM43 27h1v1h-1zM30 28h1v1h-1zM35 29h1v1h-1zM28 30h1v1h-1zM67 31h1v1h-1zM58 32h1v1h-1zM63 32h1v1h-1zM68 32h1v1h-1zM83 32h1v1h-1zM88 32h1v1h-1zM93 32h1v1h-1zM22 33h1v1h-1zM12 34h1v1h-1zM29 35h1v1h-1zM67 36h1v1h-1zM25 38h1v1h-1zM7 39h1v1h-1zM13 40h1v1h-1zM67 41h1v1h-1zM27 43h1v1h-1zM2 44h1v1h-1zM8 45h1v1h-1zM79 46h1v1h-1zM20 48h1v1h-1zM96 49h1v1h-1zM3 50h1v1h-1zM79 51h1v1h-1zM20 53h1v1h-1zM91 54h1v1h-1zM97 55h1v1h-1zM72 56h1v1h-1zM32 58h1v1h-1zM86 59h1v1h-1zM92 60h1v1h-1zM74 61h1v1h-1zM32 63h1v1h-1zM70 64h1v1h-1zM87 65h1v1h-1zM77 66h1v1h-1zM6 67h1v1h-1zM11 67h1v1h-1zM16 67h1v1h-1zM31 67h1v1h-1zM36 67h1v1h-1zM41 67h1v1h-1zM32 68h1v1h-1zM71 69h1v1h-1zM64 70h1v1h-1zM69 71h1v1h-1zM56 72h1v1h-1zM90 72h1v1h-1zM95 72h1v1h-1zM15 73h1v1h-1zM61 74h1v1h-1zM85 74h1v1h-1zM82 75h1v1h-1zM82 76h1v1h-1zM66 77h1v1h-1zM80 77h1v1h-1zM15 78h1v1h-1zM1 79h1v1h-1zM46 79h1v1h-1zM51 79h1v1h-1zM77 80h1v1h-1zM87 81h1v1h-1zM75 82h2v1h-2zM32 83h1v1h-1zM21 84h1v1h-1zM26 84h1v1h-1zM74 85h1v1h-1zM59 86h1v1h-1zM65 87h1v1h-1zM81 87h1v1h-1zM32 88h1v1h-1zM72 90h1v1h-1zM54 91h1v1h-1zM60 92h1v1h-1zM32 93h1v1h-1zM72 95h1v1h-1zM49 96h1v1h-1zM55 97h1v1h-1zM20 98h1v1h-1z"/>
<path fill="#f7ff08" d="M72 1h1v1h-1zM8 2h1v1h-1zM96 3h1v1h-1zM25 4h1v1h-1zM79 6h1v1h-1zM13 7h1v1h-1zM34 7h1v1h-1zM2 8h1v1h-1zM25 9h1v1h-1zM79 11h1v1h-1zM29 12h1v1h-1zM7 13h1v1h-1zM22 14h1v1h-1zM79 16h1v1h-1zM28 17h1v1h-1zM40 18h1v1h-1zM30 19h1v1h-1zM58 20h1v1h-1zM63 20h1v1h-1zM68 20h1v1h-1zM83 20h1v1h-1zM88 20h1v1h-1zM93 20h1v1h-1zM67 21h1v1h-1zM14 22h1v1h-1zM38 22h1v1h-1zM35 23h1v1h-1zM35 24h1v1h-1zM4 25h1v1h-1zM9 25h1v1h-1zM43 25h1v1h-1zM67 26h1v1h-1zM48 27h1v1h-1zM53 27h1v1h-1zM98 27h1v1h-1zM17 28h1v1h-1zM12 29h1v1h-1zM19 30h1v1h-1zM33 30h1v1h-1zM79 31h1v1h-1zM73 32h1v1h-1zM78 32h1v1h-1zM30 33h1v1h-1zM7 34h1v1h-1zM40 34h1v1h-1zM23 35h2v1h-2zM79 36h1v1h-1zM22 38h1v1h-1zM45 39h1v1h-1zM18 40h1v1h-1zM34 40h1v1h-1zM79 41h1v1h-1zM25 43h1v1h-1zM50 44h1v1h-1zM39 45h1v1h-1zM72 46h1v1h-1zM27 48h1v1h-1zM55 49h1v1h-1zM44 50h1v1h-1zM72 51h1v1h-1zM27 53h1v1h-1zM60 54h1v1h-1zM49 55h1v1h-1zM74 56h1v1h-1zM20 58h1v1h-1zM65 59h1v1h-1zM81 59h1v1h-1zM54 60h1v1h-1zM77 61h1v1h-1zM20 63h1v1h-1zM75 64h2v1h-2zM59 65h1v1h-1zM92 65h1v1h-1zM69 66h1v1h-1zM21 67h1v1h-1zM26 67h1v1h-1zM20 68h1v1h-1zM66 69h1v1h-1zM80 69h1v1h-1zM87 70h1v1h-1zM82 71h1v1h-1zM1 72h1v1h-1zM46 72h1v1h-1zM51 72h1v1h-1zM32 73h1v1h-1zM56 74h1v1h-1zM90 74h1v1h-1zM95 74h1v1h-1zM64 75h1v1h-1zM64 76h1v1h-1zM61 77h1v1h-1zM85 77h1v1h-1zM32 78h1v1h-1zM6 79h1v1h-1zM11 79h1v1h-1zM16 79h1v1h-1zM31 79h1v1h-1zM36 79h1v1h-1zM41 79h1v1h-1zM69 80h1v1h-1zM59 81h1v1h-1zM71 82h1v1h-1zM20 83h1v1h-1zM77 85h1v1h-1zM92 86h1v1h-1zM70 87h1v1h-1zM20 88h1v1h-1zM74 90h1v1h-1zM97 91h1v1h-1zM65 92h1v1h-1zM86 92h1v1h-1zM20 93h1v1h-1zM74 95h1v1h-1zM3 96h1v1h-1zM91 97h1v1h-1zM27 98h1v1h-1z"/>
<path fill="#fff700" d="M74 1h1v1h-1zM13 2h1v1h-1zM39 2h1v1h-1zM55 3h1v1h-1zM22 4h1v1h-1zM72 6h1v1h-1zM18 7h1v1h-1zM50 8h1v1h-1zM22 9h1v1h-1zM72 11h1v1h-1zM23 12h2v1h-2zM2 13h1v1h-1zM45 13h1v1h-1zM30 14h1v1h-1zM72 16h1v1h-1zM19 17h1v1h-1zM33 17h1v1h-1zM7 18h1v1h-1zM17 19h1v1h-1zM35 19h1v1h-1zM73 20h1v1h-1zM78 20h1v1h-1zM72 21h1v1h-1zM79 21h1v1h-1zM4 22h1v1h-1zM9 22h1v1h-1zM43 22h1v1h-1zM12 23h1v1h-1zM12 24h1v1h-1zM48 25h1v1h-1zM53 25h1v1h-1zM98 25h1v1h-1zM79 26h1v1h-1zM58 27h1v1h-1zM63 27h1v1h-1zM68 27h1v1h-1zM78 27h1v1h-1zM83 27h1v1h-1zM88 27h1v1h-1zM93 27h1v1h-1zM35 28h1v1h-1zM40 29h1v1h-1zM14 30h1v1h-1zM38 30h1v1h-1zM72 31h1v1h-1zM17 33h1v1h-1zM45 34h1v1h-1zM19 35h1v1h-1zM28 35h1v1h-1zM72 36h1v1h-1zM30 38h1v1h-1zM2 39h1v1h-1zM29 40h1v1h-1zM72 41h1v1h-1zM22 43h1v1h-1zM96 44h1v1h-1zM13 45h1v1h-1zM34 45h1v1h-1zM74 46h1v1h-1zM25 48h1v1h-1zM91 49h1v1h-1zM8 50h1v1h-1zM74 51h1v1h-1zM25 53h1v1h-1zM65 54h1v1h-1zM86 54h1v1h-1zM3 55h1v1h-1zM77 56h1v1h-1zM27 58h1v1h-1zM70 59h1v1h-1zM97 60h1v1h-1zM69 61h1v1h-1zM27 63h1v1h-1zM71 64h1v1h-1zM80 64h1v1h-1zM54 65h1v1h-1zM82 66h1v1h-1zM27 68h1v1h-1zM61 69h1v1h-1zM85 69h1v1h-1zM59 70h1v1h-1zM64 71h1v1h-1zM6 72h1v1h-1zM11 72h1v1h-1zM16 72h1v1h-1zM21 72h1v1h-1zM31 72h1v1h-1zM36 72h1v1h-1zM41 72h1v1h-1zM20 73h1v1h-1zM1 74h1v1h-1zM46 74h1v1h-1zM51 74h1v1h-1zM87 75h1v1h-1zM87 76h1v1h-1zM56 77h1v1h-1zM90 77h1v1h-1zM95 77h1v1h-1zM20 78h1v1h-1zM27 78h1v1h-1zM21 79h1v1h-1zM26 79h1v1h-1zM64 80h1v1h-1zM82 80h1v1h-1zM92 81h1v1h-1zM66 82h1v1h-1zM80 82h1v1h-1zM27 83h1v1h-1zM69 85h1v1h-1zM54 86h1v1h-1zM97 86h1v1h-1zM75 87h2v1h-2zM27 88h1v1h-1zM77 90h1v1h-1zM49 91h1v1h-1zM81 92h1v1h-1zM27 93h1v1h-1zM77 95h1v1h-1zM44 96h1v1h-1zM60 97h1v1h-1zM86 97h1v1h-1zM25 98h1v1h-1z"/>
<path fill="#ffe700" d="M77 1h1v1h-1zM34 2h1v1h-1zM60 3h1v1h-1zM91 3h1v1h-1zM30 4h1v1h-1zM74 6h1v1h-1zM23 7h1v1h-1zM29 7h1v1h-1zM55 8h1v1h-1zM96 8h1v1h-1zM17 9h1v1h-1zM30 9h1v1h-1zM74 11h1v1h-1zM19 12h1v1h-1zM28 12h1v1h-1zM50 13h1v1h-1zM17 14h1v1h-1zM35 14h1v1h-1zM74 16h1v1h-1zM9 17h1v1h-1zM14 17h1v1h-1zM38 17h1v1h-1zM45 18h1v1h-1zM12 19h1v1h-1zM74 21h1v1h-1zM48 22h1v1h-1zM53 22h1v1h-1zM98 22h1v1h-1zM7 23h1v1h-1zM40 23h1v1h-1zM40 24h1v1h-1zM58 25h1v1h-1zM63 25h1v1h-1zM68 25h1v1h-1zM73 25h1v1h-1zM78 25h1v1h-1zM83 25h1v1h-1zM88 25h1v1h-1zM93 25h1v1h-1zM72 26h1v1h-1zM74 26h1v1h-1zM73 27h1v1h-1zM12 28h1v1h-1zM7 29h1v1h-1zM4 30h1v1h-1zM9 30h1v1h-1zM43 30h1v1h-1zM74 31h1v1h-1zM35 33h1v1h-1zM2 34h1v1h-1zM14 35h1v1h-1zM33 35h1v1h-1zM74 36h1v1h-1zM17 38h1v1h-1zM50 39h1v1h-1zM96 39h1v1h-1zM23 40h2v1h-2zM74 41h1v1h-1zM30 43h1v1h-1zM55 44h1v1h-1zM91 44h1v1h-1zM18 45h1v1h-1zM77 46h1v1h-1zM22 48h1v1h-1zM60 49h1v1h-1zM86 49h1v1h-1zM13 50h1v1h-1zM39 50h1v1h-1zM77 51h1v1h-1zM22 53h1v1h-1zM81 54h1v1h-1zM8 55h1v1h-1zM44 55h1v1h-1zM69 56h1v1h-1zM25 58h1v1h-1zM75 59h2v1h-2zM3 60h1v1h-1zM49 60h1v1h-1zM82 61h1v1h-1zM25 63h1v1h-1zM66 64h1v1h-1zM85 64h1v1h-1zM97 65h1v1h-1zM64 66h1v1h-1zM25 68h1v1h-1zM56 69h1v1h-1zM90 69h1v1h-1zM95 69h1v1h-1zM92 70h1v1h-1zM87 71h1v1h-1zM26 72h1v1h-1zM25 73h1v1h-1zM27 73h1v1h-1zM6 74h1v1h-1zM11 74h1v1h-1zM16 74h1v1h-1zM21 74h1v1h-1zM26 74h1v1h-1zM31 74h1v1h-1zM36 74h1v1h-1zM41 74h1v1h-1zM59 75h1v1h-1zM59 76h1v1h-1zM92 76h1v1h-1zM1 77h1v1h-1zM46 77h1v1h-1zM51 77h1v1h-1zM25 78h1v1h-1zM87 80h1v1h-1zM54 81h1v1h-1zM61 82h1v1h-1zM85 82h1v1h-1zM90 82h1v1h-1zM25 83h1v1h-1zM64 85h1v1h-1zM82 85h1v1h-1zM49 86h1v1h-1zM71 87h1v1h-1zM80 87h1v1h-1zM25 88h1v1h-1zM69 90h1v1h-1zM82 90h1v1h-1zM3 91h1v1h-1zM44 91h1v1h-1zM70 92h1v1h-1zM76 92h1v1h-1zM25 93h1v1h-1zM69 95h1v1h-1zM8 96h1v1h-1zM39 96h1v1h-1zM65 97h1v1h-1zM22 98h1v1h-1z"/>
<path fill="#ffd700" d="M69 1h1v1h-1zM18 2h1v1h-1zM29 2h1v1h-1zM86 3h1v1h-1zM17 4h1v1h-1zM69 6h1v1h-1zM77 6h1v1h-1zM24 7h1v1h-1zM91 8h1v1h-1zM35 9h1v1h-1zM77 11h1v1h-1zM14 12h1v1h-1zM33 12h1v1h-1zM96 13h1v1h-1zM12 14h1v1h-1zM77 16h1v1h-1zM4 17h1v1h-1zM43 17h1v1h-1zM2 18h1v1h-1zM40 19h1v1h-1zM77 21h1v1h-1zM58 22h1v1h-1zM63 22h1v1h-1zM68 22h1v1h-1zM73 22h1v1h-1zM78 22h1v1h-1zM83 22h1v1h-1zM88 22h1v1h-1zM93 22h1v1h-1zM45 23h1v1h-1zM7 24h1v1h-1zM77 26h1v1h-1zM40 28h1v1h-1zM2 29h1v1h-1zM45 29h1v1h-1zM48 30h1v1h-1zM53 30h1v1h-1zM93 30h1v1h-1zM98 30h1v1h-1zM77 31h1v1h-1zM12 33h1v1h-1zM50 34h1v1h-1zM9 35h1v1h-1zM38 35h1v1h-1zM77 36h1v1h-1zM35 38h1v1h-1zM55 39h1v1h-1zM19 40h1v1h-1zM28 40h1v1h-1zM77 41h1v1h-1zM17 43h1v1h-1zM60 44h1v1h-1zM23 45h1v1h-1zM29 45h1v1h-1zM69 46h1v1h-1zM30 48h1v1h-1zM65 49h1v1h-1zM34 50h1v1h-1zM69 51h1v1h-1zM30 53h1v1h-1zM70 54h1v1h-1zM76 54h1v1h-1zM39 55h1v1h-1zM82 56h1v1h-1zM22 58h1v1h-1zM71 59h1v1h-1zM80 59h1v1h-1zM44 60h1v1h-1zM64 61h1v1h-1zM22 63h1v1h-1zM61 64h1v1h-1zM90 64h1v1h-1zM49 65h1v1h-1zM87 66h1v1h-1zM22 68h1v1h-1zM1 69h1v1h-1zM6 69h1v1h-1zM46 69h1v1h-1zM51 69h1v1h-1zM54 70h1v1h-1zM97 70h1v1h-1zM59 71h1v1h-1zM22 73h1v1h-1zM92 75h1v1h-1zM54 76h1v1h-1zM6 77h1v1h-1zM11 77h1v1h-1zM16 77h1v1h-1zM21 77h1v1h-1zM26 77h1v1h-1zM31 77h1v1h-1zM36 77h1v1h-1zM41 77h1v1h-1zM22 78h1v1h-1zM59 80h1v1h-1zM97 81h1v1h-1zM56 82h1v1h-1zM95 82h1v1h-1zM22 83h1v1h-1zM87 85h1v1h-1zM3 86h1v1h-1zM66 87h1v1h-1zM85 87h1v1h-1zM22 88h1v1h-1zM64 90h1v1h-1zM8 91h1v1h-1zM75 92h1v1h-1zM22 93h1v1h-1zM30 93h1v1h-1zM82 95h1v1h-1zM13 96h1v1h-1zM70 97h1v1h-1zM81 97h1v1h-1zM30 98h1v1h-1z"/>
<path fill="#ffc700" d="M82 1h1v1h-1zM23 2h1v1h-1zM65 3h1v1h-1zM81 3h1v1h-1zM35 4h1v1h-1zM82 6h1v1h-1zM19 7h1v1h-1zM28 7h1v1h-1zM60 8h1v1h-1zM12 9h1v1h-1zM69 11h1v1h-1zM9 12h1v1h-1zM38 12h1v1h-1zM55 13h1v1h-1zM40 14h1v1h-1zM69 16h1v1h-1zM48 17h1v1h-1zM53 17h1v1h-1zM93 17h1v1h-1zM98 17h1v1h-1zM50 18h1v1h-1zM96 18h1v1h-1zM7 19h1v1h-1zM69 21h1v1h-1zM2 23h1v1h-1zM45 24h1v1h-1zM69 26h1v1h-1zM7 28h1v1h-1zM45 28h1v1h-1zM50 29h1v1h-1zM58 30h1v1h-1zM63 30h1v1h-1zM68 30h1v1h-1zM73 30h1v1h-1zM78 30h1v1h-1zM83 30h1v1h-1zM88 30h1v1h-1zM69 31h1v1h-1zM40 33h1v1h-1zM96 34h1v1h-1zM4 35h1v1h-1zM43 35h1v1h-1zM48 35h1v1h-1zM69 36h1v1h-1zM12 38h1v1h-1zM91 39h1v1h-1zM14 40h1v1h-1zM33 40h1v1h-1zM69 41h1v1h-1zM35 43h1v1h-1zM86 44h1v1h-1zM24 45h1v1h-1zM28 45h1v1h-1zM82 46h1v1h-1zM17 48h1v1h-1zM35 48h1v1h-1zM70 49h1v1h-1zM81 49h1v1h-1zM18 50h1v1h-1zM29 50h1v1h-1zM64 51h1v1h-1zM82 51h1v1h-1zM17 53h1v1h-1zM71 54h1v1h-1zM75 54h1v1h-1zM13 55h1v1h-1zM64 56h1v1h-1zM30 58h1v1h-1zM66 59h1v1h-1zM85 59h1v1h-1zM8 60h1v1h-1zM87 61h1v1h-1zM30 63h1v1h-1zM51 64h1v1h-1zM56 64h1v1h-1zM95 64h1v1h-1zM3 65h1v1h-1zM59 66h1v1h-1zM30 68h1v1h-1zM11 69h1v1h-1zM16 69h1v1h-1zM21 69h1v1h-1zM26 69h1v1h-1zM31 69h1v1h-1zM36 69h1v1h-1zM41 69h1v1h-1zM49 70h1v1h-1zM54 71h1v1h-1zM92 71h1v1h-1zM30 73h1v1h-1zM54 75h1v1h-1zM97 76h1v1h-1zM30 78h1v1h-1zM92 80h1v1h-1zM3 81h1v1h-1zM49 81h1v1h-1zM1 82h1v1h-1zM6 82h1v1h-1zM46 82h1v1h-1zM51 82h1v1h-1zM30 83h1v1h-1zM59 85h1v1h-1zM44 86h1v1h-1zM61 87h1v1h-1zM90 87h1v1h-1zM30 88h1v1h-1zM87 90h1v1h-1zM39 91h1v1h-1zM71 92h1v1h-1zM80 92h1v1h-1zM17 93h1v1h-1zM64 95h1v1h-1zM18 96h1v1h-1zM34 96h1v1h-1zM76 97h1v1h-1zM17 98h1v1h-1z"/>
<path fill="#ffb700" d="M64 1h1v1h-1zM24 2h1v1h-1zM28 2h1v1h-1zM70 3h1v1h-1zM12 4h1v1h-1zM64 6h1v1h-1zM14 7h1v1h-1zM33 7h1v1h-1zM65 8h1v1h-1zM86 8h1v1h-1zM40 9h1v1h-1zM82 11h1v1h-1zM4 12h1v1h-1zM43 12h1v1h-1zM48 12h1v1h-1zM60 13h1v1h-1zM91 13h1v1h-1zM7 14h1v1h-1zM82 16h1v1h-1zM58 17h1v1h-1zM63 17h1v1h-1zM68 17h1v1h-1zM73 17h1v1h-1zM78 17h1v1h-1zM83 17h1v1h-1zM88 17h1v1h-1zM55 18h1v1h-1zM45 19h1v1h-1zM82 21h1v1h-1zM50 23h1v1h-1zM2 24h1v1h-1zM82 26h1v1h-1zM2 28h1v1h-1zM96 29h1v1h-1zM82 31h1v1h-1zM7 33h1v1h-1zM55 34h1v1h-1zM91 34h1v1h-1zM53 35h1v1h-1zM93 35h1v1h-1zM98 35h1v1h-1zM82 36h1v1h-1zM40 38h1v1h-1zM60 39h1v1h-1zM86 39h1v1h-1zM9 40h1v1h-1zM38 40h1v1h-1zM82 41h1v1h-1zM12 43h1v1h-1zM65 44h1v1h-1zM81 44h1v1h-1zM19 45h1v1h-1zM64 46h1v1h-1zM12 48h1v1h-1zM76 49h1v1h-1zM23 50h1v1h-1zM87 51h1v1h-1zM35 53h1v1h-1zM80 54h1v1h-1zM18 55h1v1h-1zM34 55h1v1h-1zM87 56h1v1h-1zM17 58h1v1h-1zM61 59h1v1h-1zM90 59h1v1h-1zM13 60h1v1h-1zM39 60h1v1h-1zM59 61h1v1h-1zM17 63h1v1h-1zM1 64h1v1h-1zM6 64h1v1h-1zM46 64h1v1h-1zM8 65h1v1h-1zM44 65h1v1h-1zM92 66h1v1h-1zM17 68h1v1h-1zM3 70h1v1h-1zM97 71h1v1h-1zM17 73h1v1h-1zM97 75h1v1h-1zM49 76h1v1h-1zM17 78h1v1h-1zM54 80h1v1h-1zM44 81h1v1h-1zM11 82h1v1h-1zM16 82h1v1h-1zM21 82h1v1h-1zM26 82h1v1h-1zM31 82h1v1h-1zM36 82h1v1h-1zM41 82h1v1h-1zM17 83h1v1h-1zM92 85h1v1h-1zM8 86h1v1h-1zM39 86h1v1h-1zM51 87h1v1h-1zM56 87h1v1h-1zM95 87h1v1h-1zM17 88h1v1h-1zM59 90h1v1h-1zM13 91h1v1h-1zM34 91h1v1h-1zM66 92h1v1h-1zM85 92h1v1h-1zM35 93h1v1h-1zM87 95h1v1h-1zM29 96h1v1h-1zM71 97h1v1h-1zM75 97h1v1h-1zM35 98h1v1h-1z"/>
<path fill="#ffa700" d="M87 1h1v1h-1zM19 2h1v1h-1zM33 2h1v1h-1zM75 3h2v1h-2zM40 4h1v1h-1zM87 6h1v1h-1zM9 7h1v1h-1zM38 7h1v1h-1zM43 7h1v1h-1zM81 8h1v1h-1zM7 9h1v1h-1zM64 11h1v1h-1zM53 12h1v1h-1zM58 12h1v1h-1zM93 12h1v1h-1zM98 12h1v1h-1zM86 13h1v1h-1zM45 14h1v1h-1zM64 16h1v1h-1zM91 18h1v1h-1zM2 19h1v1h-1zM64 21h1v1h-1zM96 23h1v1h-1zM50 24h1v1h-1zM96 24h1v1h-1zM64 26h1v1h-1zM50 28h1v1h-1zM55 29h1v1h-1zM64 31h1v1h-1zM2 33h1v1h-1zM45 33h1v1h-1zM60 34h1v1h-1zM58 35h1v1h-1zM63 35h1v1h-1zM68 35h1v1h-1zM73 35h1v1h-1zM78 35h1v1h-1zM83 35h1v1h-1zM88 35h1v1h-1zM64 36h1v1h-1zM7 38h1v1h-1zM45 38h1v1h-1zM65 39h1v1h-1zM4 40h1v1h-1zM43 40h1v1h-1zM48 40h1v1h-1zM64 41h1v1h-1zM87 41h1v1h-1zM7 43h1v1h-1zM40 43h1v1h-1zM70 44h1v1h-1zM14 45h1v1h-1zM33 45h1v1h-1zM38 45h1v1h-1zM87 46h1v1h-1zM40 48h1v1h-1zM71 49h1v1h-1zM75 49h1v1h-1zM24 50h1v1h-1zM28 50h1v1h-1zM59 51h1v1h-1zM12 53h1v1h-1zM61 54h1v1h-1zM66 54h1v1h-1zM85 54h1v1h-1zM29 55h1v1h-1zM59 56h1v1h-1zM92 56h1v1h-1zM12 58h1v1h-1zM35 58h1v1h-1zM51 59h1v1h-1zM56 59h1v1h-1zM95 59h1v1h-1zM34 60h1v1h-1zM54 61h1v1h-1zM92 61h1v1h-1zM35 63h1v1h-1zM11 64h1v1h-1zM16 64h1v1h-1zM21 64h1v1h-1zM26 64h1v1h-1zM31 64h1v1h-1zM36 64h1v1h-1zM41 64h1v1h-1zM39 65h1v1h-1zM54 66h1v1h-1zM97 66h1v1h-1zM35 68h1v1h-1zM44 70h1v1h-1zM49 71h1v1h-1zM35 73h1v1h-1zM3 75h1v1h-1zM49 75h1v1h-1zM3 76h1v1h-1zM35 78h1v1h-1zM97 80h1v1h-1zM8 81h1v1h-1zM35 83h1v1h-1zM54 85h1v1h-1zM13 86h1v1h-1zM1 87h1v1h-1zM6 87h1v1h-1zM41 87h1v1h-1zM46 87h1v1h-1zM35 88h1v1h-1zM92 90h1v1h-1zM18 91h1v1h-1zM56 92h1v1h-1zM61 92h1v1h-1zM90 92h1v1h-1zM12 93h1v1h-1zM59 95h1v1h-1zM23 96h2v1h-2zM66 97h1v1h-1zM80 97h1v1h-1zM12 98h1v1h-1z"/>
<path fill="#ff9700" d="M59 1h1v1h-1zM92 1h1v1h-1zM14 2h1v1h-1zM38 2h1v1h-1zM71 3h1v1h-1zM80 3h1v1h-1zM7 4h1v1h-1zM59 6h1v1h-1zM4 7h1v1h-1zM48 7h1v1h-1zM98 7h1v1h-1zM70 8h1v1h-1zM76 8h1v1h-1zM45 9h1v1h-1zM87 11h1v1h-1zM63 12h1v1h-1zM68 12h1v1h-1zM73 12h1v1h-1zM78 12h1v1h-1zM83 12h1v1h-1zM88 12h1v1h-1zM65 13h1v1h-1zM81 13h1v1h-1zM2 14h1v1h-1zM87 16h1v1h-1zM60 18h1v1h-1zM86 18h1v1h-1zM50 19h1v1h-1zM96 19h1v1h-1zM87 21h1v1h-1zM55 23h1v1h-1zM91 23h1v1h-1zM55 24h1v1h-1zM87 26h1v1h-1zM96 28h1v1h-1zM60 29h1v1h-1zM91 29h1v1h-1zM87 31h1v1h-1zM50 33h1v1h-1zM86 34h1v1h-1zM87 36h1v1h-1zM2 38h1v1h-1zM70 39h1v1h-1zM81 39h1v1h-1zM53 40h1v1h-1zM58 40h1v1h-1zM93 40h1v1h-1zM98 40h1v1h-1zM59 41h1v1h-1zM45 43h1v1h-1zM75 44h2v1h-2zM9 45h1v1h-1zM43 45h1v1h-1zM59 46h1v1h-1zM7 48h1v1h-1zM66 49h1v1h-1zM80 49h1v1h-1zM19 50h1v1h-1zM33 50h1v1h-1zM92 51h1v1h-1zM40 53h1v1h-1zM56 54h1v1h-1zM90 54h1v1h-1zM23 55h2v1h-2zM54 56h1v1h-1zM40 58h1v1h-1zM1 59h1v1h-1zM6 59h1v1h-1zM41 59h1v1h-1zM46 59h1v1h-1zM18 60h1v1h-1zM29 60h1v1h-1zM97 61h1v1h-1zM12 63h1v1h-1zM13 65h1v1h-1zM49 66h1v1h-1zM12 68h1v1h-1zM8 70h1v1h-1zM39 70h1v1h-1zM3 71h1v1h-1zM12 73h1v1h-1zM44 75h1v1h-1zM8 76h1v1h-1zM44 76h1v1h-1zM12 78h1v1h-1zM3 80h1v1h-1zM49 80h1v1h-1zM13 81h1v1h-1zM39 81h1v1h-1zM12 83h1v1h-1zM97 85h1v1h-1zM18 86h1v1h-1zM34 86h1v1h-1zM11 87h1v1h-1zM16 87h1v1h-1zM21 87h1v1h-1zM26 87h1v1h-1zM31 87h1v1h-1zM36 87h1v1h-1zM12 88h1v1h-1zM54 90h1v1h-1zM23 91h1v1h-1zM29 91h1v1h-1zM1 92h1v1h-1zM51 92h1v1h-1zM95 92h1v1h-1zM40 93h1v1h-1zM92 95h1v1h-1zM19 96h1v1h-1zM28 96h1v1h-1zM61 97h1v1h-1zM85 97h1v1h-1zM7 98h1v1h-1zM40 98h1v1h-1z"/>
<path fill="#ff8700" d="M54 1h1v1h-1zM9 2h1v1h-1zM43 2h1v1h-1zM66 3h1v1h-1zM85 3h1v1h-1zM45 4h1v1h-1zM92 6h1v1h-1zM53 7h1v1h-1zM58 7h1v1h-1zM88 7h1v1h-1zM93 7h1v1h-1zM71 8h1v1h-1zM75 8h1v1h-1zM2 9h1v1h-1zM59 11h1v1h-1zM92 11h1v1h-1zM70 13h1v1h-1zM50 14h1v1h-1zM96 14h1v1h-1zM59 16h1v1h-1zM65 18h1v1h-1zM55 19h1v1h-1zM59 21h1v1h-1zM60 23h1v1h-1zM91 24h1v1h-1zM59 26h1v1h-1zM55 28h1v1h-1zM91 28h1v1h-1zM86 29h1v1h-1zM59 31h1v1h-1zM96 33h1v1h-1zM65 34h1v1h-1zM81 34h1v1h-1zM59 36h1v1h-1zM50 38h1v1h-1zM76 39h1v1h-1zM63 40h1v1h-1zM68 40h1v1h-1zM73 40h1v1h-1zM78 40h1v1h-1zM83 40h1v1h-1zM88 40h1v1h-1zM92 41h1v1h-1zM2 43h1v1h-1zM71 44h1v1h-1zM80 44h1v1h-1zM4 45h1v1h-1zM48 45h1v1h-1zM98 45h1v1h-1zM92 46h1v1h-1zM45 48h1v1h-1zM61 49h1v1h-1zM85 49h1v1h-1zM14 50h1v1h-1zM38 50h1v1h-1zM54 51h1v1h-1zM7 53h1v1h-1zM1 54h1v1h-1zM51 54h1v1h-1zM95 54h1v1h-1zM19 55h1v1h-1zM28 55h1v1h-1zM97 56h1v1h-1zM7 58h1v1h-1zM11 59h1v1h-1zM16 59h1v1h-1zM21 59h1v1h-1zM26 59h1v1h-1zM31 59h1v1h-1zM36 59h1v1h-1zM23 60h1v1h-1zM49 61h1v1h-1zM40 63h1v1h-1zM18 65h1v1h-1zM34 65h1v1h-1zM3 66h1v1h-1zM40 68h1v1h-1zM13 70h1v1h-1zM8 71h1v1h-1zM44 71h1v1h-1zM40 73h1v1h-1zM8 75h1v1h-1zM39 76h1v1h-1zM40 78h1v1h-1zM44 80h1v1h-1zM34 81h1v1h-1zM40 83h1v1h-1zM3 85h1v1h-1zM49 85h1v1h-1zM29 86h1v1h-1zM7 88h1v1h-1zM40 88h1v1h-1zM97 90h1v1h-1zM24 91h1v1h-1zM28 91h1v1h-1zM6 92h1v1h-1zM11 92h1v1h-1zM41 92h1v1h-1zM46 92h1v1h-1zM7 93h1v1h-1zM54 95h1v1h-1zM14 96h1v1h-1zM33 96h1v1h-1zM56 97h1v1h-1zM90 97h1v1h-1zM45 98h1v1h-1z"/>
<path fill="#ff7800" d="M97 1h1v1h-1zM4 2h1v1h-1zM48 2h1v1h-1zM53 2h1v1h-1zM98 2h1v1h-1zM61 3h1v1h-1zM90 3h1v1h-1zM2 4h1v1h-1zM50 4h1v1h-1zM54 6h1v1h-1zM63 7h1v1h-1zM68 7h1v1h-1zM73 7h1v1h-1zM78 7h1v1h-1zM83 7h1v1h-1zM80 8h1v1h-1zM50 9h1v1h-1zM96 9h1v1h-1zM54 11h1v1h-1zM75 13h2v1h-2zM55 14h1v1h-1zM92 16h1v1h-1zM81 18h1v1h-1zM91 19h1v1h-1zM92 21h1v1h-1zM65 23h1v1h-1zM86 23h1v1h-1zM60 24h1v1h-1zM86 24h1v1h-1zM92 26h1v1h-1zM60 28h1v1h-1zM65 29h1v1h-1zM92 31h1v1h-1zM55 33h1v1h-1zM70 34h1v1h-1zM76 34h1v1h-1zM54 36h1v1h-1zM92 36h1v1h-1zM96 38h1v1h-1zM71 39h1v1h-1zM75 39h1v1h-1zM54 41h1v1h-1zM50 43h1v1h-1zM66 44h1v1h-1zM85 44h1v1h-1zM53 45h1v1h-1zM58 45h1v1h-1zM63 45h1v1h-1zM88 45h1v1h-1zM93 45h1v1h-1zM54 46h1v1h-1zM97 46h1v1h-1zM2 48h1v1h-1zM56 49h1v1h-1zM90 49h1v1h-1zM95 49h1v1h-1zM4 50h1v1h-1zM9 50h1v1h-1zM43 50h1v1h-1zM97 51h1v1h-1zM2 53h1v1h-1zM45 53h1v1h-1zM6 54h1v1h-1zM11 54h1v1h-1zM36 54h1v1h-1zM41 54h1v1h-1zM46 54h1v1h-1zM14 55h1v1h-1zM33 55h1v1h-1zM49 56h1v1h-1zM45 58h1v1h-1zM24 60h1v1h-1zM28 60h1v1h-1zM3 61h1v1h-1zM7 63h1v1h-1zM45 63h1v1h-1zM23 65h1v1h-1zM29 65h1v1h-1zM44 66h1v1h-1zM7 68h1v1h-1zM34 70h1v1h-1zM39 71h1v1h-1zM7 73h1v1h-1zM13 75h1v1h-1zM39 75h1v1h-1zM13 76h1v1h-1zM34 76h1v1h-1zM7 78h1v1h-1zM8 80h1v1h-1zM18 81h1v1h-1zM7 83h1v1h-1zM44 85h1v1h-1zM23 86h2v1h-2zM45 88h1v1h-1zM3 90h1v1h-1zM49 90h1v1h-1zM19 91h1v1h-1zM16 92h1v1h-1zM21 92h1v1h-1zM26 92h1v1h-1zM31 92h1v1h-1zM36 92h1v1h-1zM45 93h1v1h-1zM49 95h1v1h-1zM97 95h1v1h-1zM9 96h1v1h-1zM38 96h1v1h-1zM1 97h1v1h-1zM46 97h1v1h-1zM51 97h1v1h-1zM95 97h1v1h-1zM2 98h1v1h-1z"/>
<path fill="#ff6800" d="M49 1h1v1h-1zM58 2h1v1h-1zM63 2h1v1h-1zM83 2h1v1h-1zM88 2h1v1h-1zM93 2h1v1h-1zM56 3h1v1h-1zM95 3h1v1h-1zM96 4h1v1h-1zM97 6h1v1h-1zM66 8h1v1h-1zM85 8h1v1h-1zM55 9h1v1h-1zM97 11h1v1h-1zM71 13h1v1h-1zM80 13h1v1h-1zM91 14h1v1h-1zM54 16h1v1h-1zM97 16h1v1h-1zM70 18h1v1h-1zM76 18h1v1h-1zM60 19h1v1h-1zM86 19h1v1h-1zM54 21h1v1h-1zM81 23h1v1h-1zM65 24h1v1h-1zM54 26h1v1h-1zM86 28h1v1h-1zM70 29h1v1h-1zM81 29h1v1h-1zM54 31h1v1h-1zM60 33h1v1h-1zM91 33h1v1h-1zM75 34h1v1h-1zM97 36h1v1h-1zM55 38h1v1h-1zM66 39h1v1h-1zM80 39h1v1h-1zM97 41h1v1h-1zM96 43h1v1h-1zM61 44h1v1h-1zM90 44h1v1h-1zM68 45h1v1h-1zM73 45h1v1h-1zM78 45h1v1h-1zM83 45h1v1h-1zM49 46h1v1h-1zM50 48h1v1h-1zM1 49h1v1h-1zM46 49h1v1h-1zM51 49h1v1h-1zM48 50h1v1h-1zM53 50h1v1h-1zM98 50h1v1h-1zM49 51h1v1h-1zM50 53h1v1h-1zM16 54h1v1h-1zM21 54h1v1h-1zM26 54h1v1h-1zM31 54h1v1h-1zM9 55h1v1h-1zM38 55h1v1h-1zM3 56h1v1h-1zM2 58h1v1h-1zM19 60h1v1h-1zM33 60h1v1h-1zM44 61h1v1h-1zM2 63h1v1h-1zM24 65h1v1h-1zM8 66h1v1h-1zM39 66h1v1h-1zM45 68h1v1h-1zM18 70h1v1h-1zM29 70h1v1h-1zM13 71h1v1h-1zM45 73h1v1h-1zM34 75h1v1h-1zM18 76h1v1h-1zM45 78h1v1h-1zM13 80h1v1h-1zM39 80h1v1h-1zM23 81h1v1h-1zM29 81h1v1h-1zM2 83h1v1h-1zM45 83h1v1h-1zM8 85h1v1h-1zM19 86h1v1h-1zM28 86h1v1h-1zM2 88h1v1h-1zM44 90h1v1h-1zM14 91h1v1h-1zM33 91h1v1h-1zM2 93h1v1h-1zM3 95h1v1h-1zM4 96h1v1h-1zM43 96h1v1h-1zM6 97h1v1h-1zM11 97h1v1h-1zM16 97h1v1h-1zM36 97h1v1h-1zM41 97h1v1h-1zM50 98h1v1h-1z"/>
<path fill="#ff5800" d="M3 1h1v1h-1zM68 2h1v1h-1zM73 2h1v1h-1zM78 2h1v1h-1zM1 3h1v1h-1zM6 3h1v1h-1zM46 3h1v1h-1zM51 3h1v1h-1zM55 4h1v1h-1zM3 6h1v1h-1zM49 6h1v1h-1zM56 8h1v1h-1zM61 8h1v1h-1zM90 8h1v1h-1zM91 9h1v1h-1zM49 11h1v1h-1zM66 13h1v1h-1zM60 14h1v1h-1zM49 16h1v1h-1zM71 18h1v1h-1zM75 18h1v1h-1zM65 19h1v1h-1zM49 21h1v1h-1zM97 21h1v1h-1zM70 23h1v1h-1zM76 23h1v1h-1zM70 24h1v1h-1zM81 24h1v1h-1zM49 26h1v1h-1zM97 26h1v1h-1zM65 28h1v1h-1zM81 28h1v1h-1zM75 29h2v1h-2zM49 31h1v1h-1zM97 31h1v1h-1zM86 33h1v1h-1zM71 34h1v1h-1zM80 34h1v1h-1zM49 36h1v1h-1zM60 38h1v1h-1zM91 38h1v1h-1zM61 39h1v1h-1zM85 39h1v1h-1zM49 41h1v1h-1zM55 43h1v1h-1zM91 43h1v1h-1zM51 44h1v1h-1zM56 44h1v1h-1zM95 44h1v1h-1zM3 46h1v1h-1zM55 48h1v1h-1zM96 48h1v1h-1zM6 49h1v1h-1zM11 49h1v1h-1zM16 49h1v1h-1zM21 49h1v1h-1zM26 49h1v1h-1zM31 49h1v1h-1zM36 49h1v1h-1zM41 49h1v1h-1zM58 50h1v1h-1zM63 50h1v1h-1zM68 50h1v1h-1zM73 50h1v1h-1zM78 50h1v1h-1zM83 50h1v1h-1zM88 50h1v1h-1zM93 50h1v1h-1zM3 51h1v1h-1zM44 51h1v1h-1zM96 53h1v1h-1zM4 55h1v1h-1zM43 55h1v1h-1zM48 55h1v1h-1zM8 56h1v1h-1zM44 56h1v1h-1zM50 58h1v1h-1zM14 60h1v1h-1zM38 60h1v1h-1zM8 61h1v1h-1zM39 61h1v1h-1zM50 63h1v1h-1zM19 65h1v1h-1zM28 65h1v1h-1zM13 66h1v1h-1zM2 68h1v1h-1zM50 68h1v1h-1zM23 70h2v1h-2zM18 71h1v1h-1zM34 71h1v1h-1zM2 73h1v1h-1zM50 73h1v1h-1zM18 75h1v1h-1zM29 75h1v1h-1zM23 76h1v1h-1zM29 76h1v1h-1zM2 78h1v1h-1zM50 78h1v1h-1zM34 80h1v1h-1zM24 81h1v1h-1zM28 81h1v1h-1zM50 83h1v1h-1zM39 85h1v1h-1zM33 86h1v1h-1zM50 88h1v1h-1zM8 90h1v1h-1zM9 91h1v1h-1zM38 91h1v1h-1zM43 91h1v1h-1zM50 93h1v1h-1zM96 93h1v1h-1zM44 95h1v1h-1zM48 96h1v1h-1zM53 96h1v1h-1zM93 96h1v1h-1zM98 96h1v1h-1zM21 97h1v1h-1zM26 97h1v1h-1zM31 97h1v1h-1zM96 98h1v1h-1z"/>
<path fill="#ff4800" d="M8 1h1v1h-1zM44 1h1v1h-1zM11 3h1v1h-1zM16 3h1v1h-1zM21 3h1v1h-1zM26 3h1v1h-1zM31 3h1v1h-1zM36 3h1v1h-1zM41 3h1v1h-1zM60 4h1v1h-1zM91 4h1v1h-1zM44 6h1v1h-1zM1 8h1v1h-1zM51 8h1v1h-1zM95 8h1v1h-1zM60 9h1v1h-1zM86 9h1v1h-1zM3 11h1v1h-1zM61 13h1v1h-1zM85 13h1v1h-1zM90 13h1v1h-1zM65 14h1v1h-1zM86 14h1v1h-1zM3 16h1v1h-1zM66 18h1v1h-1zM80 18h1v1h-1zM81 19h1v1h-1zM3 21h1v1h-1zM75 23h1v1h-1zM76 24h1v1h-1zM3 26h1v1h-1zM70 28h1v1h-1zM71 29h1v1h-1zM3 31h1v1h-1zM65 33h1v1h-1zM81 33h1v1h-1zM66 34h1v1h-1zM85 34h1v1h-1zM3 36h1v1h-1zM86 38h1v1h-1zM56 39h1v1h-1zM90 39h1v1h-1zM95 39h1v1h-1zM3 41h1v1h-1zM44 41h1v1h-1zM60 43h1v1h-1zM1 44h1v1h-1zM6 44h1v1h-1zM41 44h1v1h-1zM46 44h1v1h-1zM44 46h1v1h-1zM91 48h1v1h-1zM8 51h1v1h-1zM55 53h1v1h-1zM53 55h1v1h-1zM58 55h1v1h-1zM93 55h1v1h-1zM98 55h1v1h-1zM39 56h1v1h-1zM55 58h1v1h-1zM96 58h1v1h-1zM4 60h1v1h-1zM9 60h1v1h-1zM43 60h1v1h-1zM13 61h1v1h-1zM96 63h1v1h-1zM14 65h1v1h-1zM33 65h1v1h-1zM18 66h1v1h-1zM34 66h1v1h-1zM96 68h1v1h-1zM28 70h1v1h-1zM29 71h1v1h-1zM96 73h1v1h-1zM23 75h1v1h-1zM24 76h1v1h-1zM96 78h1v1h-1zM18 80h1v1h-1zM19 81h1v1h-1zM33 81h1v1h-1zM96 83h1v1h-1zM13 85h1v1h-1zM34 85h1v1h-1zM9 86h1v1h-1zM14 86h1v1h-1zM38 86h1v1h-1zM96 88h1v1h-1zM13 90h1v1h-1zM39 90h1v1h-1zM4 91h1v1h-1zM48 91h1v1h-1zM98 91h1v1h-1zM55 93h1v1h-1zM8 95h1v1h-1zM39 95h1v1h-1zM58 96h1v1h-1zM63 96h1v1h-1zM68 96h1v1h-1zM73 96h1v1h-1zM78 96h1v1h-1zM83 96h1v1h-1zM88 96h1v1h-1zM55 98h1v1h-1zM91 98h1v1h-1z"/>
<path fill="#ff3800" d="M39 1h1v1h-1zM86 4h1v1h-1zM8 6h1v1h-1zM6 8h1v1h-1zM11 8h1v1h-1zM41 8h1v1h-1zM46 8h1v1h-1zM65 9h1v1h-1zM8 11h1v1h-1zM44 11h1v1h-1zM56 13h1v1h-1zM95 13h1v1h-1zM81 14h1v1h-1zM44 16h1v1h-1zM61 18h1v1h-1zM85 18h1v1h-1zM70 19h1v1h-1zM76 19h1v1h-1zM44 21h1v1h-1zM71 23h1v1h-1zM80 23h1v1h-1zM71 24h1v1h-1zM75 24h1v1h-1zM44 26h1v1h-1zM75 28h2v1h-2zM66 29h1v1h-1zM80 29h1v1h-1zM44 31h1v1h-1zM70 33h1v1h-1zM61 34h1v1h-1zM90 34h1v1h-1zM44 36h1v1h-1zM65 38h1v1h-1zM81 38h1v1h-1zM1 39h1v1h-1zM46 39h1v1h-1zM51 39h1v1h-1zM8 41h1v1h-1zM86 43h1v1h-1zM11 44h1v1h-1zM16 44h1v1h-1zM21 44h1v1h-1zM26 44h1v1h-1zM31 44h1v1h-1zM36 44h1v1h-1zM8 46h1v1h-1zM39 46h1v1h-1zM60 48h1v1h-1zM39 51h1v1h-1zM60 53h1v1h-1zM91 53h1v1h-1zM63 55h1v1h-1zM68 55h1v1h-1zM73 55h1v1h-1zM78 55h1v1h-1zM83 55h1v1h-1zM88 55h1v1h-1zM13 56h1v1h-1zM91 58h1v1h-1zM48 60h1v1h-1zM53 60h1v1h-1zM98 60h1v1h-1zM18 61h1v1h-1zM34 61h1v1h-1zM55 63h1v1h-1zM9 65h1v1h-1zM38 65h1v1h-1zM29 66h1v1h-1zM55 68h1v1h-1zM19 70h1v1h-1zM33 70h1v1h-1zM23 71h2v1h-2zM55 73h1v1h-1zM24 75h1v1h-1zM28 75h1v1h-1zM19 76h1v1h-1zM28 76h1v1h-1zM55 78h1v1h-1zM23 80h1v1h-1zM29 80h1v1h-1zM14 81h1v1h-1zM38 81h1v1h-1zM55 83h1v1h-1zM18 85h1v1h-1zM4 86h1v1h-1zM43 86h1v1h-1zM55 88h1v1h-1zM91 88h1v1h-1zM34 90h1v1h-1zM53 91h1v1h-1zM58 91h1v1h-1zM88 91h1v1h-1zM93 91h1v1h-1zM91 93h1v1h-1zM13 95h1v1h-1zM60 98h1v1h-1z"/>
<path fill="#ff2800" d="M13 1h1v1h-1zM65 4h1v1h-1zM13 6h1v1h-1zM39 6h1v1h-1zM16 8h1v1h-1zM21 8h1v1h-1zM26 8h1v1h-1zM31 8h1v1h-1zM36 8h1v1h-1zM70 9h1v1h-1zM81 9h1v1h-1zM39 11h1v1h-1zM1 13h1v1h-1zM6 13h1v1h-1zM46 13h1v1h-1zM51 13h1v1h-1zM70 14h1v1h-1zM76 14h1v1h-1zM8 16h1v1h-1zM39 16h1v1h-1zM56 18h1v1h-1zM90 18h1v1h-1zM71 19h1v1h-1zM75 19h1v1h-1zM8 21h1v1h-1zM66 23h1v1h-1zM85 23h1v1h-1zM66 24h1v1h-1zM80 24h1v1h-1zM8 26h1v1h-1zM71 28h1v1h-1zM80 28h1v1h-1zM61 29h1v1h-1zM85 29h1v1h-1zM90 29h1v1h-1zM8 31h1v1h-1zM39 31h1v1h-1zM75 33h2v1h-2zM51 34h1v1h-1zM56 34h1v1h-1zM95 34h1v1h-1zM8 36h1v1h-1zM39 36h1v1h-1zM70 38h1v1h-1zM6 39h1v1h-1zM11 39h1v1h-1zM16 39h1v1h-1zM31 39h1v1h-1zM36 39h1v1h-1zM41 39h1v1h-1zM39 41h1v1h-1zM65 43h1v1h-1zM81 43h1v1h-1zM13 46h1v1h-1zM65 48h1v1h-1zM86 48h1v1h-1zM13 51h1v1h-1zM34 51h1v1h-1zM86 53h1v1h-1zM18 56h1v1h-1zM34 56h1v1h-1zM60 58h1v1h-1zM58 60h1v1h-1zM63 60h1v1h-1zM68 60h1v1h-1zM83 60h1v1h-1zM88 60h1v1h-1zM93 60h1v1h-1zM29 61h1v1h-1zM60 63h1v1h-1zM91 63h1v1h-1zM4 65h1v1h-1zM43 65h1v1h-1zM48 65h1v1h-1zM23 66h2v1h-2zM60 68h1v1h-1zM91 68h1v1h-1zM9 70h1v1h-1zM14 70h1v1h-1zM38 70h1v1h-1zM19 71h1v1h-1zM28 71h1v1h-1zM91 73h1v1h-1zM19 75h1v1h-1zM33 75h1v1h-1zM14 76h1v1h-1zM33 76h1v1h-1zM91 78h1v1h-1zM24 80h1v1h-1zM28 80h1v1h-1zM9 81h1v1h-1zM43 81h1v1h-1zM60 83h1v1h-1zM91 83h1v1h-1zM23 85h1v1h-1zM29 85h1v1h-1zM48 86h1v1h-1zM53 86h1v1h-1zM93 86h1v1h-1zM98 86h1v1h-1zM60 88h1v1h-1zM18 90h1v1h-1zM29 90h1v1h-1zM63 91h1v1h-1zM68 91h1v1h-1zM73 91h1v1h-1zM78 91h1v1h-1zM83 91h1v1h-1zM60 93h1v1h-1zM86 93h1v1h-1zM34 95h1v1h-1zM86 98h1v1h-1z"/>
<path fill="#ff1800" d="M18 1h1v1h-1zM34 1h1v1h-1zM70 4h1v1h-1zM81 4h1v1h-1zM34 6h1v1h-1zM76 9h1v1h-1zM13 11h1v1h-1zM11 13h1v1h-1zM16 13h1v1h-1zM21 13h1v1h-1zM26 13h1v1h-1zM31 13h1v1h-1zM36 13h1v1h-1zM41 13h1v1h-1zM71 14h1v1h-1zM75 14h1v1h-1zM13 16h1v1h-1zM1 18h1v1h-1zM51 18h1v1h-1zM95 18h1v1h-1zM66 19h1v1h-1zM80 19h1v1h-1zM13 21h1v1h-1zM39 21h1v1h-1zM56 23h1v1h-1zM61 23h1v1h-1zM90 23h1v1h-1zM61 24h1v1h-1zM85 24h1v1h-1zM13 26h1v1h-1zM39 26h1v1h-1zM66 28h1v1h-1zM85 28h1v1h-1zM56 29h1v1h-1zM95 29h1v1h-1zM13 31h1v1h-1zM71 33h1v1h-1zM80 33h1v1h-1zM1 34h1v1h-1zM6 34h1v1h-1zM41 34h1v1h-1zM46 34h1v1h-1zM13 36h1v1h-1zM75 38h2v1h-2zM21 39h1v1h-1zM26 39h1v1h-1zM13 41h1v1h-1zM34 41h1v1h-1zM70 43h1v1h-1zM76 43h1v1h-1zM34 46h1v1h-1zM81 48h1v1h-1zM18 51h1v1h-1zM65 53h1v1h-1zM23 56h1v1h-1zM29 56h1v1h-1zM65 58h1v1h-1zM86 58h1v1h-1zM73 60h1v1h-1zM78 60h1v1h-1zM23 61h2v1h-2zM86 63h1v1h-1zM53 65h1v1h-1zM58 65h1v1h-1zM93 65h1v1h-1zM98 65h1v1h-1zM19 66h1v1h-1zM28 66h1v1h-1zM86 68h1v1h-1zM4 70h1v1h-1zM43 70h1v1h-1zM14 71h1v1h-1zM33 71h1v1h-1zM60 73h1v1h-1zM86 73h1v1h-1zM14 75h1v1h-1zM38 75h1v1h-1zM9 76h1v1h-1zM38 76h1v1h-1zM43 76h1v1h-1zM60 78h1v1h-1zM86 78h1v1h-1zM19 80h1v1h-1zM33 80h1v1h-1zM4 81h1v1h-1zM48 81h1v1h-1zM98 81h1v1h-1zM86 83h1v1h-1zM24 85h1v1h-1zM28 85h1v1h-1zM58 86h1v1h-1zM63 86h1v1h-1zM68 86h1v1h-1zM73 86h1v1h-1zM78 86h1v1h-1zM83 86h1v1h-1zM88 86h1v1h-1zM86 88h1v1h-1zM23 90h1v1h-1zM65 93h1v1h-1zM18 95h1v1h-1zM29 95h1v1h-1zM65 98h1v1h-1zM81 98h1v1h-1z"/>
<path fill="#ff0800" d="M29 1h1v1h-1zM75 4h2v1h-2zM18 6h1v1h-1zM29 6h1v1h-1zM71 9h1v1h-1zM75 9h1v1h-1zM18 11h1v1h-1zM34 11h1v1h-1zM66 14h1v1h-1zM80 14h1v1h-1zM18 16h1v1h-1zM34 16h1v1h-1zM6 18h1v1h-1zM11 18h1v1h-1zM16 18h1v1h-1zM36 18h1v1h-1zM41 18h1v1h-1zM46 18h1v1h-1zM61 19h1v1h-1zM85 19h1v1h-1zM34 21h1v1h-1zM51 23h1v1h-1zM95 23h1v1h-1zM56 24h1v1h-1zM90 24h1v1h-1zM95 24h1v1h-1zM34 26h1v1h-1zM61 28h1v1h-1zM90 28h1v1h-1zM1 29h1v1h-1zM6 29h1v1h-1zM46 29h1v1h-1zM51 29h1v1h-1zM34 31h1v1h-1zM66 33h1v1h-1zM85 33h1v1h-1zM11 34h1v1h-1zM16 34h1v1h-1zM21 34h1v1h-1zM26 34h1v1h-1zM31 34h1v1h-1zM36 34h1v1h-1zM18 36h1v1h-1zM34 36h1v1h-1zM71 38h1v1h-1zM80 38h1v1h-1zM18 41h1v1h-1zM75 43h1v1h-1zM18 46h1v1h-1zM29 46h1v1h-1zM70 48h1v1h-1zM76 48h1v1h-1zM23 51h1v1h-1zM29 51h1v1h-1zM70 53h1v1h-1zM81 53h1v1h-1zM24 56h1v1h-1zM81 58h1v1h-1zM19 61h1v1h-1zM28 61h1v1h-1zM65 63h1v1h-1zM81 63h1v1h-1zM63 65h1v1h-1zM68 65h1v1h-1zM73 65h1v1h-1zM78 65h1v1h-1zM83 65h1v1h-1zM88 65h1v1h-1zM14 66h1v1h-1zM33 66h1v1h-1zM65 68h1v1h-1zM48 70h1v1h-1zM53 70h1v1h-1zM93 70h1v1h-1zM98 70h1v1h-1zM9 71h1v1h-1zM38 71h1v1h-1zM65 73h1v1h-1zM4 75h1v1h-1zM9 75h1v1h-1zM43 75h1v1h-1zM4 76h1v1h-1zM48 76h1v1h-1zM65 78h1v1h-1zM14 80h1v1h-1zM38 80h1v1h-1zM53 81h1v1h-1zM58 81h1v1h-1zM63 81h1v1h-1zM83 81h1v1h-1zM88 81h1v1h-1zM93 81h1v1h-1zM65 83h1v1h-1zM81 83h1v1h-1zM19 85h1v1h-1zM33 85h1v1h-1zM65 88h1v1h-1zM81 88h1v1h-1zM24 90h1v1h-1zM28 90h1v1h-1zM70 93h1v1h-1zM81 93h1v1h-1zM23 95h2v1h-2zM70 98h1v1h-1z"/>
<path fill="#f40000" d="M23 1h2v1h-2zM71 4h1v1h-1zM23 6h1v1h-1zM66 9h1v1h-1zM80 9h1v1h-1zM23 11h1v1h-1zM29 11h1v1h-1zM61 14h1v1h-1zM85 14h1v1h-1zM29 16h1v1h-1zM21 18h1v1h-1zM26 18h1v1h-1zM31 18h1v1h-1zM56 19h1v1h-1zM90 19h1v1h-1zM18 21h1v1h-1zM29 21h1v1h-1zM1 23h1v1h-1zM6 23h1v1h-1zM11 23h1v1h-1zM41 23h1v1h-1zM46 23h1v1h-1zM1 24h1v1h-1zM46 24h1v1h-1zM51 24h1v1h-1zM18 26h1v1h-1zM29 26h1v1h-1zM51 28h1v1h-1zM56 28h1v1h-1zM95 28h1v1h-1zM11 29h1v1h-1zM16 29h1v1h-1zM21 29h1v1h-1zM26 29h1v1h-1zM31 29h1v1h-1zM36 29h1v1h-1zM41 29h1v1h-1zM18 31h1v1h-1zM29 31h1v1h-1zM61 33h1v1h-1zM90 33h1v1h-1zM29 36h1v1h-1zM66 38h1v1h-1zM85 38h1v1h-1zM23 41h1v1h-1zM29 41h1v1h-1zM71 43h1v1h-1zM80 43h1v1h-1zM23 46h2v1h-2zM71 48h1v1h-1zM75 48h1v1h-1zM24 51h1v1h-1zM28 51h1v1h-1zM75 53h2v1h-2zM19 56h1v1h-1zM28 56h1v1h-1zM70 58h1v1h-1zM76 58h1v1h-1zM14 61h1v1h-1zM33 61h1v1h-1zM70 63h1v1h-1zM9 66h1v1h-1zM38 66h1v1h-1zM70 68h1v1h-1zM81 68h1v1h-1zM58 70h1v1h-1zM63 70h1v1h-1zM68 70h1v1h-1zM73 70h1v1h-1zM78 70h1v1h-1zM83 70h1v1h-1zM88 70h1v1h-1zM4 71h1v1h-1zM43 71h1v1h-1zM48 71h1v1h-1zM70 73h1v1h-1zM81 73h1v1h-1zM48 75h1v1h-1zM53 75h1v1h-1zM98 75h1v1h-1zM53 76h1v1h-1zM58 76h1v1h-1zM88 76h1v1h-1zM93 76h1v1h-1zM98 76h1v1h-1zM70 78h1v1h-1zM81 78h1v1h-1zM9 80h1v1h-1zM43 80h1v1h-1zM68 81h1v1h-1zM73 81h1v1h-1zM78 81h1v1h-1zM70 83h1v1h-1zM14 85h1v1h-1zM38 85h1v1h-1zM70 88h1v1h-1zM76 88h1v1h-1zM19 90h1v1h-1zM33 90h1v1h-1zM76 93h1v1h-1zM28 95h1v1h-1zM75 98h2v1h-2z"/>
<path fill="#dd0000" d="M19 1h1v1h-1zM28 1h1v1h-1zM66 4h1v1h-1zM80 4h1v1h-1zM24 6h1v1h-1zM28 6h1v1h-1zM61 9h1v1h-1zM85 9h1v1h-1zM24 11h1v1h-1zM56 14h1v1h-1zM90 14h1v1h-1zM23 16h2v1h-2zM1 19h1v1h-1zM51 19h1v1h-1zM95 19h1v1h-1zM23 21h1v1h-1zM16 23h1v1h-1zM21 23h1v1h-1zM26 23h1v1h-1zM31 23h1v1h-1zM36 23h1v1h-1zM6 24h1v1h-1zM11 24h1v1h-1zM16 24h1v1h-1zM31 24h1v1h-1zM36 24h1v1h-1zM41 24h1v1h-1zM23 26h1v1h-1zM1 28h1v1h-1zM6 28h1v1h-1zM41 28h1v1h-1zM46 28h1v1h-1zM23 31h2v1h-2zM51 33h1v1h-1zM56 33h1v1h-1zM95 33h1v1h-1zM23 36h2v1h-2zM61 38h1v1h-1zM90 38h1v1h-1zM24 41h1v1h-1zM28 41h1v1h-1zM66 43h1v1h-1zM85 43h1v1h-1zM28 46h1v1h-1zM66 48h1v1h-1zM80 48h1v1h-1zM19 51h1v1h-1zM33 51h1v1h-1zM71 53h1v1h-1zM14 56h1v1h-1zM33 56h1v1h-1zM71 58h1v1h-1zM75 58h1v1h-1zM9 61h1v1h-1zM38 61h1v1h-1zM75 63h2v1h-2zM4 66h1v1h-1zM43 66h1v1h-1zM48 66h1v1h-1zM75 68h2v1h-2zM53 71h1v1h-1zM58 71h1v1h-1zM93 71h1v1h-1zM98 71h1v1h-1zM76 73h1v1h-1zM58 75h1v1h-1zM63 75h1v1h-1zM68 75h1v1h-1zM83 75h1v1h-1zM88 75h1v1h-1zM93 75h1v1h-1zM63 76h1v1h-1zM68 76h1v1h-1zM73 76h1v1h-1zM78 76h1v1h-1zM83 76h1v1h-1zM76 78h1v1h-1zM4 80h1v1h-1zM48 80h1v1h-1zM98 80h1v1h-1zM75 83h2v1h-2zM9 85h1v1h-1zM43 85h1v1h-1zM75 88h1v1h-1zM14 90h1v1h-1zM38 90h1v1h-1zM71 93h1v1h-1zM75 93h1v1h-1zM19 95h1v1h-1zM33 95h1v1h-1zM71 98h1v1h-1zM80 98h1v1h-1z"/>
<path fill="#c60000" d="M14 1h1v1h-1zM33 1h1v1h-1zM61 4h1v1h-1zM85 4h1v1h-1zM19 6h1v1h-1zM33 6h1v1h-1zM56 9h1v1h-1zM90 9h1v1h-1zM19 11h1v1h-1zM28 11h1v1h-1zM1 14h1v1h-1zM51 14h1v1h-1zM95 14h1v1h-1zM19 16h1v1h-1zM28 16h1v1h-1zM6 19h1v1h-1zM11 19h1v1h-1zM16 19h1v1h-1zM36 19h1v1h-1zM41 19h1v1h-1zM46 19h1v1h-1zM24 21h1v1h-1zM28 21h1v1h-1zM21 24h1v1h-1zM26 24h1v1h-1zM24 26h1v1h-1zM28 26h1v1h-1zM11 28h1v1h-1zM16 28h1v1h-1zM21 28h1v1h-1zM26 28h1v1h-1zM31 28h1v1h-1zM36 28h1v1h-1zM28 31h1v1h-1zM1 33h1v1h-1zM6 33h1v1h-1zM46 33h1v1h-1zM19 36h1v1h-1zM28 36h1v1h-1zM51 38h1v1h-1zM56 38h1v1h-1zM95 38h1v1h-1zM19 41h1v1h-1zM61 43h1v1h-1zM90 43h1v1h-1zM19 46h1v1h-1zM33 46h1v1h-1zM61 48h1v1h-1zM85 48h1v1h-1zM14 51h1v1h-1zM38 51h1v1h-1zM66 53h1v1h-1zM80 53h1v1h-1zM9 56h1v1h-1zM38 56h1v1h-1zM80 58h1v1h-1zM4 61h1v1h-1zM43 61h1v1h-1zM48 61h1v1h-1zM71 63h1v1h-1zM80 63h1v1h-1zM53 66h1v1h-1zM93 66h1v1h-1zM98 66h1v1h-1zM71 68h1v1h-1zM63 71h1v1h-1zM68 71h1v1h-1zM73 71h1v1h-1zM78 71h1v1h-1zM83 71h1v1h-1zM88 71h1v1h-1zM71 73h1v1h-1zM75 73h1v1h-1zM73 75h1v1h-1zM78 75h1v1h-1zM71 78h1v1h-1zM75 78h1v1h-1zM53 80h1v1h-1zM58 80h1v1h-1zM63 80h1v1h-1zM83 80h1v1h-1zM88 80h1v1h-1zM93 80h1v1h-1zM71 83h1v1h-1zM80 83h1v1h-1zM4 85h1v1h-1zM48 85h1v1h-1zM98 85h1v1h-1zM71 88h1v1h-1zM80 88h1v1h-1zM9 90h1v1h-1zM43 90h1v1h-1zM66 93h1v1h-1zM80 93h1v1h-1zM14 95h1v1h-1zM38 95h1v1h-1zM66 98h1v1h-1zM85 98h1v1h-1z"/>
<path fill="#af0000" d="M9 1h1v1h-1zM38 1h1v1h-1zM56 4h1v1h-1zM90 4h1v1h-1zM95 4h1v1h-1zM14 6h1v1h-1zM38 6h1v1h-1zM1 9h1v1h-1zM46 9h1v1h-1zM51 9h1v1h-1zM95 9h1v1h-1zM14 11h1v1h-1zM33 11h1v1h-1zM6 14h1v1h-1zM11 14h1v1h-1zM36 14h1v1h-1zM41 14h1v1h-1zM46 14h1v1h-1zM33 16h1v1h-1zM21 19h1v1h-1zM26 19h1v1h-1zM31 19h1v1h-1zM19 21h1v1h-1zM33 21h1v1h-1zM19 26h1v1h-1zM33 26h1v1h-1zM19 31h1v1h-1zM33 31h1v1h-1zM11 33h1v1h-1zM16 33h1v1h-1zM21 33h1v1h-1zM26 33h1v1h-1zM31 33h1v1h-1zM36 33h1v1h-1zM41 33h1v1h-1zM14 36h1v1h-1zM33 36h1v1h-1zM1 38h1v1h-1zM6 38h1v1h-1zM41 38h1v1h-1zM46 38h1v1h-1zM14 41h1v1h-1zM33 41h1v1h-1zM38 41h1v1h-1zM51 43h1v1h-1zM56 43h1v1h-1zM95 43h1v1h-1zM9 46h1v1h-1zM14 46h1v1h-1zM38 46h1v1h-1zM56 48h1v1h-1zM90 48h1v1h-1zM9 51h1v1h-1zM43 51h1v1h-1zM61 53h1v1h-1zM85 53h1v1h-1zM90 53h1v1h-1zM4 56h1v1h-1zM43 56h1v1h-1zM48 56h1v1h-1zM61 58h1v1h-1zM66 58h1v1h-1zM85 58h1v1h-1zM53 61h1v1h-1zM58 61h1v1h-1zM93 61h1v1h-1zM98 61h1v1h-1zM66 63h1v1h-1zM85 63h1v1h-1zM58 66h1v1h-1zM63 66h1v1h-1zM68 66h1v1h-1zM73 66h1v1h-1zM78 66h1v1h-1zM83 66h1v1h-1zM88 66h1v1h-1zM66 68h1v1h-1zM80 68h1v1h-1zM66 73h1v1h-1zM80 73h1v1h-1zM66 78h1v1h-1zM80 78h1v1h-1zM68 80h1v1h-1zM73 80h1v1h-1zM78 80h1v1h-1zM66 83h1v1h-1zM53 85h1v1h-1zM58 85h1v1h-1zM63 85h1v1h-1zM88 85h1v1h-1zM93 85h1v1h-1zM66 88h1v1h-1zM85 88h1v1h-1zM4 90h1v1h-1zM48 90h1v1h-1zM53 90h1v1h-1zM98 90h1v1h-1zM61 93h1v1h-1zM85 93h1v1h-1zM4 95h1v1h-1zM9 95h1v1h-1zM43 95h1v1h-1zM61 98h1v1h-1zM90 98h1v1h-1z"/>
<path fill="#980000" d="M4 1h1v1h-1zM43 1h1v1h-1zM48 1h1v1h-1zM1 4h1v1h-1zM6 4h1v1h-1zM46 4h1v1h-1zM51 4h1v1h-1zM4 6h1v1h-1zM9 6h1v1h-1zM43 6h1v1h-1zM6 9h1v1h-1zM11 9h1v1h-1zM16 9h1v1h-1zM36 9h1v1h-1zM41 9h1v1h-1zM9 11h1v1h-1zM38 11h1v1h-1zM16 14h1v1h-1zM21 14h1v1h-1zM26 14h1v1h-1zM31 14h1v1h-1zM9 16h1v1h-1zM14 16h1v1h-1zM38 16h1v1h-1zM14 21h1v1h-1zM38 21h1v1h-1zM14 26h1v1h-1zM38 26h1v1h-1zM14 31h1v1h-1zM38 31h1v1h-1zM9 36h1v1h-1zM38 36h1v1h-1zM11 38h1v1h-1zM16 38h1v1h-1zM21 38h1v1h-1zM26 38h1v1h-1zM31 38h1v1h-1zM36 38h1v1h-1zM9 41h1v1h-1zM43 41h1v1h-1zM1 43h1v1h-1zM6 43h1v1h-1zM41 43h1v1h-1zM46 43h1v1h-1zM4 46h1v1h-1zM43 46h1v1h-1zM1 48h1v1h-1zM51 48h1v1h-1zM95 48h1v1h-1zM4 51h1v1h-1zM48 51h1v1h-1zM98 51h1v1h-1zM56 53h1v1h-1zM95 53h1v1h-1zM53 56h1v1h-1zM58 56h1v1h-1zM93 56h1v1h-1zM98 56h1v1h-1zM56 58h1v1h-1zM90 58h1v1h-1zM63 61h1v1h-1zM68 61h1v1h-1zM73 61h1v1h-1zM78 61h1v1h-1zM83 61h1v1h-1zM88 61h1v1h-1zM61 63h1v1h-1zM90 63h1v1h-1zM61 68h1v1h-1zM85 68h1v1h-1zM61 73h1v1h-1zM85 73h1v1h-1zM61 78h1v1h-1zM85 78h1v1h-1zM61 83h1v1h-1zM85 83h1v1h-1zM90 83h1v1h-1zM68 85h1v1h-1zM73 85h1v1h-1zM78 85h1v1h-1zM83 85h1v1h-1zM61 88h1v1h-1zM90 88h1v1h-1zM58 90h1v1h-1zM63 90h1v1h-1zM83 90h1v1h-1zM88 90h1v1h-1zM93 90h1v1h-1zM56 93h1v1h-1zM90 93h1v1h-1zM95 93h1v1h-1zM48 95h1v1h-1zM53 95h1v1h-1zM93 95h1v1h-1zM98 95h1v1h-1zM51 98h1v1h-1zM56 98h1v1h-1zM95 98h1v1h-1z"/>
<path fill="#810000" d="M53 1h1v1h-1zM58 1h1v1h-1zM93 1h1v1h-1zM98 1h1v1h-1zM11 4h1v1h-1zM16 4h1v1h-1zM21 4h1v1h-1zM26 4h1v1h-1zM31 4h1v1h-1zM36 4h1v1h-1zM41 4h1v1h-1zM48 6h1v1h-1zM53 6h1v1h-1zM98 6h1v1h-1zM21 9h1v1h-1zM26 9h1v1h-1zM31 9h1v1h-1zM4 11h1v1h-1zM43 11h1v1h-1zM48 11h1v1h-1zM4 16h1v1h-1zM43 16h1v1h-1zM4 21h1v1h-1zM9 21h1v1h-1zM43 21h1v1h-1zM4 26h1v1h-1zM9 26h1v1h-1zM43 26h1v1h-1zM4 31h1v1h-1zM9 31h1v1h-1zM43 31h1v1h-1zM4 36h1v1h-1zM43 36h1v1h-1zM48 36h1v1h-1zM4 41h1v1h-1zM48 41h1v1h-1zM98 41h1v1h-1zM11 43h1v1h-1zM16 43h1v1h-1zM21 43h1v1h-1zM26 43h1v1h-1zM31 43h1v1h-1zM36 43h1v1h-1zM48 46h1v1h-1zM53 46h1v1h-1zM93 46h1v1h-1zM98 46h1v1h-1zM6 48h1v1h-1zM11 48h1v1h-1zM36 48h1v1h-1zM41 48h1v1h-1zM46 48h1v1h-1zM53 51h1v1h-1zM58 51h1v1h-1zM63 51h1v1h-1zM88 51h1v1h-1zM93 51h1v1h-1zM1 53h1v1h-1zM6 53h1v1h-1zM46 53h1v1h-1zM51 53h1v1h-1zM63 56h1v1h-1zM68 56h1v1h-1zM73 56h1v1h-1zM78 56h1v1h-1zM83 56h1v1h-1zM88 56h1v1h-1zM1 58h1v1h-1zM51 58h1v1h-1zM95 58h1v1h-1zM51 63h1v1h-1zM56 63h1v1h-1zM95 63h1v1h-1zM56 68h1v1h-1zM90 68h1v1h-1zM95 68h1v1h-1zM56 73h1v1h-1zM90 73h1v1h-1zM95 73h1v1h-1zM56 78h1v1h-1zM90 78h1v1h-1zM95 78h1v1h-1zM56 83h1v1h-1zM95 83h1v1h-1zM51 88h1v1h-1zM56 88h1v1h-1zM95 88h1v1h-1zM68 90h1v1h-1zM73 90h1v1h-1zM78 90h1v1h-1zM1 93h1v1h-1zM46 93h1v1h-1zM51 93h1v1h-1zM58 95h1v1h-1zM63 95h1v1h-1zM68 95h1v1h-1zM73 95h1v1h-1zM78 95h1v1h-1zM83 95h1v1h-1zM88 95h1v1h-1zM1 98h1v1h-1zM6 98h1v1h-1zM41 98h1v1h-1zM46 98h1v1h-1z"/>
<path fill="#6a0000" d="M63 1h1v1h-1zM68 1h1v1h-1zM73 1h1v1h-1zM78 1h1v1h-1zM83 1h1v1h-1zM88 1h1v1h-1zM58 6h1v1h-1zM63 6h1v1h-1zM68 6h1v1h-1zM83 6h1v1h-1zM88 6h1v1h-1zM93 6h1v1h-1zM53 11h1v1h-1zM58 11h1v1h-1zM93 11h1v1h-1zM98 11h1v1h-1zM48 16h1v1h-1zM53 16h1v1h-1zM93 16h1v1h-1zM98 16h1v1h-1zM48 21h1v1h-1zM53 21h1v1h-1zM98 21h1v1h-1zM48 26h1v1h-1zM53 26h1v1h-1zM98 26h1v1h-1zM48 31h1v1h-1zM53 31h1v1h-1zM93 31h1v1h-1zM98 31h1v1h-1zM53 36h1v1h-1zM58 36h1v1h-1zM93 36h1v1h-1zM98 36h1v1h-1zM53 41h1v1h-1zM58 41h1v1h-1zM63 41h1v1h-1zM88 41h1v1h-1zM93 41h1v1h-1zM58 46h1v1h-1zM63 46h1v1h-1zM68 46h1v1h-1zM73 46h1v1h-1zM78 46h1v1h-1zM83 46h1v1h-1zM88 46h1v1h-1zM16 48h1v1h-1zM21 48h1v1h-1zM26 48h1v1h-1zM31 48h1v1h-1zM68 51h1v1h-1zM73 51h1v1h-1zM78 51h1v1h-1zM83 51h1v1h-1zM11 53h1v1h-1zM16 53h1v1h-1zM21 53h1v1h-1zM26 53h1v1h-1zM31 53h1v1h-1zM36 53h1v1h-1zM41 53h1v1h-1zM6 58h1v1h-1zM11 58h1v1h-1zM36 58h1v1h-1zM41 58h1v1h-1zM46 58h1v1h-1zM1 63h1v1h-1zM6 63h1v1h-1zM41 63h1v1h-1zM46 63h1v1h-1zM1 68h1v1h-1zM6 68h1v1h-1zM46 68h1v1h-1zM51 68h1v1h-1zM1 73h1v1h-1zM46 73h1v1h-1zM51 73h1v1h-1zM1 78h1v1h-1zM46 78h1v1h-1zM51 78h1v1h-1zM1 83h1v1h-1zM6 83h1v1h-1zM46 83h1v1h-1zM51 83h1v1h-1zM1 88h1v1h-1zM6 88h1v1h-1zM41 88h1v1h-1zM46 88h1v1h-1zM6 93h1v1h-1zM11 93h1v1h-1zM16 93h1v1h-1zM31 93h1v1h-1zM36 93h1v1h-1zM41 93h1v1h-1zM11 98h1v1h-1zM16 98h1v1h-1zM21 98h1v1h-1zM26 98h1v1h-1zM31 98h1v1h-1zM36 98h1v1h-1z"/>
<path fill="#530000" d="M73 6h1v1h-1zM78 6h1v1h-1zM63 11h1v1h-1zM68 11h1v1h-1zM73 11h1v1h-1zM78 11h1v1h-1zM83 11h1v1h-1zM88 11h1v1h-1zM58 16h1v1h-1zM63 16h1v1h-1zM68 16h1v1h-1zM73 16h1v1h-1zM78 16h1v1h-1zM83 16h1v1h-1zM88 16h1v1h-1zM58 21h1v1h-1zM63 21h1v1h-1zM68 21h1v1h-1zM73 21h1v1h-1zM78 21h1v1h-1zM83 21h1v1h-1zM88 21h1v1h-1zM93 21h1v1h-1zM58 26h1v1h-1zM63 26h1v1h-1zM68 26h1v1h-1zM73 26h1v1h-1zM78 26h1v1h-1zM83 26h1v1h-1zM88 26h1v1h-1zM93 26h1v1h-1zM58 31h1v1h-1zM63 31h1v1h-1zM68 31h1v1h-1zM73 31h1v1h-1zM78 31h1v1h-1zM83 31h1v1h-1zM88 31h1v1h-1zM63 36h1v1h-1zM68 36h1v1h-1zM73 36h1v1h-1zM78 36h1v1h-1zM83 36h1v1h-1zM88 36h1v1h-1zM68 41h1v1h-1zM73 41h1v1h-1zM78 41h1v1h-1zM83 41h1v1h-1zM16 58h1v1h-1zM21 58h1v1h-1zM26 58h1v1h-1zM31 58h1v1h-1zM11 63h1v1h-1zM16 63h1v1h-1zM21 63h1v1h-1zM26 63h1v1h-1zM31 63h1v1h-1zM36 63h1v1h-1zM11 68h1v1h-1zM16 68h1v1h-1zM21 68h1v1h-1zM26 68h1v1h-1zM31 68h1v1h-1zM36 68h1v1h-1zM41 68h1v1h-1zM6 73h1v1h-1zM11 73h1v1h-1zM16 73h1v1h-1zM21 73h1v1h-1zM26 73h1v1h-1zM31 73h1v1h-1zM36 73h1v1h-1zM41 73h1v1h-1zM6 78h1v1h-1zM11 78h1v1h-1zM16 78h1v1h-1zM21 78h1v1h-1zM26 78h1v1h-1zM31 78h1v1h-1zM36 78h1v1h-1zM41 78h1v1h-1zM11 83h1v1h-1zM16 83h1v1h-1zM21 83h1v1h-1zM26 83h1v1h-1zM31 83h1v1h-1zM36 83h1v1h-1zM41 83h1v1h-1zM11 88h1v1h-1zM16 88h1v1h-1zM21 88h1v1h-1zM26 88h1v1h-1zM31 88h1v1h-1zM36 88h1v1h-1zM21 93h1v1h-1zM26 93h1v1h-1z"/>
</g>
<path d="M22.1 288.4V471.09999999999997" stroke="#9a9a9a" stroke-width="0.8"/>
<text transform="translate(18.20,291.61) scale(1.110,1)" text-anchor="end" font-size="7.4" fill="#1a1a1a">0</text>
<text transform="translate(18.20,309.84) scale(1.110,1)" text-anchor="end" font-size="7.4" fill="#1a1a1a">10</text>
<text transform="translate(18.20,328.07) scale(1.110,1)" text-anchor="end" font-size="7.4" fill="#1a1a1a">20</text>
<text transform="translate(18.20,346.30) scale(1.110,1)" text-anchor="end" font-size="7.4" fill="#1a1a1a">30</text>
<text transform="translate(18.20,364.53) scale(1.110,1)" text-anchor="end" font-size="7.4" fill="#1a1a1a">40</text>
<text transform="translate(18.20,382.76) scale(1.110,1)" text-anchor="end" font-size="7.4" fill="#1a1a1a">50</text>
<text transform="translate(18.20,400.99) scale(1.110,1)" text-anchor="end" font-size="7.4" fill="#1a1a1a">60</text>
<text transform="translate(18.20,419.22) scale(1.110,1)" text-anchor="end" font-size="7.4" fill="#1a1a1a">70</text>
<text transform="translate(18.20,437.45) scale(1.110,1)" text-anchor="end" font-size="7.4" fill="#1a1a1a">80</text>
<text transform="translate(18.20,455.68) scale(1.110,1)" text-anchor="end" font-size="7.4" fill="#1a1a1a">90</text>
<text transform="translate(23.92,482.20) scale(1.150,1)" text-anchor="middle" font-size="7.4" fill="#1a1a1a">0</text>
<text transform="translate(76.64,482.20) scale(1.150,1)" text-anchor="middle" font-size="7.4" fill="#1a1a1a">20</text>
<text transform="translate(129.36,482.20) scale(1.150,1)" text-anchor="middle" font-size="7.4" fill="#1a1a1a">40</text>
<text transform="translate(182.08,482.20) scale(1.150,1)" text-anchor="middle" font-size="7.4" fill="#1a1a1a">60</text>
<text transform="translate(234.80,482.20) scale(1.150,1)" text-anchor="middle" font-size="7.4" fill="#1a1a1a">80</text>
<text transform="translate(154.60,283.00)" text-anchor="middle" font-size="10.5" fill="#000">recurrence plots</text>
<defs><linearGradient id="jet" x1="0" y1="0" x2="0" y2="1"><stop offset="0.0000" stop-color="#470000"/><stop offset="0.1250" stop-color="#ff0000"/><stop offset="0.3750" stop-color="#ffff00"/><stop offset="0.6250" stop-color="#00ffff"/><stop offset="0.8750" stop-color="#0000ff"/><stop offset="1.0000" stop-color="#000033"/></linearGradient><linearGradient id="gry" x1="0" y1="0" x2="0" y2="1"><stop offset="0" stop-color="#fff"/><stop offset="0.53" stop-color="#000"/><stop offset="1" stop-color="#000"/></linearGradient></defs>
<rect x="293.1" y="286.8" width="16.20" height="184.00" fill="url(#jet)" stroke="#444" stroke-width="0.8"/>
<text transform="translate(313.00,473.90) scale(1.030,1)" font-size="7.3" fill="#1a1a1a">0</text>
<text transform="translate(313.00,455.50) scale(1.030,1)" font-size="7.3" fill="#1a1a1a">0.2</text>
<text transform="translate(313.00,437.10) scale(1.030,1)" font-size="7.3" fill="#1a1a1a">0.4</text>
<text transform="translate(313.00,418.70) scale(1.030,1)" font-size="7.3" fill="#1a1a1a">0.6</text>
<text transform="translate(313.00,400.30) scale(1.030,1)" font-size="7.3" fill="#1a1a1a">0.8</text>
<text transform="translate(313.00,381.90) scale(1.030,1)" font-size="7.3" fill="#1a1a1a">1</text>
<text transform="translate(313.00,363.50) scale(1.030,1)" font-size="7.3" fill="#1a1a1a">1.2</text>
<text transform="translate(313.00,345.10) scale(1.030,1)" font-size="7.3" fill="#1a1a1a">1.4</text>
<text transform="translate(313.00,326.70) scale(1.030,1)" font-size="7.3" fill="#1a1a1a">1.6</text>
<text transform="translate(313.00,308.30) scale(1.030,1)" font-size="7.3" fill="#1a1a1a">1.8</text>
<path d="M309.3 470.80h-2M309.3 452.40h-2M309.3 434.00h-2M309.3 415.60h-2M309.3 397.20h-2M309.3 378.80h-2M309.3 360.40h-2M309.3 342.00h-2M309.3 323.60h-2M309.3 305.20h-2" stroke="#444" stroke-width="0.8"/>
<g transform="translate(449.8,288.0) scale(2.19898,1.86939)"><path fill="#000" d="M0 0h1v1h-1zM5 0h1v1h-1zM10 0h1v1h-1zM15 0h1v1h-1zM20 0h1v1h-1zM25 0h1v1h-1zM29 0h2v1h-2zM34 0h2v1h-2zM39 0h2v1h-2zM44 0h2v1h-2zM64 0h2v1h-2zM69 0h2v1h-2zM74 0h2v1h-2zM79 0h1v1h-1zM84 0h1v1h-1zM89 0h1v1h-1zM94 0h1v1h-1zM1 1h1v1h-1zM6 1h1v1h-1zM11 1h1v1h-1zM16 1h1v1h-1zM21 1h1v1h-1zM26 1h1v1h-1zM30 1h2v1h-2zM35 1h2v1h-2zM40 1h2v1h-2zM45 1h1v1h-1zM51 1h1v1h-1zM55 1h1v1h-1zM65 1h2v1h-2zM70 1h2v1h-2zM75 1h2v1h-2zM80 1h1v1h-1zM85 1h1v1h-1zM90 1h1v1h-1zM95 1h1v1h-1zM2 2h1v1h-1zM7 2h1v1h-1zM12 2h1v1h-1zM17 2h1v1h-1zM22 2h1v1h-1zM27 2h1v1h-1zM32 2h1v1h-1zM37 2h1v1h-1zM42 2h1v1h-1zM46 2h1v1h-1zM66 2h1v1h-1zM71 2h1v1h-1zM76 2h1v1h-1zM81 2h1v1h-1zM86 2h1v1h-1zM91 2h1v1h-1zM96 2h1v1h-1zM3 3h1v1h-1zM8 3h1v1h-1zM13 3h1v1h-1zM18 3h1v1h-1zM23 3h1v1h-1zM28 3h1v1h-1zM33 3h1v1h-1zM38 3h1v1h-1zM43 3h1v1h-1zM53 3h1v1h-1zM57 3h1v1h-1zM67 3h1v1h-1zM72 3h1v1h-1zM77 3h1v1h-1zM82 3h1v1h-1zM87 3h1v1h-1zM92 3h1v1h-1zM97 3h1v1h-1zM4 4h1v1h-1zM9 4h1v1h-1zM14 4h1v1h-1zM19 4h1v1h-1zM24 4h1v1h-1zM29 4h1v1h-1zM34 4h1v1h-1zM39 4h1v1h-1zM44 4h1v1h-1zM48 4h1v1h-1zM63 4h1v1h-1zM68 4h1v1h-1zM73 4h1v1h-1zM78 4h1v1h-1zM83 4h1v1h-1zM88 4h1v1h-1zM93 4h1v1h-1zM0 5h1v1h-1zM5 5h1v1h-1zM10 5h1v1h-1zM15 5h1v1h-1zM20 5h1v1h-1zM25 5h1v1h-1zM30 5h1v1h-1zM34 5h2v1h-2zM39 5h2v1h-2zM44 5h2v1h-2zM55 5h1v1h-1zM59 5h1v1h-1zM64 5h2v1h-2zM69 5h2v1h-2zM74 5h2v1h-2zM79 5h2v1h-2zM84 5h1v1h-1zM89 5h1v1h-1zM94 5h1v1h-1zM1 6h1v1h-1zM6 6h1v1h-1zM11 6h1v1h-1zM16 6h1v1h-1zM21 6h1v1h-1zM26 6h1v1h-1zM31 6h1v1h-1zM35 6h2v1h-2zM40 6h2v1h-2zM45 6h2v1h-2zM50 6h1v1h-1zM65 6h2v1h-2zM70 6h2v1h-2zM75 6h2v1h-2zM80 6h2v1h-2zM85 6h1v1h-1zM90 6h1v1h-1zM95 6h1v1h-1zM2 7h1v1h-1zM7 7h1v1h-1zM12 7h1v1h-1zM17 7h1v1h-1zM22 7h1v1h-1zM27 7h1v1h-1zM32 7h1v1h-1zM37 7h1v1h-1zM42 7h1v1h-1zM57 7h1v1h-1zM61 7h1v1h-1zM66 7h1v1h-1zM71 7h1v1h-1zM76 7h1v1h-1zM81 7h1v1h-1zM86 7h1v1h-1zM91 7h1v1h-1zM96 7h1v1h-1zM3 8h1v1h-1zM8 8h1v1h-1zM13 8h1v1h-1zM18 8h1v1h-1zM23 8h1v1h-1zM28 8h1v1h-1zM33 8h1v1h-1zM38 8h1v1h-1zM43 8h1v1h-1zM48 8h1v1h-1zM52 8h1v1h-1zM62 8h1v1h-1zM67 8h1v1h-1zM72 8h1v1h-1zM77 8h1v1h-1zM82 8h1v1h-1zM87 8h1v1h-1zM92 8h1v1h-1zM97 8h1v1h-1zM4 9h1v1h-1zM9 9h1v1h-1zM14 9h1v1h-1zM19 9h1v1h-1zM24 9h1v1h-1zM29 9h1v1h-1zM34 9h1v1h-1zM39 9h1v1h-1zM44 9h1v1h-1zM59 9h1v1h-1zM63 9h1v1h-1zM68 9h1v1h-1zM73 9h1v1h-1zM78 9h1v1h-1zM83 9h1v1h-1zM88 9h1v1h-1zM93 9h1v1h-1zM0 10h1v1h-1zM5 10h1v1h-1zM10 10h1v1h-1zM15 10h1v1h-1zM20 10h1v1h-1zM25 10h1v1h-1zM30 10h1v1h-1zM35 10h1v1h-1zM39 10h2v1h-2zM44 10h2v1h-2zM49 10h2v1h-2zM54 10h1v1h-1zM59 10h2v1h-2zM64 10h2v1h-2zM69 10h2v1h-2zM74 10h2v1h-2zM79 10h2v1h-2zM84 10h2v1h-2zM89 10h1v1h-1zM94 10h1v1h-1zM1 11h1v1h-1zM6 11h1v1h-1zM11 11h1v1h-1zM16 11h1v1h-1zM21 11h1v1h-1zM26 11h1v1h-1zM31 11h1v1h-1zM36 11h1v1h-1zM40 11h2v1h-2zM45 11h2v1h-2zM50 11h2v1h-2zM55 11h2v1h-2zM60 11h2v1h-2zM65 11h2v1h-2zM70 11h2v1h-2zM75 11h2v1h-2zM80 11h2v1h-2zM85 11h2v1h-2zM90 11h1v1h-1zM95 11h1v1h-1zM2 12h1v1h-1zM7 12h1v1h-1zM12 12h1v1h-1zM17 12h1v1h-1zM22 12h1v1h-1zM27 12h1v1h-1zM32 12h1v1h-1zM37 12h1v1h-1zM42 12h1v1h-1zM47 12h1v1h-1zM52 12h1v1h-1zM57 12h1v1h-1zM62 12h1v1h-1zM66 12h1v1h-1zM71 12h1v1h-1zM76 12h1v1h-1zM81 12h1v1h-1zM86 12h1v1h-1zM91 12h1v1h-1zM96 12h1v1h-1zM3 13h1v1h-1zM8 13h1v1h-1zM13 13h1v1h-1zM18 13h1v1h-1zM23 13h1v1h-1zM28 13h1v1h-1zM33 13h1v1h-1zM38 13h1v1h-1zM43 13h1v1h-1zM48 13h1v1h-1zM53 13h1v1h-1zM58 13h1v1h-1zM63 13h1v1h-1zM67 13h1v1h-1zM72 13h1v1h-1zM77 13h1v1h-1zM82 13h1v1h-1zM87 13h1v1h-1zM92 13h1v1h-1zM97 13h1v1h-1zM4 14h1v1h-1zM9 14h1v1h-1zM14 14h1v1h-1zM19 14h1v1h-1zM24 14h1v1h-1zM29 14h1v1h-1zM34 14h1v1h-1zM39 14h1v1h-1zM44 14h1v1h-1zM49 14h1v1h-1zM54 14h1v1h-1zM59 14h1v1h-1zM64 14h1v1h-1zM68 14h1v1h-1zM73 14h1v1h-1zM78 14h1v1h-1zM83 14h1v1h-1zM88 14h1v1h-1zM93 14h1v1h-1zM0 15h1v1h-1zM5 15h1v1h-1zM10 15h1v1h-1zM15 15h1v1h-1zM20 15h1v1h-1zM25 15h1v1h-1zM30 15h1v1h-1zM35 15h1v1h-1zM40 15h1v1h-1zM44 15h2v1h-2zM49 15h2v1h-2zM54 15h2v1h-2zM59 15h2v1h-2zM64 15h2v1h-2zM69 15h2v1h-2zM74 15h2v1h-2zM79 15h2v1h-2zM84 15h2v1h-2zM89 15h2v1h-2zM94 15h1v1h-1zM1 16h1v1h-1zM6 16h1v1h-1zM11 16h1v1h-1zM16 16h1v1h-1zM21 16h1v1h-1zM26 16h1v1h-1zM31 16h1v1h-1zM36 16h1v1h-1zM41 16h1v1h-1zM45 16h2v1h-2zM50 16h2v1h-2zM55 16h2v1h-2zM60 16h2v1h-2zM65 16h2v1h-2zM70 16h2v1h-2zM75 16h2v1h-2zM80 16h2v1h-2zM85 16h2v1h-2zM90 16h2v1h-2zM95 16h1v1h-1zM2 17h1v1h-1zM7 17h1v1h-1zM12 17h1v1h-1zM17 17h1v1h-1zM22 17h1v1h-1zM27 17h1v1h-1zM32 17h1v1h-1zM37 17h1v1h-1zM42 17h1v1h-1zM47 17h1v1h-1zM52 17h1v1h-1zM57 17h1v1h-1zM62 17h1v1h-1zM67 17h1v1h-1zM71 17h1v1h-1zM76 17h1v1h-1zM81 17h1v1h-1zM86 17h1v1h-1zM91 17h1v1h-1zM96 17h1v1h-1zM3 18h1v1h-1zM8 18h1v1h-1zM13 18h1v1h-1zM18 18h1v1h-1zM23 18h1v1h-1zM28 18h1v1h-1zM33 18h1v1h-1zM38 18h1v1h-1zM43 18h1v1h-1zM48 18h1v1h-1zM53 18h1v1h-1zM58 18h1v1h-1zM63 18h1v1h-1zM68 18h1v1h-1zM72 18h1v1h-1zM77 18h1v1h-1zM82 18h1v1h-1zM87 18h1v1h-1zM92 18h1v1h-1zM97 18h1v1h-1zM4 19h1v1h-1zM9 19h1v1h-1zM14 19h1v1h-1zM19 19h1v1h-1zM24 19h1v1h-1zM29 19h1v1h-1zM34 19h1v1h-1zM39 19h1v1h-1zM44 19h1v1h-1zM49 19h1v1h-1zM54 19h1v1h-1zM59 19h1v1h-1zM64 19h1v1h-1zM69 19h1v1h-1zM73 19h1v1h-1zM78 19h1v1h-1zM83 19h1v1h-1zM88 19h1v1h-1zM93 19h1v1h-1zM0 20h1v1h-1zM5 20h1v1h-1zM10 20h1v1h-1zM15 20h1v1h-1zM20 20h1v1h-1zM25 20h1v1h-1zM30 20h1v1h-1zM35 20h1v1h-1zM40 20h1v1h-1zM45 20h1v1h-1zM49 20h2v1h-2zM54 20h2v1h-2zM59 20h2v1h-2zM64 20h2v1h-2zM69 20h2v1h-2zM74 20h2v1h-2zM79 20h2v1h-2zM84 20h2v1h-2zM89 20h2v1h-2zM94 20h2v1h-2zM1 21h1v1h-1zM6 21h1v1h-1zM11 21h1v1h-1zM16 21h1v1h-1zM21 21h1v1h-1zM26 21h1v1h-1zM31 21h1v1h-1zM36 21h1v1h-1zM41 21h1v1h-1zM46 21h1v1h-1zM50 21h2v1h-2zM55 21h2v1h-2zM60 21h2v1h-2zM65 21h2v1h-2zM70 21h2v1h-2zM75 21h2v1h-2zM80 21h2v1h-2zM85 21h2v1h-2zM90 21h2v1h-2zM95 21h2v1h-2zM2 22h1v1h-1zM7 22h1v1h-1zM12 22h1v1h-1zM17 22h1v1h-1zM22 22h1v1h-1zM27 22h1v1h-1zM32 22h1v1h-1zM37 22h1v1h-1zM42 22h1v1h-1zM47 22h1v1h-1zM52 22h1v1h-1zM57 22h1v1h-1zM62 22h1v1h-1zM67 22h1v1h-1zM72 22h1v1h-1zM76 22h1v1h-1zM81 22h1v1h-1zM86 22h1v1h-1zM91 22h1v1h-1zM96 22h1v1h-1zM3 23h1v1h-1zM8 23h1v1h-1zM13 23h1v1h-1zM18 23h1v1h-1zM23 23h1v1h-1zM28 23h1v1h-1zM33 23h1v1h-1zM38 23h1v1h-1zM43 23h1v1h-1zM48 23h1v1h-1zM53 23h1v1h-1zM58 23h1v1h-1zM63 23h1v1h-1zM68 23h1v1h-1zM73 23h1v1h-1zM77 23h1v1h-1zM82 23h1v1h-1zM87 23h1v1h-1zM92 23h1v1h-1zM97 23h1v1h-1zM4 24h1v1h-1zM9 24h1v1h-1zM14 24h1v1h-1zM19 24h1v1h-1zM24 24h1v1h-1zM29 24h1v1h-1zM34 24h1v1h-1zM39 24h1v1h-1zM44 24h1v1h-1zM49 24h1v1h-1zM54 24h1v1h-1zM59 24h1v1h-1zM64 24h1v1h-1zM69 24h1v1h-1zM74 24h1v1h-1zM78 24h1v1h-1zM83 24h1v1h-1zM88 24h1v1h-1zM93 24h1v1h-1zM0 25h1v1h-1zM5 25h1v1h-1zM10 25h1v1h-1zM15 25h1v1h-1zM20 25h1v1h-1zM25 25h1v1h-1zM30 25h1v1h-1zM35 25h1v1h-1zM40 25h1v1h-1zM45 25h1v1h-1zM50 25h1v1h-1zM54 25h2v1h-2zM59 25h2v1h-2zM64 25h2v1h-2zM69 25h2v1h-2zM74 25h2v1h-2zM79 25h2v1h-2zM84 25h2v1h-2zM89 25h2v1h-2zM94 25h2v1h-2zM1 26h1v1h-1zM6 26h1v1h-1zM11 26h1v1h-1zM16 26h1v1h-1zM21 26h1v1h-1zM26 26h1v1h-1zM31 26h1v1h-1zM36 26h1v1h-1zM41 26h1v1h-1zM46 26h1v1h-1zM51 26h1v1h-1zM55 26h2v1h-2zM60 26h2v1h-2zM65 26h2v1h-2zM70 26h2v1h-2zM75 26h2v1h-2zM80 26h2v1h-2zM85 26h2v1h-2zM90 26h2v1h-2zM95 26h2v1h-2zM2 27h1v1h-1zM7 27h1v1h-1zM12 27h1v1h-1zM17 27h1v1h-1zM22 27h1v1h-1zM27 27h1v1h-1zM32 27h1v1h-1zM37 27h1v1h-1zM42 27h1v1h-1zM47 27h1v1h-1zM52 27h1v1h-1zM57 27h1v1h-1zM62 27h1v1h-1zM67 27h1v1h-1zM72 27h1v1h-1zM77 27h1v1h-1zM81 27h1v1h-1zM86 27h1v1h-1zM91 27h1v1h-1zM96 27h1v1h-1zM3 28h1v1h-1zM8 28h1v1h-1zM13 28h1v1h-1zM18 28h1v1h-1zM23 28h1v1h-1zM28 28h1v1h-1zM33 28h1v1h-1zM38 28h1v1h-1zM43 28h1v1h-1zM48 28h1v1h-1zM53 28h1v1h-1zM58 28h1v1h-1zM63 28h1v1h-1zM68 28h1v1h-1zM73 28h1v1h-1zM78 28h1v1h-1zM82 28h1v1h-1zM87 28h1v1h-1zM92 28h1v1h-1zM97 28h1v1h-1zM0 29h1v1h-1zM4 29h1v1h-1zM9 29h1v1h-1zM14 29h1v1h-1zM19 29h1v1h-1zM24 29h1v1h-1zM29 29h1v1h-1zM34 29h1v1h-1zM39 29h1v1h-1zM44 29h1v1h-1zM49 29h1v1h-1zM54 29h1v1h-1zM59 29h1v1h-1zM64 29h1v1h-1zM69 29h1v1h-1zM74 29h1v1h-1zM79 29h1v1h-1zM83 29h1v1h-1zM88 29h1v1h-1zM93 29h1v1h-1zM0 30h2v1h-2zM5 30h1v1h-1zM10 30h1v1h-1zM15 30h1v1h-1zM20 30h1v1h-1zM25 30h1v1h-1zM30 30h1v1h-1zM35 30h1v1h-1zM40 30h1v1h-1zM45 30h1v1h-1zM50 30h1v1h-1zM55 30h1v1h-1zM59 30h2v1h-2zM64 30h2v1h-2zM69 30h2v1h-2zM74 30h2v1h-2zM79 30h2v1h-2zM84 30h2v1h-2zM89 30h2v1h-2zM94 30h2v1h-2zM1 31h1v1h-1zM6 31h1v1h-1zM11 31h1v1h-1zM16 31h1v1h-1zM21 31h1v1h-1zM26 31h1v1h-1zM31 31h1v1h-1zM36 31h1v1h-1zM41 31h1v1h-1zM46 31h1v1h-1zM51 31h1v1h-1zM56 31h1v1h-1zM60 31h2v1h-2zM65 31h2v1h-2zM70 31h2v1h-2zM75 31h2v1h-2zM80 31h2v1h-2zM85 31h2v1h-2zM90 31h2v1h-2zM2 32h1v1h-1zM7 32h1v1h-1zM12 32h1v1h-1zM17 32h1v1h-1zM22 32h1v1h-1zM27 32h1v1h-1zM32 32h1v1h-1zM37 32h1v1h-1zM42 32h1v1h-1zM47 32h1v1h-1zM52 32h1v1h-1zM57 32h1v1h-1zM62 32h1v1h-1zM67 32h1v1h-1zM72 32h1v1h-1zM77 32h1v1h-1zM82 32h1v1h-1zM86 32h1v1h-1zM96 32h1v1h-1zM3 33h1v1h-1zM8 33h1v1h-1zM13 33h1v1h-1zM18 33h1v1h-1zM23 33h1v1h-1zM28 33h1v1h-1zM33 33h1v1h-1zM38 33h1v1h-1zM43 33h1v1h-1zM48 33h1v1h-1zM53 33h1v1h-1zM58 33h1v1h-1zM63 33h1v1h-1zM68 33h1v1h-1zM73 33h1v1h-1zM78 33h1v1h-1zM83 33h1v1h-1zM87 33h1v1h-1zM0 34h1v1h-1zM4 34h2v1h-2zM9 34h1v1h-1zM14 34h1v1h-1zM19 34h1v1h-1zM24 34h1v1h-1zM29 34h1v1h-1zM34 34h1v1h-1zM39 34h1v1h-1zM44 34h1v1h-1zM49 34h1v1h-1zM54 34h1v1h-1zM59 34h1v1h-1zM64 34h1v1h-1zM69 34h1v1h-1zM74 34h1v1h-1zM79 34h1v1h-1zM84 34h1v1h-1zM0 35h2v1h-2zM5 35h2v1h-2zM10 35h1v1h-1zM15 35h1v1h-1zM20 35h1v1h-1zM25 35h1v1h-1zM30 35h1v1h-1zM35 35h1v1h-1zM40 35h1v1h-1zM45 35h1v1h-1zM50 35h1v1h-1zM55 35h1v1h-1zM60 35h1v1h-1zM64 35h2v1h-2zM69 35h2v1h-2zM74 35h2v1h-2zM79 35h2v1h-2zM84 35h2v1h-2zM89 35h1v1h-1zM1 36h1v1h-1zM6 36h1v1h-1zM11 36h1v1h-1zM16 36h1v1h-1zM21 36h1v1h-1zM26 36h1v1h-1zM31 36h1v1h-1zM36 36h1v1h-1zM41 36h1v1h-1zM46 36h1v1h-1zM51 36h1v1h-1zM56 36h1v1h-1zM61 36h1v1h-1zM65 36h2v1h-2zM70 36h2v1h-2zM75 36h2v1h-2zM80 36h2v1h-2zM85 36h2v1h-2zM2 37h1v1h-1zM7 37h1v1h-1zM12 37h1v1h-1zM17 37h1v1h-1zM22 37h1v1h-1zM27 37h1v1h-1zM32 37h1v1h-1zM37 37h1v1h-1zM42 37h1v1h-1zM47 37h1v1h-1zM52 37h1v1h-1zM57 37h1v1h-1zM62 37h1v1h-1zM67 37h1v1h-1zM72 37h1v1h-1zM77 37h1v1h-1zM82 37h1v1h-1zM87 37h1v1h-1zM91 37h1v1h-1zM3 38h1v1h-1zM8 38h1v1h-1zM13 38h1v1h-1zM18 38h1v1h-1zM23 38h1v1h-1zM28 38h1v1h-1zM33 38h1v1h-1zM38 38h1v1h-1zM43 38h1v1h-1zM48 38h1v1h-1zM53 38h1v1h-1zM58 38h1v1h-1zM63 38h1v1h-1zM68 38h1v1h-1zM73 38h1v1h-1zM78 38h1v1h-1zM83 38h1v1h-1zM0 39h1v1h-1zM4 39h2v1h-2zM9 39h2v1h-2zM14 39h1v1h-1zM19 39h1v1h-1zM24 39h1v1h-1zM29 39h1v1h-1zM34 39h1v1h-1zM39 39h1v1h-1zM44 39h1v1h-1zM49 39h1v1h-1zM54 39h1v1h-1zM59 39h1v1h-1zM64 39h1v1h-1zM69 39h1v1h-1zM74 39h1v1h-1zM79 39h1v1h-1zM84 39h1v1h-1zM89 39h1v1h-1zM93 39h1v1h-1zM0 40h2v1h-2zM5 40h2v1h-2zM10 40h2v1h-2zM15 40h1v1h-1zM20 40h1v1h-1zM25 40h1v1h-1zM30 40h1v1h-1zM35 40h1v1h-1zM40 40h1v1h-1zM45 40h1v1h-1zM50 40h1v1h-1zM55 40h1v1h-1zM60 40h1v1h-1zM65 40h1v1h-1zM69 40h2v1h-2zM74 40h2v1h-2zM79 40h2v1h-2zM84 40h2v1h-2zM1 41h1v1h-1zM6 41h1v1h-1zM11 41h1v1h-1zM16 41h1v1h-1zM21 41h1v1h-1zM26 41h1v1h-1zM31 41h1v1h-1zM36 41h1v1h-1zM41 41h1v1h-1zM46 41h1v1h-1zM51 41h1v1h-1zM56 41h1v1h-1zM61 41h1v1h-1zM66 41h1v1h-1zM70 41h2v1h-2zM75 41h2v1h-2zM80 41h2v1h-2zM85 41h1v1h-1zM91 41h1v1h-1zM95 41h1v1h-1zM2 42h1v1h-1zM7 42h1v1h-1zM12 42h1v1h-1zM17 42h1v1h-1zM22 42h1v1h-1zM27 42h1v1h-1zM32 42h1v1h-1zM37 42h1v1h-1zM42 42h1v1h-1zM47 42h1v1h-1zM52 42h1v1h-1zM57 42h1v1h-1zM62 42h1v1h-1zM67 42h1v1h-1zM72 42h1v1h-1zM77 42h1v1h-1zM82 42h1v1h-1zM86 42h1v1h-1zM3 43h1v1h-1zM8 43h1v1h-1zM13 43h1v1h-1zM18 43h1v1h-1zM23 43h1v1h-1zM28 43h1v1h-1zM33 43h1v1h-1zM38 43h1v1h-1zM43 43h1v1h-1zM48 43h1v1h-1zM53 43h1v1h-1zM58 43h1v1h-1zM63 43h1v1h-1zM68 43h1v1h-1zM73 43h1v1h-1zM78 43h1v1h-1zM83 43h1v1h-1zM93 43h1v1h-1zM97 43h1v1h-1zM0 44h1v1h-1zM4 44h2v1h-2zM9 44h2v1h-2zM14 44h2v1h-2zM19 44h1v1h-1zM24 44h1v1h-1zM29 44h1v1h-1zM34 44h1v1h-1zM39 44h1v1h-1zM44 44h1v1h-1zM49 44h1v1h-1zM54 44h1v1h-1zM59 44h1v1h-1zM64 44h1v1h-1zM69 44h1v1h-1zM74 44h1v1h-1zM79 44h1v1h-1zM84 44h1v1h-1zM88 44h1v1h-1zM0 45h2v1h-2zM5 45h2v1h-2zM10 45h2v1h-2zM15 45h2v1h-2zM20 45h1v1h-1zM25 45h1v1h-1zM30 45h1v1h-1zM35 45h1v1h-1zM40 45h1v1h-1zM45 45h1v1h-1zM50 45h1v1h-1zM55 45h1v1h-1zM60 45h1v1h-1zM65 45h1v1h-1zM70 45h1v1h-1zM74 45h2v1h-2zM79 45h2v1h-2zM84 45h2v1h-2zM95 45h1v1h-1zM2 46h1v1h-1zM6 46h1v1h-1zM11 46h1v1h-1zM16 46h1v1h-1zM21 46h1v1h-1zM26 46h1v1h-1zM31 46h1v1h-1zM36 46h1v1h-1zM41 46h1v1h-1zM46 46h1v1h-1zM51 46h1v1h-1zM56 46h1v1h-1zM61 46h1v1h-1zM66 46h1v1h-1zM71 46h1v1h-1zM75 46h2v1h-2zM80 46h2v1h-2zM85 46h2v1h-2zM90 46h1v1h-1zM12 47h1v1h-1zM17 47h1v1h-1zM22 47h1v1h-1zM27 47h1v1h-1zM32 47h1v1h-1zM37 47h1v1h-1zM42 47h1v1h-1zM47 47h1v1h-1zM52 47h1v1h-1zM57 47h1v1h-1zM62 47h1v1h-1zM67 47h1v1h-1zM72 47h1v1h-1zM77 47h1v1h-1zM82 47h1v1h-1zM87 47h1v1h-1zM97 47h1v1h-1zM4 48h1v1h-1zM8 48h1v1h-1zM13 48h1v1h-1zM18 48h1v1h-1zM23 48h1v1h-1zM28 48h1v1h-1zM33 48h1v1h-1zM38 48h1v1h-1zM43 48h1v1h-1zM48 48h1v1h-1zM53 48h1v1h-1zM58 48h1v1h-1zM63 48h1v1h-1zM68 48h1v1h-1zM73 48h1v1h-1zM78 48h1v1h-1zM83 48h1v1h-1zM88 48h1v1h-1zM92 48h1v1h-1zM10 49h1v1h-1zM14 49h2v1h-2zM19 49h2v1h-2zM24 49h1v1h-1zM29 49h1v1h-1zM34 49h1v1h-1zM39 49h1v1h-1zM44 49h1v1h-1zM49 49h1v1h-1zM54 49h1v1h-1zM59 49h1v1h-1zM64 49h1v1h-1zM69 49h1v1h-1zM74 49h1v1h-1zM79 49h1v1h-1zM84 49h1v1h-1zM89 49h1v1h-1zM6 50h1v1h-1zM10 50h2v1h-2zM15 50h2v1h-2zM20 50h2v1h-2zM25 50h1v1h-1zM30 50h1v1h-1zM35 50h1v1h-1zM40 50h1v1h-1zM45 50h1v1h-1zM50 50h1v1h-1zM55 50h1v1h-1zM60 50h1v1h-1zM65 50h1v1h-1zM70 50h1v1h-1zM75 50h1v1h-1zM79 50h2v1h-2zM84 50h2v1h-2zM89 50h2v1h-2zM94 50h2v1h-2zM1 51h1v1h-1zM11 51h1v1h-1zM16 51h1v1h-1zM21 51h1v1h-1zM26 51h1v1h-1zM31 51h1v1h-1zM36 51h1v1h-1zM41 51h1v1h-1zM46 51h1v1h-1zM51 51h1v1h-1zM56 51h1v1h-1zM61 51h1v1h-1zM66 51h1v1h-1zM71 51h1v1h-1zM76 51h1v1h-1zM80 51h2v1h-2zM85 51h2v1h-2zM90 51h2v1h-2zM95 51h2v1h-2zM8 52h1v1h-1zM12 52h1v1h-1zM17 52h1v1h-1zM22 52h1v1h-1zM27 52h1v1h-1zM32 52h1v1h-1zM37 52h1v1h-1zM42 52h1v1h-1zM47 52h1v1h-1zM52 52h1v1h-1zM57 52h1v1h-1zM62 52h1v1h-1zM67 52h1v1h-1zM72 52h1v1h-1zM77 52h1v1h-1zM82 52h1v1h-1zM87 52h1v1h-1zM92 52h1v1h-1zM97 52h1v1h-1zM3 53h1v1h-1zM13 53h1v1h-1zM18 53h1v1h-1zM23 53h1v1h-1zM28 53h1v1h-1zM33 53h1v1h-1zM38 53h1v1h-1zM43 53h1v1h-1zM48 53h1v1h-1zM53 53h1v1h-1zM58 53h1v1h-1zM63 53h1v1h-1zM68 53h1v1h-1zM73 53h1v1h-1zM78 53h1v1h-1zM83 53h1v1h-1zM88 53h1v1h-1zM93 53h1v1h-1zM10 54h1v1h-1zM14 54h2v1h-2zM19 54h2v1h-2zM24 54h2v1h-2zM29 54h1v1h-1zM34 54h1v1h-1zM39 54h1v1h-1zM44 54h1v1h-1zM49 54h1v1h-1zM54 54h1v1h-1zM59 54h1v1h-1zM64 54h1v1h-1zM69 54h1v1h-1zM74 54h1v1h-1zM79 54h1v1h-1zM84 54h1v1h-1zM89 54h1v1h-1zM94 54h1v1h-1zM1 55h1v1h-1zM5 55h1v1h-1zM11 55h1v1h-1zM15 55h2v1h-2zM20 55h2v1h-2zM25 55h2v1h-2zM30 55h1v1h-1zM35 55h1v1h-1zM40 55h1v1h-1zM45 55h1v1h-1zM50 55h1v1h-1zM55 55h1v1h-1zM60 55h1v1h-1zM65 55h1v1h-1zM70 55h1v1h-1zM75 55h1v1h-1zM80 55h1v1h-1zM84 55h2v1h-2zM89 55h2v1h-2zM94 55h2v1h-2zM11 56h1v1h-1zM16 56h1v1h-1zM21 56h1v1h-1zM26 56h1v1h-1zM31 56h1v1h-1zM36 56h1v1h-1zM41 56h1v1h-1zM46 56h1v1h-1zM51 56h1v1h-1zM56 56h1v1h-1zM61 56h1v1h-1zM66 56h1v1h-1zM71 56h1v1h-1zM76 56h1v1h-1zM81 56h1v1h-1zM85 56h2v1h-2zM90 56h2v1h-2zM95 56h2v1h-2zM3 57h1v1h-1zM7 57h1v1h-1zM12 57h1v1h-1zM17 57h1v1h-1zM22 57h1v1h-1zM27 57h1v1h-1zM32 57h1v1h-1zM37 57h1v1h-1zM42 57h1v1h-1zM47 57h1v1h-1zM52 57h1v1h-1zM57 57h1v1h-1zM62 57h1v1h-1zM67 57h1v1h-1zM72 57h1v1h-1zM77 57h1v1h-1zM82 57h1v1h-1zM87 57h1v1h-1zM92 57h1v1h-1zM97 57h1v1h-1zM13 58h1v1h-1zM18 58h1v1h-1zM23 58h1v1h-1zM28 58h1v1h-1zM33 58h1v1h-1zM38 58h1v1h-1zM43 58h1v1h-1zM48 58h1v1h-1zM53 58h1v1h-1zM58 58h1v1h-1zM63 58h1v1h-1zM68 58h1v1h-1zM73 58h1v1h-1zM78 58h1v1h-1zM83 58h1v1h-1zM88 58h1v1h-1zM93 58h1v1h-1zM5 59h1v1h-1zM9 59h2v1h-2zM14 59h2v1h-2zM19 59h2v1h-2zM24 59h2v1h-2zM29 59h2v1h-2zM34 59h1v1h-1zM39 59h1v1h-1zM44 59h1v1h-1zM49 59h1v1h-1zM54 59h1v1h-1zM59 59h1v1h-1zM64 59h1v1h-1zM69 59h1v1h-1zM74 59h1v1h-1zM79 59h1v1h-1zM84 59h1v1h-1zM89 59h1v1h-1zM94 59h1v1h-1zM10 60h2v1h-2zM15 60h2v1h-2zM20 60h2v1h-2zM25 60h2v1h-2zM30 60h2v1h-2zM35 60h1v1h-1zM40 60h1v1h-1zM45 60h1v1h-1zM50 60h1v1h-1zM55 60h1v1h-1zM60 60h1v1h-1zM65 60h1v1h-1zM70 60h1v1h-1zM75 60h1v1h-1zM80 60h1v1h-1zM85 60h1v1h-1zM89 60h2v1h-2zM94 60h2v1h-2zM7 61h1v1h-1zM11 61h1v1h-1zM16 61h1v1h-1zM21 61h1v1h-1zM26 61h1v1h-1zM31 61h1v1h-1zM36 61h1v1h-1zM41 61h1v1h-1zM46 61h1v1h-1zM51 61h1v1h-1zM56 61h1v1h-1zM61 61h1v1h-1zM66 61h1v1h-1zM71 61h1v1h-1zM76 61h1v1h-1zM81 61h1v1h-1zM86 61h1v1h-1zM90 61h2v1h-2zM95 61h2v1h-2zM8 62h1v1h-1zM12 62h1v1h-1zM17 62h1v1h-1zM22 62h1v1h-1zM27 62h1v1h-1zM32 62h1v1h-1zM37 62h1v1h-1zM42 62h1v1h-1zM47 62h1v1h-1zM52 62h1v1h-1zM57 62h1v1h-1zM62 62h1v1h-1zM67 62h1v1h-1zM72 62h1v1h-1zM77 62h1v1h-1zM82 62h1v1h-1zM87 62h1v1h-1zM92 62h1v1h-1zM97 62h1v1h-1zM4 63h1v1h-1zM9 63h1v1h-1zM13 63h1v1h-1zM18 63h1v1h-1zM23 63h1v1h-1zM28 63h1v1h-1zM33 63h1v1h-1zM38 63h1v1h-1zM43 63h1v1h-1zM48 63h1v1h-1zM53 63h1v1h-1zM58 63h1v1h-1zM63 63h1v1h-1zM68 63h1v1h-1zM73 63h1v1h-1zM78 63h1v1h-1zM83 63h1v1h-1zM88 63h1v1h-1zM93 63h1v1h-1zM0 64h1v1h-1zM5 64h1v1h-1zM10 64h1v1h-1zM14 64h2v1h-2zM19 64h2v1h-2zM24 64h2v1h-2zM29 64h2v1h-2zM34 64h2v1h-2zM39 64h1v1h-1zM44 64h1v1h-1zM49 64h1v1h-1zM54 64h1v1h-1zM59 64h1v1h-1zM64 64h1v1h-1zM69 64h1v1h-1zM74 64h1v1h-1zM79 64h1v1h-1zM84 64h1v1h-1zM89 64h1v1h-1zM94 64h1v1h-1zM0 65h2v1h-2zM5 65h2v1h-2zM10 65h2v1h-2zM15 65h2v1h-2zM20 65h2v1h-2zM25 65h2v1h-2zM30 65h2v1h-2zM35 65h2v1h-2zM40 65h1v1h-1zM45 65h1v1h-1zM50 65h1v1h-1zM55 65h1v1h-1zM60 65h1v1h-1zM65 65h1v1h-1zM70 65h1v1h-1zM75 65h1v1h-1zM80 65h1v1h-1zM85 65h1v1h-1zM90 65h1v1h-1zM94 65h2v1h-2zM1 66h2v1h-2zM6 66h2v1h-2zM11 66h2v1h-2zM16 66h1v1h-1zM21 66h1v1h-1zM26 66h1v1h-1zM31 66h1v1h-1zM36 66h1v1h-1zM41 66h1v1h-1zM46 66h1v1h-1zM51 66h1v1h-1zM56 66h1v1h-1zM61 66h1v1h-1zM66 66h1v1h-1zM71 66h1v1h-1zM76 66h1v1h-1zM81 66h1v1h-1zM86 66h1v1h-1zM91 66h1v1h-1zM95 66h2v1h-2zM3 67h1v1h-1zM8 67h1v1h-1zM13 67h1v1h-1zM17 67h1v1h-1zM22 67h1v1h-1zM27 67h1v1h-1zM32 67h1v1h-1zM37 67h1v1h-1zM42 67h1v1h-1zM47 67h1v1h-1zM52 67h1v1h-1zM57 67h1v1h-1zM62 67h1v1h-1zM67 67h1v1h-1zM72 67h1v1h-1zM77 67h1v1h-1zM82 67h1v1h-1zM87 67h1v1h-1zM92 67h1v1h-1zM97 67h1v1h-1zM4 68h1v1h-1zM9 68h1v1h-1zM14 68h1v1h-1zM18 68h1v1h-1zM23 68h1v1h-1zM28 68h1v1h-1zM33 68h1v1h-1zM38 68h1v1h-1zM43 68h1v1h-1zM48 68h1v1h-1zM53 68h1v1h-1zM58 68h1v1h-1zM63 68h1v1h-1zM68 68h1v1h-1zM73 68h1v1h-1zM78 68h1v1h-1zM83 68h1v1h-1zM88 68h1v1h-1zM93 68h1v1h-1zM0 69h1v1h-1zM5 69h1v1h-1zM10 69h1v1h-1zM15 69h1v1h-1zM19 69h2v1h-2zM24 69h2v1h-2zM29 69h2v1h-2zM34 69h2v1h-2zM39 69h2v1h-2zM44 69h1v1h-1zM49 69h1v1h-1zM54 69h1v1h-1zM59 69h1v1h-1zM64 69h1v1h-1zM69 69h1v1h-1zM74 69h1v1h-1zM79 69h1v1h-1zM84 69h1v1h-1zM89 69h1v1h-1zM94 69h1v1h-1zM0 70h2v1h-2zM5 70h2v1h-2zM10 70h2v1h-2zM15 70h2v1h-2zM20 70h2v1h-2zM25 70h2v1h-2zM30 70h2v1h-2zM35 70h2v1h-2zM40 70h2v1h-2zM45 70h1v1h-1zM50 70h1v1h-1zM55 70h1v1h-1zM60 70h1v1h-1zM65 70h1v1h-1zM70 70h1v1h-1zM75 70h1v1h-1zM80 70h1v1h-1zM85 70h1v1h-1zM90 70h1v1h-1zM95 70h1v1h-1zM1 71h2v1h-2zM6 71h2v1h-2zM11 71h2v1h-2zM16 71h2v1h-2zM21 71h1v1h-1zM26 71h1v1h-1zM31 71h1v1h-1zM36 71h1v1h-1zM41 71h1v1h-1zM46 71h1v1h-1zM51 71h1v1h-1zM56 71h1v1h-1zM61 71h1v1h-1zM66 71h1v1h-1zM71 71h1v1h-1zM76 71h1v1h-1zM81 71h1v1h-1zM86 71h1v1h-1zM91 71h1v1h-1zM96 71h1v1h-1zM3 72h1v1h-1zM8 72h1v1h-1zM13 72h1v1h-1zM18 72h1v1h-1zM22 72h1v1h-1zM27 72h1v1h-1zM32 72h1v1h-1zM37 72h1v1h-1zM42 72h1v1h-1zM47 72h1v1h-1zM52 72h1v1h-1zM57 72h1v1h-1zM62 72h1v1h-1zM67 72h1v1h-1zM72 72h1v1h-1zM77 72h1v1h-1zM82 72h1v1h-1zM87 72h1v1h-1zM92 72h1v1h-1zM97 72h1v1h-1zM4 73h1v1h-1zM9 73h1v1h-1zM14 73h1v1h-1zM19 73h1v1h-1zM23 73h1v1h-1zM28 73h1v1h-1zM33 73h1v1h-1zM38 73h1v1h-1zM43 73h1v1h-1zM48 73h1v1h-1zM53 73h1v1h-1zM58 73h1v1h-1zM63 73h1v1h-1zM68 73h1v1h-1zM73 73h1v1h-1zM78 73h1v1h-1zM83 73h1v1h-1zM88 73h1v1h-1zM93 73h1v1h-1zM0 74h1v1h-1zM5 74h1v1h-1zM10 74h1v1h-1zM15 74h1v1h-1zM20 74h1v1h-1zM24 74h2v1h-2zM29 74h2v1h-2zM34 74h2v1h-2zM39 74h2v1h-2zM44 74h2v1h-2zM49 74h1v1h-1zM54 74h1v1h-1zM59 74h1v1h-1zM64 74h1v1h-1zM69 74h1v1h-1zM74 74h1v1h-1zM79 74h1v1h-1zM84 74h1v1h-1zM89 74h1v1h-1zM94 74h1v1h-1zM0 75h2v1h-2zM5 75h2v1h-2zM10 75h2v1h-2zM15 75h2v1h-2zM20 75h2v1h-2zM25 75h2v1h-2zM30 75h2v1h-2zM35 75h2v1h-2zM40 75h2v1h-2zM45 75h2v1h-2zM50 75h1v1h-1zM55 75h1v1h-1zM60 75h1v1h-1zM65 75h1v1h-1zM70 75h1v1h-1zM75 75h1v1h-1zM80 75h1v1h-1zM85 75h1v1h-1zM90 75h1v1h-1zM95 75h1v1h-1zM1 76h2v1h-2zM6 76h2v1h-2zM11 76h2v1h-2zM16 76h2v1h-2zM21 76h2v1h-2zM26 76h1v1h-1zM31 76h1v1h-1zM36 76h1v1h-1zM41 76h1v1h-1zM46 76h1v1h-1zM51 76h1v1h-1zM56 76h1v1h-1zM61 76h1v1h-1zM66 76h1v1h-1zM71 76h1v1h-1zM76 76h1v1h-1zM81 76h1v1h-1zM86 76h1v1h-1zM91 76h1v1h-1zM96 76h1v1h-1zM3 77h1v1h-1zM8 77h1v1h-1zM13 77h1v1h-1zM18 77h1v1h-1zM23 77h1v1h-1zM27 77h1v1h-1zM32 77h1v1h-1zM37 77h1v1h-1zM42 77h1v1h-1zM47 77h1v1h-1zM52 77h1v1h-1zM57 77h1v1h-1zM62 77h1v1h-1zM67 77h1v1h-1zM72 77h1v1h-1zM77 77h1v1h-1zM82 77h1v1h-1zM87 77h1v1h-1zM92 77h1v1h-1zM97 77h1v1h-1zM4 78h1v1h-1zM9 78h1v1h-1zM14 78h1v1h-1zM19 78h1v1h-1zM24 78h1v1h-1zM28 78h1v1h-1zM33 78h1v1h-1zM38 78h1v1h-1zM43 78h1v1h-1zM48 78h1v1h-1zM53 78h1v1h-1zM58 78h1v1h-1zM63 78h1v1h-1zM68 78h1v1h-1zM73 78h1v1h-1zM78 78h1v1h-1zM83 78h1v1h-1zM88 78h1v1h-1zM93 78h1v1h-1zM0 79h1v1h-1zM5 79h1v1h-1zM10 79h1v1h-1zM15 79h1v1h-1zM20 79h1v1h-1zM25 79h1v1h-1zM29 79h2v1h-2zM34 79h2v1h-2zM39 79h2v1h-2zM44 79h2v1h-2zM49 79h2v1h-2zM54 79h1v1h-1zM59 79h1v1h-1zM64 79h1v1h-1zM69 79h1v1h-1zM74 79h1v1h-1zM79 79h1v1h-1zM84 79h1v1h-1zM89 79h1v1h-1zM94 79h1v1h-1zM1 80h1v1h-1zM5 80h2v1h-2zM10 80h2v1h-2zM15 80h2v1h-2zM20 80h2v1h-2zM25 80h2v1h-2zM30 80h2v1h-2zM35 80h2v1h-2zM40 80h2v1h-2zM45 80h2v1h-2zM50 80h2v1h-2zM55 80h1v1h-1zM60 80h1v1h-1zM65 80h1v1h-1zM70 80h1v1h-1zM75 80h1v1h-1zM80 80h1v1h-1zM85 80h1v1h-1zM90 80h1v1h-1zM95 80h1v1h-1zM2 81h1v1h-1zM6 81h2v1h-2zM11 81h2v1h-2zM16 81h2v1h-2zM21 81h2v1h-2zM26 81h2v1h-2zM31 81h1v1h-1zM36 81h1v1h-1zM41 81h1v1h-1zM46 81h1v1h-1zM51 81h1v1h-1zM56 81h1v1h-1zM61 81h1v1h-1zM66 81h1v1h-1zM71 81h1v1h-1zM76 81h1v1h-1zM81 81h1v1h-1zM86 81h1v1h-1zM91 81h1v1h-1zM96 81h1v1h-1zM3 82h1v1h-1zM8 82h1v1h-1zM13 82h1v1h-1zM18 82h1v1h-1zM23 82h1v1h-1zM28 82h1v1h-1zM32 82h1v1h-1zM37 82h1v1h-1zM42 82h1v1h-1zM47 82h1v1h-1zM52 82h1v1h-1zM57 82h1v1h-1zM62 82h1v1h-1zM67 82h1v1h-1zM72 82h1v1h-1zM77 82h1v1h-1zM82 82h1v1h-1zM87 82h1v1h-1zM92 82h1v1h-1zM97 82h1v1h-1zM4 83h1v1h-1zM9 83h1v1h-1zM14 83h1v1h-1zM19 83h1v1h-1zM24 83h1v1h-1zM29 83h1v1h-1zM33 83h1v1h-1zM38 83h1v1h-1zM43 83h1v1h-1zM48 83h1v1h-1zM53 83h1v1h-1zM58 83h1v1h-1zM63 83h1v1h-1zM68 83h1v1h-1zM73 83h1v1h-1zM78 83h1v1h-1zM83 83h1v1h-1zM88 83h1v1h-1zM93 83h1v1h-1zM0 84h1v1h-1zM5 84h1v1h-1zM10 84h1v1h-1zM15 84h1v1h-1zM20 84h1v1h-1zM25 84h1v1h-1zM30 84h1v1h-1zM34 84h2v1h-2zM39 84h2v1h-2zM44 84h2v1h-2zM49 84h2v1h-2zM54 84h2v1h-2zM59 84h1v1h-1zM64 84h1v1h-1zM69 84h1v1h-1zM74 84h1v1h-1zM79 84h1v1h-1zM84 84h1v1h-1zM89 84h1v1h-1zM94 84h1v1h-1zM1 85h1v1h-1zM6 85h1v1h-1zM10 85h2v1h-2zM15 85h2v1h-2zM20 85h2v1h-2zM25 85h2v1h-2zM30 85h2v1h-2zM35 85h2v1h-2zM40 85h2v1h-2zM45 85h2v1h-2zM50 85h2v1h-2zM55 85h2v1h-2zM60 85h1v1h-1zM65 85h1v1h-1zM70 85h1v1h-1zM75 85h1v1h-1zM80 85h1v1h-1zM85 85h1v1h-1zM90 85h1v1h-1zM95 85h1v1h-1zM2 86h1v1h-1zM7 86h1v1h-1zM11 86h2v1h-2zM16 86h2v1h-2zM21 86h2v1h-2zM26 86h2v1h-2zM31 86h2v1h-2zM36 86h1v1h-1zM42 86h1v1h-1zM46 86h1v1h-1zM51 86h1v1h-1zM56 86h1v1h-1zM61 86h1v1h-1zM66 86h1v1h-1zM71 86h1v1h-1zM76 86h1v1h-1zM81 86h1v1h-1zM86 86h1v1h-1zM91 86h1v1h-1zM96 86h1v1h-1zM3 87h1v1h-1zM8 87h1v1h-1zM13 87h1v1h-1zM18 87h1v1h-1zM23 87h1v1h-1zM28 87h1v1h-1zM33 87h1v1h-1zM37 87h1v1h-1zM47 87h1v1h-1zM52 87h1v1h-1zM57 87h1v1h-1zM62 87h1v1h-1zM67 87h1v1h-1zM72 87h1v1h-1zM77 87h1v1h-1zM82 87h1v1h-1zM87 87h1v1h-1zM92 87h1v1h-1zM97 87h1v1h-1zM4 88h1v1h-1zM9 88h1v1h-1zM14 88h1v1h-1zM19 88h1v1h-1zM24 88h1v1h-1zM29 88h1v1h-1zM44 88h1v1h-1zM48 88h1v1h-1zM53 88h1v1h-1zM58 88h1v1h-1zM63 88h1v1h-1zM68 88h1v1h-1zM73 88h1v1h-1zM78 88h1v1h-1zM83 88h1v1h-1zM88 88h1v1h-1zM93 88h1v1h-1zM0 89h1v1h-1zM5 89h1v1h-1zM10 89h1v1h-1zM15 89h1v1h-1zM20 89h1v1h-1zM25 89h1v1h-1zM30 89h1v1h-1zM35 89h1v1h-1zM39 89h1v1h-1zM49 89h2v1h-2zM54 89h2v1h-2zM59 89h2v1h-2zM64 89h1v1h-1zM69 89h1v1h-1zM74 89h1v1h-1zM79 89h1v1h-1zM84 89h1v1h-1zM89 89h1v1h-1zM94 89h1v1h-1zM1 90h1v1h-1zM6 90h1v1h-1zM11 90h1v1h-1zM15 90h2v1h-2zM20 90h2v1h-2zM25 90h2v1h-2zM30 90h2v1h-2zM46 90h1v1h-1zM50 90h2v1h-2zM55 90h2v1h-2zM60 90h2v1h-2zM65 90h1v1h-1zM70 90h1v1h-1zM75 90h1v1h-1zM80 90h1v1h-1zM85 90h1v1h-1zM90 90h1v1h-1zM95 90h1v1h-1zM2 91h1v1h-1zM7 91h1v1h-1zM12 91h1v1h-1zM16 91h2v1h-2zM21 91h2v1h-2zM26 91h2v1h-2zM31 91h1v1h-1zM37 91h1v1h-1zM41 91h1v1h-1zM51 91h1v1h-1zM56 91h1v1h-1zM61 91h1v1h-1zM66 91h1v1h-1zM71 91h1v1h-1zM76 91h1v1h-1zM81 91h1v1h-1zM86 91h1v1h-1zM91 91h1v1h-1zM96 91h1v1h-1zM3 92h1v1h-1zM8 92h1v1h-1zM13 92h1v1h-1zM18 92h1v1h-1zM23 92h1v1h-1zM28 92h1v1h-1zM48 92h1v1h-1zM52 92h1v1h-1zM57 92h1v1h-1zM62 92h1v1h-1zM67 92h1v1h-1zM72 92h1v1h-1zM77 92h1v1h-1zM82 92h1v1h-1zM87 92h1v1h-1zM92 92h1v1h-1zM97 92h1v1h-1zM4 93h1v1h-1zM9 93h1v1h-1zM14 93h1v1h-1zM19 93h1v1h-1zM24 93h1v1h-1zM29 93h1v1h-1zM39 93h1v1h-1zM43 93h1v1h-1zM53 93h1v1h-1zM58 93h1v1h-1zM63 93h1v1h-1zM68 93h1v1h-1zM73 93h1v1h-1zM78 93h1v1h-1zM83 93h1v1h-1zM88 93h1v1h-1zM93 93h1v1h-1zM0 94h1v1h-1zM5 94h1v1h-1zM10 94h1v1h-1zM15 94h1v1h-1zM20 94h1v1h-1zM25 94h1v1h-1zM30 94h1v1h-1zM50 94h1v1h-1zM54 94h2v1h-2zM59 94h2v1h-2zM64 94h2v1h-2zM69 94h1v1h-1zM74 94h1v1h-1zM79 94h1v1h-1zM84 94h1v1h-1zM89 94h1v1h-1zM94 94h1v1h-1zM1 95h1v1h-1zM6 95h1v1h-1zM11 95h1v1h-1zM16 95h1v1h-1zM20 95h2v1h-2zM25 95h2v1h-2zM30 95h1v1h-1zM41 95h1v1h-1zM45 95h1v1h-1zM50 95h2v1h-2zM55 95h2v1h-2zM60 95h2v1h-2zM65 95h2v1h-2zM70 95h1v1h-1zM75 95h1v1h-1zM80 95h1v1h-1zM85 95h1v1h-1zM90 95h1v1h-1zM95 95h1v1h-1zM2 96h1v1h-1zM7 96h1v1h-1zM12 96h1v1h-1zM17 96h1v1h-1zM21 96h2v1h-2zM26 96h2v1h-2zM32 96h1v1h-1zM51 96h1v1h-1zM56 96h1v1h-1zM61 96h1v1h-1zM66 96h1v1h-1zM71 96h1v1h-1zM76 96h1v1h-1zM81 96h1v1h-1zM86 96h1v1h-1zM91 96h1v1h-1zM96 96h1v1h-1zM3 97h1v1h-1zM8 97h1v1h-1zM13 97h1v1h-1zM18 97h1v1h-1zM23 97h1v1h-1zM28 97h1v1h-1zM43 97h1v1h-1zM47 97h1v1h-1zM52 97h1v1h-1zM57 97h1v1h-1zM62 97h1v1h-1zM67 97h1v1h-1zM72 97h1v1h-1zM77 97h1v1h-1zM82 97h1v1h-1zM87 97h1v1h-1zM92 97h1v1h-1zM97 97h1v1h-1z"/></g>
<path d="M449.5 288.0V471.2" stroke="#000" stroke-width="1"/>
<path d="M449.5 305.76h-1.6M449.5 324.45h-1.6M449.5 343.15h-1.6M449.5 361.84h-1.6M449.5 380.53h-1.6M449.5 399.23h-1.6M449.5 417.92h-1.6M449.5 436.62h-1.6M449.5 455.31h-1.6M492.68 471.2v1.6M536.66 471.2v1.6M580.64 471.2v1.6M624.62 471.2v1.6" stroke="#222" stroke-width="0.9"/>
<path d="M449.8 471.4H665.3" stroke="#aaa" stroke-width="0.8"/>
<text transform="translate(442.60,308.16) scale(1.120,1)" text-anchor="end" font-size="7.4" fill="#1a1a1a">10</text>
<text transform="translate(442.60,326.85) scale(1.120,1)" text-anchor="end" font-size="7.4" fill="#1a1a1a">20</text>
<text transform="translate(442.60,345.55) scale(1.120,1)" text-anchor="end" font-size="7.4" fill="#1a1a1a">30</text>
<text transform="translate(442.60,364.24) scale(1.120,1)" text-anchor="end" font-size="7.4" fill="#1a1a1a">40</text>
<text transform="translate(442.60,382.93) scale(1.120,1)" text-anchor="end" font-size="7.4" fill="#1a1a1a">50</text>
<text transform="translate(442.60,401.63) scale(1.120,1)" text-anchor="end" font-size="7.4" fill="#1a1a1a">60</text>
<text transform="translate(442.60,420.32) scale(1.120,1)" text-anchor="end" font-size="7.4" fill="#1a1a1a">70</text>
<text transform="translate(442.60,439.02) scale(1.120,1)" text-anchor="end" font-size="7.4" fill="#1a1a1a">80</text>
<text transform="translate(442.60,457.71) scale(1.120,1)" text-anchor="end" font-size="7.4" fill="#1a1a1a">90</text>
<text transform="translate(492.98,484.30) scale(1.120,1)" text-anchor="middle" font-size="7.4" fill="#1a1a1a">20</text>
<text transform="translate(536.96,484.30) scale(1.120,1)" text-anchor="middle" font-size="7.4" fill="#1a1a1a">40</text>
<text transform="translate(580.94,484.30) scale(1.120,1)" text-anchor="middle" font-size="7.4" fill="#1a1a1a">60</text>
<text transform="translate(624.92,484.30) scale(1.120,1)" text-anchor="middle" font-size="7.4" fill="#1a1a1a">80</text>
<text transform="translate(556.90,282.70)" text-anchor="middle" font-size="10.6" fill="#000">fuzzy recurrence plots</text>
<rect x="678.5" y="286.2" width="16.50" height="184.70" fill="url(#gry)" stroke="#555" stroke-width="0.8"/>
<text transform="translate(698.80,473.90) scale(1.030,1)" font-size="7.3" fill="#1a1a1a">0</text>
<text transform="translate(698.80,455.43) scale(1.030,1)" font-size="7.3" fill="#1a1a1a">0.1</text>
<text transform="translate(698.80,436.96) scale(1.030,1)" font-size="7.3" fill="#1a1a1a">0.2</text>
<text transform="translate(698.80,418.49) scale(1.030,1)" font-size="7.3" fill="#1a1a1a">0.3</text>
<text transform="translate(698.80,400.02) scale(1.030,1)" font-size="7.3" fill="#1a1a1a">0.4</text>
<text transform="translate(698.80,381.55) scale(1.030,1)" font-size="7.3" fill="#1a1a1a">0.5</text>
<text transform="translate(698.80,363.08) scale(1.030,1)" font-size="7.3" fill="#1a1a1a">0.6</text>
<text transform="translate(698.80,344.61) scale(1.030,1)" font-size="7.3" fill="#1a1a1a">0.7</text>
<text transform="translate(698.80,326.14) scale(1.030,1)" font-size="7.3" fill="#1a1a1a">0.8</text>
<text transform="translate(698.80,307.67) scale(1.030,1)" font-size="7.3" fill="#1a1a1a">0.9</text>
<text transform="translate(698.80,289.20) scale(1.030,1)" font-size="7.3" fill="#1a1a1a">1</text>
<path d="M695.0 470.90h-1.6M695.0 452.43h-1.6M695.0 433.96h-1.6M695.0 415.49h-1.6M695.0 397.02h-1.6M695.0 378.55h-1.6M695.0 360.08h-1.6M695.0 341.61h-1.6M695.0 323.14h-1.6M695.0 304.67h-1.6M695.0 286.20h-1.6" stroke="#555" stroke-width="0.8"/>
<text transform="translate(2.20,9.80) scale(1.040,1)" font-size="14.6" fill="#000">A</text>
<text transform="translate(405.80,10.10) scale(1.130,1)" font-size="14.6" fill="#000">B</text>
<text transform="translate(2.00,280.00) scale(1.150,1)" font-size="14.6" fill="#000">C</text>
<text transform="translate(406.20,279.80) scale(1.070,1)" font-size="14.6" fill="#000">D</text>
</svg>
</body></html>
